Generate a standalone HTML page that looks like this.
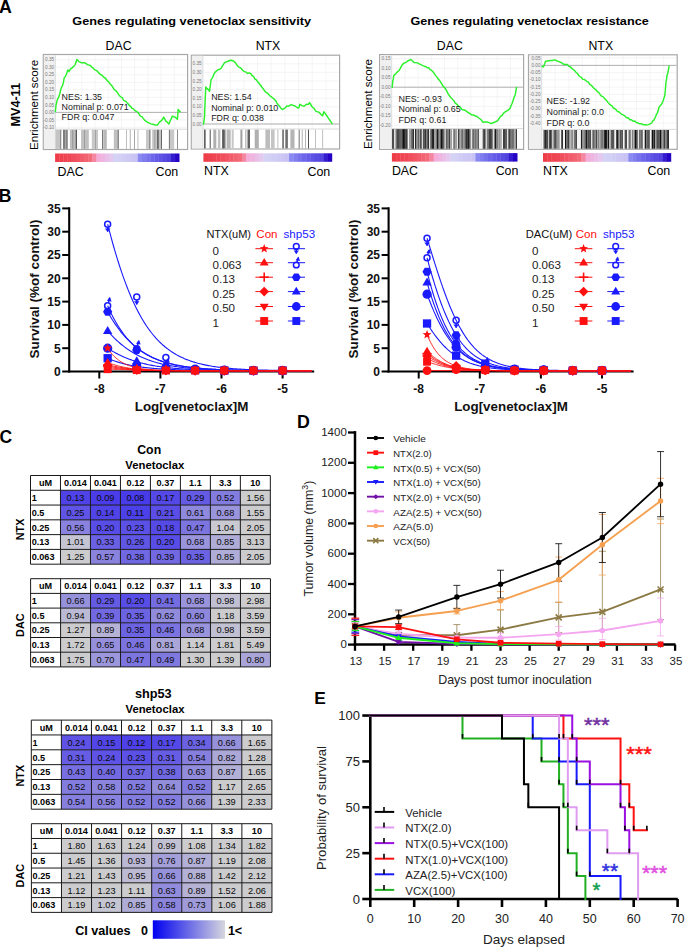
<!DOCTYPE html>
<html><head><meta charset="utf-8"><style>
html,body{margin:0;padding:0;background:#fff;width:685px;height:948px;overflow:hidden}
svg{display:block;font-family:"Liberation Sans",sans-serif}
</style></head><body>
<svg width="685" height="948" viewBox="0 0 685 948">
<rect width="685" height="948" fill="#fff"/>
<text x="-1" y="12.8" font-size="17.8" font-weight="bold" fill="#000">A</text>
<text x="72.3" y="25.1" font-size="11.7" font-weight="bold" fill="#000" textLength="238.7" lengthAdjust="spacingAndGlyphs">Genes regulating venetoclax sensitivity</text>
<text x="410.5" y="25.1" font-size="11.7" font-weight="bold" fill="#000" textLength="238.2" lengthAdjust="spacingAndGlyphs">Genes regulating venetoclax resistance</text>
<text x="118.6" y="49.8" font-size="12.3" text-anchor="middle" fill="#000">DAC</text>
<text x="268" y="49.8" font-size="12.3" text-anchor="middle" fill="#000">NTX</text>
<text x="449.8" y="49.8" font-size="12.3" text-anchor="middle" fill="#000">DAC</text>
<text x="600.8" y="49.8" font-size="12.3" text-anchor="middle" fill="#000">NTX</text>
<text x="20" y="104.8" font-size="13" font-weight="bold" text-anchor="middle" fill="#000" transform="rotate(-90 20 104.8)" textLength="43.5" lengthAdjust="spacingAndGlyphs">MV4-11</text>
<text x="38.5" y="104.9" font-size="11.6" text-anchor="middle" fill="#000" transform="rotate(-90 38.5 104.9)" textLength="90" lengthAdjust="spacingAndGlyphs">Enrichment score</text>
<text x="371.8" y="104" font-size="11.6" text-anchor="middle" fill="#000" transform="rotate(-90 371.8 104)" textLength="90" lengthAdjust="spacingAndGlyphs">Enrichment score</text>
<rect x="43.3" y="54.5" width="144.3" height="95" fill="#ffffff" stroke="#a8a8a8" stroke-width="1.2"/>
<rect x="43.9" y="55.1" width="11.5" height="93.8" fill="#f0f0f0"/>
<line x1="55.4" y1="55.1" x2="55.4" y2="148.9" stroke="#d8d8d8" stroke-width="0.8"/>
<line x1="55.4" y1="59.7" x2="186.6" y2="59.7" stroke="#ececec" stroke-width="0.6"/>
<text x="54.2" y="61.3" font-size="4.7" text-anchor="end" fill="#7a7a7a">0.35</text>
<line x1="55.4" y1="67.2" x2="186.6" y2="67.2" stroke="#ececec" stroke-width="0.6"/>
<text x="54.2" y="68.8" font-size="4.7" text-anchor="end" fill="#7a7a7a">0.30</text>
<line x1="55.4" y1="74.8" x2="186.6" y2="74.8" stroke="#ececec" stroke-width="0.6"/>
<text x="54.2" y="76.4" font-size="4.7" text-anchor="end" fill="#7a7a7a">0.25</text>
<line x1="55.4" y1="82.3" x2="186.6" y2="82.3" stroke="#ececec" stroke-width="0.6"/>
<text x="54.2" y="83.9" font-size="4.7" text-anchor="end" fill="#7a7a7a">0.20</text>
<line x1="55.4" y1="89.8" x2="186.6" y2="89.8" stroke="#ececec" stroke-width="0.6"/>
<text x="54.2" y="91.4" font-size="4.7" text-anchor="end" fill="#7a7a7a">0.15</text>
<line x1="55.4" y1="97.3" x2="186.6" y2="97.3" stroke="#ececec" stroke-width="0.6"/>
<text x="54.2" y="98.9" font-size="4.7" text-anchor="end" fill="#7a7a7a">0.10</text>
<line x1="55.4" y1="104.9" x2="186.6" y2="104.9" stroke="#ececec" stroke-width="0.6"/>
<text x="54.2" y="106.5" font-size="4.7" text-anchor="end" fill="#7a7a7a">0.05</text>
<line x1="55.4" y1="112.4" x2="186.6" y2="112.4" stroke="#ececec" stroke-width="0.6"/>
<text x="54.2" y="114" font-size="4.7" text-anchor="end" fill="#7a7a7a">0.00</text>
<line x1="55.4" y1="119.9" x2="186.6" y2="119.9" stroke="#ececec" stroke-width="0.6"/>
<text x="54.2" y="121.5" font-size="4.7" text-anchor="end" fill="#7a7a7a">-0.05</text>
<line x1="55.4" y1="127.4" x2="186.6" y2="127.4" stroke="#ececec" stroke-width="0.6"/>
<text x="54.2" y="129" font-size="4.7" text-anchor="end" fill="#7a7a7a">-0.10</text>
<line x1="68.62" y1="55.5" x2="68.62" y2="129.2" stroke="#efefef" stroke-width="0.6"/>
<line x1="81.84" y1="55.5" x2="81.84" y2="129.2" stroke="#efefef" stroke-width="0.6"/>
<line x1="95.06" y1="55.5" x2="95.06" y2="129.2" stroke="#efefef" stroke-width="0.6"/>
<line x1="108.28" y1="55.5" x2="108.28" y2="129.2" stroke="#efefef" stroke-width="0.6"/>
<line x1="121.5" y1="55.5" x2="121.5" y2="129.2" stroke="#efefef" stroke-width="0.6"/>
<line x1="134.72" y1="55.5" x2="134.72" y2="129.2" stroke="#efefef" stroke-width="0.6"/>
<line x1="147.94" y1="55.5" x2="147.94" y2="129.2" stroke="#efefef" stroke-width="0.6"/>
<line x1="161.16" y1="55.5" x2="161.16" y2="129.2" stroke="#efefef" stroke-width="0.6"/>
<line x1="174.38" y1="55.5" x2="174.38" y2="129.2" stroke="#efefef" stroke-width="0.6"/>
<line x1="55.4" y1="112.4" x2="187" y2="112.4" stroke="#a0a0a0" stroke-width="0.8"/>
<line x1="55.4" y1="129.2" x2="187" y2="129.2" stroke="#d0d0d0" stroke-width="0.8"/>
<rect x="55.6" y="129.8" width="4.6" height="19.1" fill="#c4c4c4"/>
<rect x="60.4" y="129.8" width="0.8" height="19.1" fill="#505050"/>
<rect x="63" y="129.8" width="4.8" height="19.1" fill="#a8a8a8"/>
<rect x="63.6" y="129.8" width="0.8" height="19.1" fill="#404040"/>
<rect x="66.5" y="129.8" width="0.8" height="19.1" fill="#606060"/>
<rect x="69.9" y="129.8" width="6.1" height="19.1" fill="#bdbdbd"/>
<rect x="72.5" y="129.8" width="0.7" height="19.1" fill="#808080"/>
<rect x="75.8" y="129.8" width="1" height="19.1" fill="#303030"/>
<rect x="81.1" y="129.8" width="7.7" height="19.1" fill="#c0c0c0"/>
<rect x="84" y="129.8" width="0.7" height="19.1" fill="#909090"/>
<rect x="91.8" y="129.8" width="6.2" height="19.1" fill="#c8c8c8"/>
<rect x="95" y="129.8" width="0.6" height="19.1" fill="#8a8a8a"/>
<rect x="102.3" y="129.8" width="0.8" height="19.1" fill="#404040"/>
<rect x="103.3" y="129.8" width="3.5" height="19.1" fill="#b8b8b8"/>
<rect x="113.8" y="129.8" width="4.6" height="19.1" fill="#c0c0c0"/>
<rect x="117.8" y="129.8" width="0.8" height="19.1" fill="#505050"/>
<rect x="126.2" y="129.8" width="0.8" height="19.1" fill="#b0b0b0"/>
<rect x="129.8" y="129.8" width="0.8" height="19.1" fill="#a0a0a0"/>
<rect x="134" y="129.8" width="0.8" height="19.1" fill="#909090"/>
<rect x="137.5" y="129.8" width="0.9" height="19.1" fill="#b8b8b8"/>
<rect x="146" y="129.8" width="4.7" height="19.1" fill="#c8c8c8"/>
<rect x="149.4" y="129.8" width="0.8" height="19.1" fill="#707070"/>
<rect x="152.2" y="129.8" width="9.7" height="19.1" fill="#c4c4c4"/>
<rect x="154.5" y="129.8" width="0.7" height="19.1" fill="#909090"/>
<rect x="157.2" y="129.8" width="1.4" height="19.1" fill="#505050"/>
<rect x="161" y="129.8" width="0.8" height="19.1" fill="#505050"/>
<rect x="169" y="129.8" width="5.2" height="19.1" fill="#c8c8c8"/>
<rect x="168.9" y="129.8" width="0.8" height="19.1" fill="#606060"/>
<rect x="177" y="129.8" width="0.8" height="19.1" fill="#707070"/>
<polyline points="55.28,112.21 55.49,110.36 55.7,108.51 55.91,106.66 56.12,104.3 56.55,103.26 56.97,100.88 57.39,99.47 58.14,98.11 58.88,96.66 59.41,94.7 59.93,93.16 60.46,90.52 60.99,88.85 61.7,87.02 62.4,85.79 63.11,83.69 63.46,82.15 63.82,80.04 64.17,77.99 65.23,76.61 66.29,74.46 67.03,72.17 67.77,70.07 69.04,71.37 70.52,68.81 72.11,67.85 73.69,66.38 75.18,64.59 75.74,63.11 76.31,61.34 76.87,59.43 78.99,61.56 81.1,62.74 83.22,62.84 85.34,63.09 87.45,64.59 88.87,65.03 90.28,65.42 91.69,67.09 92.96,67.85 94.23,69.29 95.5,70.07 96.77,70.49 98.04,72.13 99.25,73.37 100.46,74.55 101.67,74.98 102.88,76.26 104.09,77.51 105.3,77.98 106.51,79.79 107.56,81.03 108.62,81.55 109.68,83.47 110.74,84.55 111.8,85.67 112.86,87.46 113.91,89.18 114.97,90.04 116.18,90.92 117.39,92.7 118.6,94.38 119.81,95.93 121.02,97.03 122.23,97.65 123.44,100.03 124.65,100.83 125.86,101.47 127.07,102.73 128.28,103.9 129.49,105.74 130.7,106.39 131.91,108.32 133.18,108.61 134.45,110.14 135.72,111.09 136.99,111.71 138.26,112.72 139.53,114.99 140.8,116.34 142.07,116.67 143.34,118.61 144.61,120.16 146.02,121.2 147.43,122.3 148.84,122.83 150.96,123.88 153.08,124.28 155.19,125.08 157.31,125.14 158.37,123.7 159.43,122.13 161.54,120.55 162.6,119.33 163.66,117.06 164.72,118.77 165.78,121.16 167.36,122.16 168.95,124.06 169.59,122.46 170.22,120.63 170.86,119.51 171.49,118.38 172.13,116.26 173.72,116.81 175.3,117.16 177.42,119.27 177.53,118.29 177.63,116.46 177.74,115.05 177.84,113.04 177.95,111.66 178.06,109.46 179.33,110.84 180.6,112.21" fill="none" stroke="#2af02a" stroke-width="1.45" stroke-linejoin="round"/>
<text x="61.6" y="99.5" font-size="8.9" fill="#1a1a1a">NES: 1.35</text>
<text x="61.6" y="109.9" font-size="8.9" fill="#1a1a1a">Nominal p: 0.071</text>
<text x="61.6" y="120.3" font-size="8.9" fill="#1a1a1a">FDR q: 0.047</text>
<rect x="191.3" y="55.2" width="148.3" height="93.8" fill="#ffffff" stroke="#a8a8a8" stroke-width="1.2"/>
<rect x="191.9" y="55.8" width="11" height="92.6" fill="#f0f0f0"/>
<line x1="202.9" y1="55.8" x2="202.9" y2="148.4" stroke="#d8d8d8" stroke-width="0.8"/>
<line x1="202.9" y1="63.8" x2="338.6" y2="63.8" stroke="#ececec" stroke-width="0.6"/>
<text x="201.7" y="65.4" font-size="4.7" text-anchor="end" fill="#7a7a7a">0.35</text>
<line x1="202.9" y1="72.4" x2="338.6" y2="72.4" stroke="#ececec" stroke-width="0.6"/>
<text x="201.7" y="74" font-size="4.7" text-anchor="end" fill="#7a7a7a">0.30</text>
<line x1="202.9" y1="81" x2="338.6" y2="81" stroke="#ececec" stroke-width="0.6"/>
<text x="201.7" y="82.6" font-size="4.7" text-anchor="end" fill="#7a7a7a">0.25</text>
<line x1="202.9" y1="89.6" x2="338.6" y2="89.6" stroke="#ececec" stroke-width="0.6"/>
<text x="201.7" y="91.2" font-size="4.7" text-anchor="end" fill="#7a7a7a">0.20</text>
<line x1="202.9" y1="98.2" x2="338.6" y2="98.2" stroke="#ececec" stroke-width="0.6"/>
<text x="201.7" y="99.8" font-size="4.7" text-anchor="end" fill="#7a7a7a">0.15</text>
<line x1="202.9" y1="106.8" x2="338.6" y2="106.8" stroke="#ececec" stroke-width="0.6"/>
<text x="201.7" y="108.4" font-size="4.7" text-anchor="end" fill="#7a7a7a">0.10</text>
<line x1="202.9" y1="115.4" x2="338.6" y2="115.4" stroke="#ececec" stroke-width="0.6"/>
<text x="201.7" y="117" font-size="4.7" text-anchor="end" fill="#7a7a7a">0.05</text>
<line x1="202.9" y1="124" x2="338.6" y2="124" stroke="#ececec" stroke-width="0.6"/>
<text x="201.7" y="125.6" font-size="4.7" text-anchor="end" fill="#7a7a7a">0.00</text>
<line x1="216.57" y1="56.2" x2="216.57" y2="129" stroke="#efefef" stroke-width="0.6"/>
<line x1="230.24" y1="56.2" x2="230.24" y2="129" stroke="#efefef" stroke-width="0.6"/>
<line x1="243.91" y1="56.2" x2="243.91" y2="129" stroke="#efefef" stroke-width="0.6"/>
<line x1="257.58" y1="56.2" x2="257.58" y2="129" stroke="#efefef" stroke-width="0.6"/>
<line x1="271.25" y1="56.2" x2="271.25" y2="129" stroke="#efefef" stroke-width="0.6"/>
<line x1="284.92" y1="56.2" x2="284.92" y2="129" stroke="#efefef" stroke-width="0.6"/>
<line x1="298.59" y1="56.2" x2="298.59" y2="129" stroke="#efefef" stroke-width="0.6"/>
<line x1="312.26" y1="56.2" x2="312.26" y2="129" stroke="#efefef" stroke-width="0.6"/>
<line x1="325.93" y1="56.2" x2="325.93" y2="129" stroke="#efefef" stroke-width="0.6"/>
<line x1="202.9" y1="124" x2="339" y2="124" stroke="#a0a0a0" stroke-width="0.8"/>
<line x1="202.9" y1="129" x2="339" y2="129" stroke="#d0d0d0" stroke-width="0.8"/>
<rect x="204.1" y="129.6" width="1.5" height="18.8" fill="#505050"/>
<rect x="209.7" y="129.6" width="1" height="18.8" fill="#505050"/>
<rect x="213.3" y="129.6" width="3" height="18.8" fill="#b0b0b0"/>
<rect x="217.9" y="129.6" width="2.5" height="18.8" fill="#c0c0c0"/>
<rect x="222" y="129.6" width="3.5" height="18.8" fill="#787878"/>
<rect x="222.8" y="129.6" width="0.7" height="18.8" fill="#404040"/>
<rect x="226.6" y="129.6" width="4.1" height="18.8" fill="#b8b8b8"/>
<rect x="231.7" y="129.6" width="2" height="18.8" fill="#c8c8c8"/>
<rect x="240.4" y="129.6" width="2" height="18.8" fill="#a0a0a0"/>
<rect x="245" y="129.6" width="1.5" height="18.8" fill="#c0c0c0"/>
<rect x="247.5" y="129.6" width="2.5" height="18.8" fill="#606060"/>
<rect x="254.7" y="129.6" width="4.1" height="18.8" fill="#b0b0b0"/>
<rect x="265.4" y="129.6" width="4.6" height="18.8" fill="#bcbcbc"/>
<rect x="271" y="129.6" width="3.6" height="18.8" fill="#c4c4c4"/>
<rect x="277.5" y="129.6" width="0.8" height="18.8" fill="#b0b0b0"/>
<rect x="282.3" y="129.6" width="1.5" height="18.8" fill="#606060"/>
<rect x="285.3" y="129.6" width="2.6" height="18.8" fill="#707070"/>
<rect x="290.4" y="129.6" width="4.1" height="18.8" fill="#b4b4b4"/>
<rect x="298.7" y="129.6" width="0.9" height="18.8" fill="#606060"/>
<rect x="301.8" y="129.6" width="0.8" height="18.8" fill="#a0a0a0"/>
<rect x="305" y="129.6" width="0.8" height="18.8" fill="#a0a0a0"/>
<rect x="308" y="129.6" width="0.9" height="18.8" fill="#404040"/>
<rect x="315.1" y="129.6" width="0.8" height="18.8" fill="#b0b0b0"/>
<rect x="322.2" y="129.6" width="0.9" height="18.8" fill="#b8b8b8"/>
<polyline points="203.4,124.7 203.67,122.79 203.94,120.89 204.22,118.99 204.49,117.37 204.55,115.77 204.62,114.23 204.68,112.2 204.75,110.17 204.81,108.82 204.88,107.45 204.94,105.64 205.01,104.16 205.07,102.84 205.14,100.67 205.22,98.85 205.3,97.09 205.38,95.72 205.47,93.84 205.55,92.3 205.63,89.64 205.71,88.41 205.79,86.96 207.1,88.67 208.4,89.67 209.49,91.27 209.71,90.18 209.93,87.66 210.14,86.86 210.36,85.28 210.58,83.53 210.8,82.14 211.01,79.8 211.88,78.62 212.75,77.37 213.48,75.37 214.2,73.66 214.93,72.38 216.56,70.98 218.19,69.64 219.82,69.24 221.45,67.65 222.54,65.86 223.63,64.21 224.72,62.36 226.35,61.93 227.98,61.26 229.61,60.49 231.24,60.28 233.42,61.03 235.59,62.89 236.68,64.53 237.77,66.26 239.4,67.34 241.03,68.23 242.66,70.29 244.3,71.6 245.93,71.89 247.56,73.51 249.19,72.92 250.82,73.76 251.91,75.31 253,76.08 254.08,77.46 255.17,79.31 256.26,79.67 257.35,81.39 258.44,82.51 259.52,84.02 260.61,85.25 261.7,87 262.79,88.16 263.87,89.73 264.96,91.24 266.2,92.6 267.45,93.04 268.69,94.46 269.93,95.81 271.18,96.54 272.42,97.72 273.66,98.63 274.75,99.75 275.84,100.85 276.93,103.06 278.01,104.55 279.1,105.65 280.19,107.12 281.28,108.62 282.36,109.54 283.81,108.68 285.26,107.75 286.71,106.18 288.89,106.01 291.07,104.6 293.24,105.39 295.42,106.26 297.05,107.48 298.68,108.01 299.22,106.66 299.77,104.32 301.94,105.59 304.12,106.22 305.57,104.94 307.02,104.23 308.47,104.28 309.56,102.61 310.64,104.09 311.73,106.31 312.82,107.64 313.91,108.08 314.99,109.87 316.08,111.42 317.71,111.83 319.34,112.44 320.98,114.5 322.61,115.84 323.15,114.36 323.7,111.64 324.78,113.04 325.87,114.26 326.96,116 327.86,117.34 328.77,118.68 329.68,120.02 330.58,121.36 331.49,122.7 332.4,124.05" fill="none" stroke="#2af02a" stroke-width="1.45" stroke-linejoin="round"/>
<text x="211.2" y="100.1" font-size="8.9" fill="#1a1a1a">NES: 1.54</text>
<text x="211.2" y="110.75" font-size="8.9" fill="#1a1a1a">Nominal p: 0.010</text>
<text x="211.2" y="121.4" font-size="8.9" fill="#1a1a1a">FDR q: 0.038</text>
<rect x="379.6" y="54.6" width="144" height="94.8" fill="#ffffff" stroke="#a8a8a8" stroke-width="1.2"/>
<rect x="380.2" y="55.2" width="11.5" height="93.6" fill="#f0f0f0"/>
<line x1="391.7" y1="55.2" x2="391.7" y2="148.8" stroke="#d8d8d8" stroke-width="0.8"/>
<line x1="391.7" y1="58.7" x2="522.6" y2="58.7" stroke="#ececec" stroke-width="0.6"/>
<text x="390.5" y="60.3" font-size="4.7" text-anchor="end" fill="#7a7a7a">0.15</text>
<line x1="391.7" y1="68.2" x2="522.6" y2="68.2" stroke="#ececec" stroke-width="0.6"/>
<text x="390.5" y="69.8" font-size="4.7" text-anchor="end" fill="#7a7a7a">0.10</text>
<line x1="391.7" y1="77.7" x2="522.6" y2="77.7" stroke="#ececec" stroke-width="0.6"/>
<text x="390.5" y="79.3" font-size="4.7" text-anchor="end" fill="#7a7a7a">0.05</text>
<line x1="391.7" y1="87.2" x2="522.6" y2="87.2" stroke="#ececec" stroke-width="0.6"/>
<text x="390.5" y="88.8" font-size="4.7" text-anchor="end" fill="#7a7a7a">0.00</text>
<line x1="391.7" y1="96.7" x2="522.6" y2="96.7" stroke="#ececec" stroke-width="0.6"/>
<text x="390.5" y="98.3" font-size="4.7" text-anchor="end" fill="#7a7a7a">-0.05</text>
<line x1="391.7" y1="106.3" x2="522.6" y2="106.3" stroke="#ececec" stroke-width="0.6"/>
<text x="390.5" y="107.9" font-size="4.7" text-anchor="end" fill="#7a7a7a">-0.10</text>
<line x1="391.7" y1="115.8" x2="522.6" y2="115.8" stroke="#ececec" stroke-width="0.6"/>
<text x="390.5" y="117.4" font-size="4.7" text-anchor="end" fill="#7a7a7a">-0.15</text>
<line x1="391.7" y1="125.3" x2="522.6" y2="125.3" stroke="#ececec" stroke-width="0.6"/>
<text x="390.5" y="126.9" font-size="4.7" text-anchor="end" fill="#7a7a7a">-0.20</text>
<line x1="404.89" y1="55.6" x2="404.89" y2="128.5" stroke="#efefef" stroke-width="0.6"/>
<line x1="418.08" y1="55.6" x2="418.08" y2="128.5" stroke="#efefef" stroke-width="0.6"/>
<line x1="431.27" y1="55.6" x2="431.27" y2="128.5" stroke="#efefef" stroke-width="0.6"/>
<line x1="444.46" y1="55.6" x2="444.46" y2="128.5" stroke="#efefef" stroke-width="0.6"/>
<line x1="457.65" y1="55.6" x2="457.65" y2="128.5" stroke="#efefef" stroke-width="0.6"/>
<line x1="470.84" y1="55.6" x2="470.84" y2="128.5" stroke="#efefef" stroke-width="0.6"/>
<line x1="484.03" y1="55.6" x2="484.03" y2="128.5" stroke="#efefef" stroke-width="0.6"/>
<line x1="497.22" y1="55.6" x2="497.22" y2="128.5" stroke="#efefef" stroke-width="0.6"/>
<line x1="510.41" y1="55.6" x2="510.41" y2="128.5" stroke="#efefef" stroke-width="0.6"/>
<line x1="391.7" y1="87.2" x2="523" y2="87.2" stroke="#a0a0a0" stroke-width="0.8"/>
<line x1="391.7" y1="128.5" x2="523" y2="128.5" stroke="#d0d0d0" stroke-width="0.8"/>
<rect x="392" y="129.1" width="0.89" height="19.7" fill="#404040"/>
<rect x="392.89" y="129.1" width="0.76" height="19.7" fill="#202020"/>
<rect x="393.64" y="129.1" width="1.35" height="19.7" fill="#1a1a1a"/>
<rect x="394.99" y="129.1" width="1.33" height="19.7" fill="#202020"/>
<rect x="396.32" y="129.1" width="0.91" height="19.7" fill="#505050"/>
<rect x="397.23" y="129.1" width="0.83" height="19.7" fill="#202020"/>
<rect x="398.06" y="129.1" width="1.25" height="19.7" fill="#404040"/>
<rect x="399.31" y="129.1" width="1.17" height="19.7" fill="#303030"/>
<rect x="400.48" y="129.1" width="0.88" height="19.7" fill="#303030"/>
<rect x="401.36" y="129.1" width="1.64" height="19.7" fill="#404040"/>
<rect x="403" y="129.1" width="1.07" height="19.7" fill="#101010"/>
<rect x="404.07" y="129.1" width="1.41" height="19.7" fill="#1a1a1a"/>
<rect x="405.48" y="129.1" width="0.79" height="19.7" fill="#101010"/>
<rect x="406.27" y="129.1" width="0.96" height="19.7" fill="#101010"/>
<rect x="407.23" y="129.1" width="1.59" height="19.7" fill="#606060"/>
<rect x="408.82" y="129.1" width="1.17" height="19.7" fill="#a0a0a0"/>
<rect x="409.98" y="129.1" width="1.46" height="19.7" fill="#a0a0a0"/>
<rect x="411.44" y="129.1" width="1.07" height="19.7" fill="#202020"/>
<rect x="412.51" y="129.1" width="1.76" height="19.7" fill="#303030"/>
<rect x="414.27" y="129.1" width="1.65" height="19.7" fill="#1a1a1a"/>
<rect x="415.93" y="129.1" width="0.64" height="19.7" fill="#202020"/>
<rect x="416.57" y="129.1" width="0.86" height="19.7" fill="#a0a0a0"/>
<rect x="417.43" y="129.1" width="1.53" height="19.7" fill="#606060"/>
<rect x="418.96" y="129.1" width="1.11" height="19.7" fill="#a0a0a0"/>
<rect x="420.07" y="129.1" width="1.29" height="19.7" fill="#404040"/>
<rect x="421.36" y="129.1" width="1.3" height="19.7" fill="#505050"/>
<rect x="422.66" y="129.1" width="1.69" height="19.7" fill="#101010"/>
<rect x="424.35" y="129.1" width="1.63" height="19.7" fill="#303030"/>
<rect x="425.97" y="129.1" width="1.44" height="19.7" fill="#808080"/>
<rect x="427.41" y="129.1" width="1.76" height="19.7" fill="#1a1a1a"/>
<rect x="429.17" y="129.1" width="1.46" height="19.7" fill="#505050"/>
<rect x="430.63" y="129.1" width="1.36" height="19.7" fill="#606060"/>
<rect x="431.99" y="129.1" width="0.94" height="19.7" fill="#1a1a1a"/>
<rect x="432.93" y="129.1" width="1.18" height="19.7" fill="#202020"/>
<rect x="434.11" y="129.1" width="0.71" height="19.7" fill="#1a1a1a"/>
<rect x="434.81" y="129.1" width="1.09" height="19.7" fill="#303030"/>
<rect x="435.9" y="129.1" width="0.62" height="19.7" fill="#a0a0a0"/>
<rect x="436.53" y="129.1" width="1.52" height="19.7" fill="#1a1a1a"/>
<rect x="438.05" y="129.1" width="0.65" height="19.7" fill="#101010"/>
<rect x="438.7" y="129.1" width="1.05" height="19.7" fill="#808080"/>
<rect x="439.76" y="129.1" width="1.26" height="19.7" fill="#606060"/>
<rect x="441.02" y="129.1" width="1.21" height="19.7" fill="#101010"/>
<rect x="442.23" y="129.1" width="0.97" height="19.7" fill="#1a1a1a"/>
<rect x="443.2" y="129.1" width="0.73" height="19.7" fill="#404040"/>
<rect x="443.93" y="129.1" width="0.64" height="19.7" fill="#505050"/>
<rect x="444.56" y="129.1" width="1.77" height="19.7" fill="#606060"/>
<rect x="446.33" y="129.1" width="1.33" height="19.7" fill="#303030"/>
<rect x="447.66" y="129.1" width="1.43" height="19.7" fill="#808080"/>
<rect x="449.09" y="129.1" width="0.98" height="19.7" fill="#303030"/>
<rect x="450.07" y="129.1" width="1.68" height="19.7" fill="#a0a0a0"/>
<rect x="451.74" y="129.1" width="1.05" height="19.7" fill="#404040"/>
<rect x="452.79" y="129.1" width="1.06" height="19.7" fill="#404040"/>
<rect x="453.86" y="129.1" width="0.72" height="19.7" fill="#404040"/>
<rect x="454.58" y="129.1" width="0.93" height="19.7" fill="#505050"/>
<rect x="455.51" y="129.1" width="1.72" height="19.7" fill="#a0a0a0"/>
<rect x="457.23" y="129.1" width="1.77" height="19.7" fill="#404040"/>
<rect x="459" y="129.1" width="0.96" height="19.7" fill="#808080"/>
<rect x="459.97" y="129.1" width="0.61" height="19.7" fill="#a0a0a0"/>
<rect x="460.58" y="129.1" width="1.78" height="19.7" fill="#808080"/>
<rect x="462.37" y="129.1" width="0.62" height="19.7" fill="#303030"/>
<rect x="462.99" y="129.1" width="0.67" height="19.7" fill="#808080"/>
<rect x="463.66" y="129.1" width="1.16" height="19.7" fill="#808080"/>
<rect x="464.82" y="129.1" width="1.33" height="19.7" fill="#606060"/>
<rect x="466.15" y="129.1" width="1.49" height="19.7" fill="#101010"/>
<rect x="467.64" y="129.1" width="1.31" height="19.7" fill="#101010"/>
<rect x="468.95" y="129.1" width="1.76" height="19.7" fill="#606060"/>
<rect x="470.7" y="129.1" width="1.35" height="19.7" fill="#606060"/>
<rect x="472.06" y="129.1" width="1.31" height="19.7" fill="#808080"/>
<rect x="473.37" y="129.1" width="0.81" height="19.7" fill="#303030"/>
<rect x="474.18" y="129.1" width="0.98" height="19.7" fill="#808080"/>
<rect x="475.15" y="129.1" width="1.61" height="19.7" fill="#606060"/>
<rect x="476.77" y="129.1" width="0.96" height="19.7" fill="#a0a0a0"/>
<rect x="477.73" y="129.1" width="0.73" height="19.7" fill="#101010"/>
<rect x="478.45" y="129.1" width="1.77" height="19.7" fill="#303030"/>
<rect x="480.22" y="129.1" width="0.97" height="19.7" fill="#505050"/>
<rect x="481.19" y="129.1" width="1.38" height="19.7" fill="#606060"/>
<rect x="482.58" y="129.1" width="0.89" height="19.7" fill="#303030"/>
<rect x="483.46" y="129.1" width="1.41" height="19.7" fill="#1a1a1a"/>
<rect x="484.88" y="129.1" width="0.72" height="19.7" fill="#808080"/>
<rect x="485.6" y="129.1" width="1.74" height="19.7" fill="#505050"/>
<rect x="487.34" y="129.1" width="1.13" height="19.7" fill="#303030"/>
<rect x="488.46" y="129.1" width="0.7" height="19.7" fill="#505050"/>
<rect x="489.16" y="129.1" width="1.66" height="19.7" fill="#202020"/>
<rect x="490.82" y="129.1" width="0.92" height="19.7" fill="#1a1a1a"/>
<rect x="491.75" y="129.1" width="0.64" height="19.7" fill="#505050"/>
<rect x="492.39" y="129.1" width="0.98" height="19.7" fill="#303030"/>
<rect x="493.36" y="129.1" width="1.64" height="19.7" fill="#808080"/>
<rect x="495" y="129.1" width="1.57" height="19.7" fill="#1a1a1a"/>
<rect x="496.57" y="129.1" width="1.57" height="19.7" fill="#808080"/>
<rect x="498.14" y="129.1" width="1.31" height="19.7" fill="#a0a0a0"/>
<rect x="499.44" y="129.1" width="0.95" height="19.7" fill="#606060"/>
<rect x="500.39" y="129.1" width="1.16" height="19.7" fill="#a0a0a0"/>
<rect x="501.55" y="129.1" width="0.95" height="19.7" fill="#a0a0a0"/>
<rect x="502.5" y="129.1" width="0.64" height="19.7" fill="#a0a0a0"/>
<rect x="503.14" y="129.1" width="0.79" height="19.7" fill="#101010"/>
<rect x="503.93" y="129.1" width="1.17" height="19.7" fill="#404040"/>
<rect x="505.1" y="129.1" width="1.12" height="19.7" fill="#505050"/>
<rect x="506.22" y="129.1" width="0.64" height="19.7" fill="#202020"/>
<rect x="506.86" y="129.1" width="1.6" height="19.7" fill="#404040"/>
<rect x="508.47" y="129.1" width="1.76" height="19.7" fill="#404040"/>
<rect x="510.22" y="129.1" width="1.01" height="19.7" fill="#505050"/>
<rect x="511.23" y="129.1" width="1.63" height="19.7" fill="#606060"/>
<rect x="512.87" y="129.1" width="0.74" height="19.7" fill="#505050"/>
<rect x="513.61" y="129.1" width="0.65" height="19.7" fill="#404040"/>
<rect x="514.26" y="129.1" width="1.71" height="19.7" fill="#a0a0a0"/>
<rect x="515.97" y="129.1" width="0.83" height="19.7" fill="#101010"/>
<rect x="394.1" y="129.1" width="1.6" height="19.7" fill="#f4f4f4"/>
<rect x="407.9" y="129.1" width="1.1" height="19.7" fill="#f4f4f4"/>
<rect x="414" y="129.1" width="1" height="19.7" fill="#f4f4f4"/>
<rect x="422.2" y="129.1" width="1.1" height="19.7" fill="#f4f4f4"/>
<rect x="428.9" y="129.1" width="1" height="19.7" fill="#f4f4f4"/>
<rect x="434.5" y="129.1" width="1" height="19.7" fill="#f4f4f4"/>
<rect x="444.7" y="129.1" width="1" height="19.7" fill="#f4f4f4"/>
<rect x="451.9" y="129.1" width="1.5" height="19.7" fill="#f4f4f4"/>
<rect x="457" y="129.1" width="0.9" height="19.7" fill="#f4f4f4"/>
<rect x="470.8" y="129.1" width="1.1" height="19.7" fill="#f4f4f4"/>
<rect x="479" y="129.1" width="3.6" height="19.7" fill="#f4f4f4"/>
<rect x="486.2" y="129.1" width="1" height="19.7" fill="#f4f4f4"/>
<rect x="492.8" y="129.1" width="1" height="19.7" fill="#f4f4f4"/>
<rect x="502" y="129.1" width="1" height="19.7" fill="#f4f4f4"/>
<rect x="507.1" y="129.1" width="1" height="19.7" fill="#f4f4f4"/>
<polyline points="392.12,87.87 392.34,85.75 392.55,83.64 392.76,81 393.02,79.97 393.29,78.64 393.55,76.95 393.82,75.63 395.93,73.54 397.52,71.74 399.11,70.42 400.17,68.64 401.23,66.61 402.29,64.57 404.4,62.88 405.99,62.46 407.58,60.98 409.17,60.29 410.75,59.5 412.34,60.75 413.93,62.52 415.69,62.6 417.46,62.87 419.22,63.88 421.34,64.92 423.45,65.81 425.22,66.48 426.98,67.47 428.75,67.67 430.07,69.57 431.39,70.22 432.72,71.45 434.04,73.17 435.1,74.98 436.15,76.12 437.21,77.35 438.27,79.16 439.33,80.08 440.39,81.56 441.45,83.43 442.51,85.19 443.56,86.91 444.62,87.4 445.5,89.05 446.39,90.18 447.27,92.14 448.15,93.92 449.03,94.89 449.91,96.58 450.97,97.69 452.03,98.59 453.09,99.87 454.15,101.01 455.21,103.14 456.48,103.92 457.75,105.26 459.02,106.78 460.29,107.13 461.56,109.1 463.14,109.93 464.73,110.09 466.32,111.06 467.91,112.51 469.67,113.44 471.44,114.71 473.2,114.99 474.96,115.77 476.73,116.32 478.49,117.75 479.9,118.77 481.31,119.96 482.73,122.23 484.84,122.07 486.96,121.98 489.08,122.64 491.19,123.56 492.96,122.73 494.72,122.19 496.49,121.26 497.54,120.86 498.6,119.24 499.66,117.59 500.72,116.13 502.04,115.51 503.36,113.39 504.69,112.22 506.01,111.44 507.42,110.64 508.83,109.57 510.24,108.09 510.88,105.95 511.51,104.77 512.15,103.22 512.78,101.41 513.42,99.49 513.95,97.81 514.48,96.51 515.01,95.26 515.54,93.16 515.8,91.57 516.07,89.99 516.33,88.4 516.6,86.81" fill="none" stroke="#2af02a" stroke-width="1.45" stroke-linejoin="round"/>
<text x="398.5" y="101.6" font-size="8.9" fill="#1a1a1a">NES: -0.93</text>
<text x="398.5" y="112.2" font-size="8.9" fill="#1a1a1a">Nominal p: 0.65</text>
<text x="398.5" y="122.8" font-size="8.9" fill="#1a1a1a">FDR q: 0.61</text>
<rect x="528.5" y="54.8" width="148.7" height="94.5" fill="#ffffff" stroke="#a8a8a8" stroke-width="1.2"/>
<rect x="529.1" y="55.4" width="12.6" height="93.3" fill="#f0f0f0"/>
<line x1="541.7" y1="55.4" x2="541.7" y2="148.7" stroke="#d8d8d8" stroke-width="0.8"/>
<line x1="541.7" y1="57.9" x2="676.2" y2="57.9" stroke="#ececec" stroke-width="0.6"/>
<text x="540.5" y="59.5" font-size="4.7" text-anchor="end" fill="#7a7a7a">0.05</text>
<line x1="541.7" y1="65.4" x2="676.2" y2="65.4" stroke="#ececec" stroke-width="0.6"/>
<text x="540.5" y="67" font-size="4.7" text-anchor="end" fill="#7a7a7a">0.00</text>
<line x1="541.7" y1="72.6" x2="676.2" y2="72.6" stroke="#ececec" stroke-width="0.6"/>
<text x="540.5" y="74.2" font-size="4.7" text-anchor="end" fill="#7a7a7a">-0.05</text>
<line x1="541.7" y1="79.8" x2="676.2" y2="79.8" stroke="#ececec" stroke-width="0.6"/>
<text x="540.5" y="81.4" font-size="4.7" text-anchor="end" fill="#7a7a7a">-0.10</text>
<line x1="541.7" y1="87.1" x2="676.2" y2="87.1" stroke="#ececec" stroke-width="0.6"/>
<text x="540.5" y="88.7" font-size="4.7" text-anchor="end" fill="#7a7a7a">-0.15</text>
<line x1="541.7" y1="94.3" x2="676.2" y2="94.3" stroke="#ececec" stroke-width="0.6"/>
<text x="540.5" y="95.9" font-size="4.7" text-anchor="end" fill="#7a7a7a">-0.20</text>
<line x1="541.7" y1="101.5" x2="676.2" y2="101.5" stroke="#ececec" stroke-width="0.6"/>
<text x="540.5" y="103.1" font-size="4.7" text-anchor="end" fill="#7a7a7a">-0.25</text>
<line x1="541.7" y1="108.7" x2="676.2" y2="108.7" stroke="#ececec" stroke-width="0.6"/>
<text x="540.5" y="110.3" font-size="4.7" text-anchor="end" fill="#7a7a7a">-0.30</text>
<line x1="541.7" y1="115.9" x2="676.2" y2="115.9" stroke="#ececec" stroke-width="0.6"/>
<text x="540.5" y="117.5" font-size="4.7" text-anchor="end" fill="#7a7a7a">-0.35</text>
<line x1="541.7" y1="123.1" x2="676.2" y2="123.1" stroke="#ececec" stroke-width="0.6"/>
<text x="540.5" y="124.7" font-size="4.7" text-anchor="end" fill="#7a7a7a">-0.40</text>
<line x1="555.25" y1="55.8" x2="555.25" y2="129.4" stroke="#efefef" stroke-width="0.6"/>
<line x1="568.8" y1="55.8" x2="568.8" y2="129.4" stroke="#efefef" stroke-width="0.6"/>
<line x1="582.35" y1="55.8" x2="582.35" y2="129.4" stroke="#efefef" stroke-width="0.6"/>
<line x1="595.9" y1="55.8" x2="595.9" y2="129.4" stroke="#efefef" stroke-width="0.6"/>
<line x1="609.45" y1="55.8" x2="609.45" y2="129.4" stroke="#efefef" stroke-width="0.6"/>
<line x1="623" y1="55.8" x2="623" y2="129.4" stroke="#efefef" stroke-width="0.6"/>
<line x1="636.55" y1="55.8" x2="636.55" y2="129.4" stroke="#efefef" stroke-width="0.6"/>
<line x1="650.1" y1="55.8" x2="650.1" y2="129.4" stroke="#efefef" stroke-width="0.6"/>
<line x1="663.65" y1="55.8" x2="663.65" y2="129.4" stroke="#efefef" stroke-width="0.6"/>
<line x1="541.7" y1="65.4" x2="676.6" y2="65.4" stroke="#a0a0a0" stroke-width="0.8"/>
<line x1="541.7" y1="129.4" x2="676.6" y2="129.4" stroke="#d0d0d0" stroke-width="0.8"/>
<rect x="543.6" y="130" width="0.88" height="18.7" fill="#1a1a1a"/>
<rect x="544.48" y="130" width="1.47" height="18.7" fill="#202020"/>
<rect x="545.95" y="130" width="0.79" height="18.7" fill="#1a1a1a"/>
<rect x="546.73" y="130" width="0.62" height="18.7" fill="#404040"/>
<rect x="547.36" y="130" width="1.7" height="18.7" fill="#101010"/>
<rect x="549.06" y="130" width="0.87" height="18.7" fill="#404040"/>
<rect x="549.93" y="130" width="1.03" height="18.7" fill="#303030"/>
<rect x="550.96" y="130" width="1.59" height="18.7" fill="#606060"/>
<rect x="552.55" y="130" width="0.86" height="18.7" fill="#101010"/>
<rect x="553.41" y="130" width="1.59" height="18.7" fill="#606060"/>
<rect x="555" y="130" width="1.56" height="18.7" fill="#505050"/>
<rect x="556.56" y="130" width="0.8" height="18.7" fill="#606060"/>
<rect x="557.36" y="130" width="1.35" height="18.7" fill="#808080"/>
<rect x="558.71" y="130" width="0.7" height="18.7" fill="#808080"/>
<rect x="559.42" y="130" width="1.41" height="18.7" fill="#404040"/>
<rect x="560.82" y="130" width="0.9" height="18.7" fill="#505050"/>
<rect x="561.72" y="130" width="1.17" height="18.7" fill="#1a1a1a"/>
<rect x="562.89" y="130" width="1.73" height="18.7" fill="#404040"/>
<rect x="564.62" y="130" width="1.61" height="18.7" fill="#101010"/>
<rect x="566.23" y="130" width="1.69" height="18.7" fill="#606060"/>
<rect x="567.92" y="130" width="1.62" height="18.7" fill="#404040"/>
<rect x="569.54" y="130" width="0.83" height="18.7" fill="#a0a0a0"/>
<rect x="570.38" y="130" width="1.32" height="18.7" fill="#a0a0a0"/>
<rect x="571.69" y="130" width="1.14" height="18.7" fill="#505050"/>
<rect x="572.84" y="130" width="0.97" height="18.7" fill="#101010"/>
<rect x="573.8" y="130" width="0.7" height="18.7" fill="#202020"/>
<rect x="574.5" y="130" width="1.35" height="18.7" fill="#606060"/>
<rect x="575.85" y="130" width="1.22" height="18.7" fill="#202020"/>
<rect x="577.07" y="130" width="1.44" height="18.7" fill="#303030"/>
<rect x="578.51" y="130" width="1.8" height="18.7" fill="#505050"/>
<rect x="580.31" y="130" width="0.68" height="18.7" fill="#505050"/>
<rect x="580.99" y="130" width="1.36" height="18.7" fill="#202020"/>
<rect x="582.35" y="130" width="0.93" height="18.7" fill="#808080"/>
<rect x="583.28" y="130" width="1.12" height="18.7" fill="#808080"/>
<rect x="584.41" y="130" width="1.36" height="18.7" fill="#505050"/>
<rect x="585.77" y="130" width="1.69" height="18.7" fill="#1a1a1a"/>
<rect x="587.45" y="130" width="1.61" height="18.7" fill="#505050"/>
<rect x="589.06" y="130" width="0.93" height="18.7" fill="#505050"/>
<rect x="589.99" y="130" width="0.75" height="18.7" fill="#303030"/>
<rect x="590.74" y="130" width="0.95" height="18.7" fill="#101010"/>
<rect x="591.69" y="130" width="0.65" height="18.7" fill="#1a1a1a"/>
<rect x="592.34" y="130" width="1.68" height="18.7" fill="#606060"/>
<rect x="594.02" y="130" width="1.48" height="18.7" fill="#808080"/>
<rect x="595.5" y="130" width="0.62" height="18.7" fill="#606060"/>
<rect x="596.12" y="130" width="0.99" height="18.7" fill="#303030"/>
<rect x="597.11" y="130" width="1.53" height="18.7" fill="#a0a0a0"/>
<rect x="598.64" y="130" width="1.63" height="18.7" fill="#1a1a1a"/>
<rect x="600.27" y="130" width="0.95" height="18.7" fill="#505050"/>
<rect x="601.22" y="130" width="1.67" height="18.7" fill="#606060"/>
<rect x="602.89" y="130" width="0.76" height="18.7" fill="#a0a0a0"/>
<rect x="603.66" y="130" width="1.32" height="18.7" fill="#303030"/>
<rect x="604.98" y="130" width="1" height="18.7" fill="#101010"/>
<rect x="605.97" y="130" width="1.04" height="18.7" fill="#202020"/>
<rect x="607.01" y="130" width="0.8" height="18.7" fill="#808080"/>
<rect x="607.81" y="130" width="1.8" height="18.7" fill="#1a1a1a"/>
<rect x="609.61" y="130" width="1.13" height="18.7" fill="#505050"/>
<rect x="610.74" y="130" width="1.11" height="18.7" fill="#505050"/>
<rect x="611.85" y="130" width="0.74" height="18.7" fill="#101010"/>
<rect x="612.58" y="130" width="0.67" height="18.7" fill="#303030"/>
<rect x="613.25" y="130" width="1.31" height="18.7" fill="#303030"/>
<rect x="614.56" y="130" width="1.33" height="18.7" fill="#404040"/>
<rect x="615.89" y="130" width="1.19" height="18.7" fill="#505050"/>
<rect x="617.08" y="130" width="0.99" height="18.7" fill="#101010"/>
<rect x="618.07" y="130" width="0.75" height="18.7" fill="#404040"/>
<rect x="618.81" y="130" width="0.95" height="18.7" fill="#a0a0a0"/>
<rect x="619.76" y="130" width="1.38" height="18.7" fill="#505050"/>
<rect x="621.15" y="130" width="1.17" height="18.7" fill="#505050"/>
<rect x="622.32" y="130" width="1.13" height="18.7" fill="#202020"/>
<rect x="623.45" y="130" width="0.64" height="18.7" fill="#a0a0a0"/>
<rect x="624.09" y="130" width="1.13" height="18.7" fill="#a0a0a0"/>
<rect x="625.22" y="130" width="1.6" height="18.7" fill="#202020"/>
<rect x="626.82" y="130" width="0.83" height="18.7" fill="#101010"/>
<rect x="627.65" y="130" width="0.91" height="18.7" fill="#505050"/>
<rect x="628.55" y="130" width="1.23" height="18.7" fill="#505050"/>
<rect x="629.78" y="130" width="1.1" height="18.7" fill="#606060"/>
<rect x="630.88" y="130" width="0.77" height="18.7" fill="#101010"/>
<rect x="631.65" y="130" width="1.67" height="18.7" fill="#808080"/>
<rect x="633.32" y="130" width="1.28" height="18.7" fill="#a0a0a0"/>
<rect x="634.6" y="130" width="1.76" height="18.7" fill="#101010"/>
<rect x="636.36" y="130" width="1.19" height="18.7" fill="#1a1a1a"/>
<rect x="637.55" y="130" width="1.12" height="18.7" fill="#303030"/>
<rect x="638.66" y="130" width="1" height="18.7" fill="#202020"/>
<rect x="639.67" y="130" width="1.56" height="18.7" fill="#808080"/>
<rect x="641.23" y="130" width="1.58" height="18.7" fill="#404040"/>
<rect x="642.81" y="130" width="0.86" height="18.7" fill="#606060"/>
<rect x="643.66" y="130" width="1.01" height="18.7" fill="#a0a0a0"/>
<rect x="644.67" y="130" width="1.75" height="18.7" fill="#1a1a1a"/>
<rect x="646.42" y="130" width="1.63" height="18.7" fill="#606060"/>
<rect x="648.05" y="130" width="1.75" height="18.7" fill="#505050"/>
<rect x="649.8" y="130" width="0.65" height="18.7" fill="#303030"/>
<rect x="650.46" y="130" width="1.52" height="18.7" fill="#606060"/>
<rect x="651.98" y="130" width="1.4" height="18.7" fill="#101010"/>
<rect x="653.38" y="130" width="1.64" height="18.7" fill="#202020"/>
<rect x="655.02" y="130" width="1.28" height="18.7" fill="#a0a0a0"/>
<rect x="656.3" y="130" width="1.71" height="18.7" fill="#505050"/>
<rect x="658.02" y="130" width="1.56" height="18.7" fill="#505050"/>
<rect x="659.57" y="130" width="1.71" height="18.7" fill="#101010"/>
<rect x="661.28" y="130" width="1.33" height="18.7" fill="#606060"/>
<rect x="662.61" y="130" width="0.74" height="18.7" fill="#a0a0a0"/>
<rect x="663.35" y="130" width="1.65" height="18.7" fill="#404040"/>
<rect x="665.01" y="130" width="0.66" height="18.7" fill="#505050"/>
<rect x="665.67" y="130" width="0.79" height="18.7" fill="#808080"/>
<rect x="666.46" y="130" width="1.58" height="18.7" fill="#404040"/>
<rect x="668.05" y="130" width="0.95" height="18.7" fill="#202020"/>
<rect x="548.2" y="130" width="0.8" height="18.7" fill="#f4f4f4"/>
<rect x="552.3" y="130" width="1" height="18.7" fill="#f4f4f4"/>
<rect x="559.5" y="130" width="1.5" height="18.7" fill="#f4f4f4"/>
<rect x="563" y="130" width="2" height="18.7" fill="#f4f4f4"/>
<rect x="572.7" y="130" width="1.1" height="18.7" fill="#f4f4f4"/>
<rect x="576.8" y="130" width="4.1" height="18.7" fill="#f4f4f4"/>
<rect x="591.1" y="130" width="1.1" height="18.7" fill="#f4f4f4"/>
<rect x="599.3" y="130" width="1" height="18.7" fill="#f4f4f4"/>
<rect x="609.4" y="130" width="1.1" height="18.7" fill="#f4f4f4"/>
<rect x="614.3" y="130" width="1.7" height="18.7" fill="#f4f4f4"/>
<rect x="623" y="130" width="1.2" height="18.7" fill="#f4f4f4"/>
<rect x="626.9" y="130" width="1.6" height="18.7" fill="#f4f4f4"/>
<rect x="630.7" y="130" width="1.1" height="18.7" fill="#f4f4f4"/>
<rect x="637.8" y="130" width="1.1" height="18.7" fill="#f4f4f4"/>
<rect x="642.8" y="130" width="1.6" height="18.7" fill="#f4f4f4"/>
<rect x="649.9" y="130" width="1.6" height="18.7" fill="#f4f4f4"/>
<polyline points="541.58,66.04 543.33,67.01 544.06,65.37 544.79,63.42 545.52,61.22 547.16,61.08 548.8,60.8 550.63,60.52 552.45,60.5 554.28,59.85 556.47,60.54 558.65,61.55 560.11,62.06 561.57,62.72 563.03,63.93 565.22,64.49 567.41,64.42 568.87,66.36 570.33,66.68 571.79,68.43 573.25,69.47 574.71,70.83 576.17,72.53 577.49,73.63 578.8,75.52 580.11,76.84 581.43,77.35 582.74,79.3 584.2,79.37 585.66,80.51 587.12,81.67 588.43,82.18 589.75,84.4 591.06,85.05 592.37,86.47 593.69,88.01 595,89.19 596.32,90.08 597.63,91.79 598.94,92.72 600.26,94.71 601.57,96.16 602.89,96.63 604.2,98.11 605.51,99.42 606.83,100.82 608.14,102.6 609.45,104.13 610.77,105.19 612.08,105.81 613.4,108.01 614.71,108.52 616.02,109.65 617.34,111.41 618.65,111.62 619.96,112.74 621.61,114.31 623.25,114.88 624.89,116.02 626.53,117.82 628.18,117.81 629.82,119.68 631.46,119.76 633.1,121.29 634.74,120.97 636.39,122.56 638.03,122.97 639.67,123.82 641.31,123.74 642.96,124.66 644.6,124.61 646.24,125.03 648.43,124.59 650.62,123.69 651.71,122.98 652.81,120.76 653.9,120.22 654.72,118.39 655.55,116.85 656.37,114.5 657.19,113.4 657.74,111.87 658.28,110.31 658.83,107.72 659.38,106.81 660.47,105.52 661.57,104.16 662.66,102.07 663.21,100.42 663.76,98.53 664.3,97.18 664.85,95.33 664.99,93.43 665.13,91.85 665.26,90.89 665.4,88.74 665.54,87.52 665.67,86.28 665.81,84.27 665.95,82.82 666.22,80.85 666.49,79.69 666.77,77.34 667.04,75.43 667.59,73.82 668.14,71.52 668.5,69.47 668.87,67.43 669.23,65.39" fill="none" stroke="#2af02a" stroke-width="1.45" stroke-linejoin="round"/>
<text x="546.6" y="104" font-size="8.9" fill="#1a1a1a">NES: -1.92</text>
<text x="546.6" y="114.8" font-size="8.9" fill="#1a1a1a">Nominal p: 0.0</text>
<text x="546.6" y="125.6" font-size="8.9" fill="#1a1a1a">FDR q: 0.0</text>
<rect x="55.1" y="153.5" width="4.44" height="8.5" fill="rgb(238,61,73)"/>
<rect x="59.24" y="153.5" width="4.44" height="8.5" fill="rgb(238,65,77)"/>
<rect x="63.37" y="153.5" width="4.44" height="8.5" fill="rgb(239,68,81)"/>
<rect x="67.51" y="153.5" width="4.44" height="8.5" fill="rgb(239,71,85)"/>
<rect x="71.65" y="153.5" width="4.44" height="8.5" fill="rgb(240,78,92)"/>
<rect x="75.78" y="153.5" width="4.44" height="8.5" fill="rgb(241,85,99)"/>
<rect x="79.92" y="153.5" width="4.44" height="8.5" fill="rgb(242,92,106)"/>
<rect x="84.06" y="153.5" width="4.44" height="8.5" fill="rgb(242,99,113)"/>
<rect x="88.19" y="153.5" width="4.44" height="8.5" fill="rgb(243,106,120)"/>
<rect x="92.33" y="153.5" width="4.44" height="8.5" fill="rgb(244,134,161)"/>
<rect x="96.47" y="153.5" width="4.44" height="8.5" fill="rgb(244,172,217)"/>
<rect x="100.6" y="153.5" width="4.44" height="8.5" fill="rgb(238,181,224)"/>
<rect x="104.74" y="153.5" width="4.44" height="8.5" fill="rgb(233,190,231)"/>
<rect x="108.88" y="153.5" width="4.44" height="8.5" fill="rgb(228,200,238)"/>
<rect x="113.01" y="153.5" width="4.44" height="8.5" fill="rgb(213,211,245)"/>
<rect x="117.15" y="153.5" width="4.44" height="8.5" fill="rgb(211,208,245)"/>
<rect x="121.29" y="153.5" width="4.44" height="8.5" fill="rgb(208,205,245)"/>
<rect x="125.42" y="153.5" width="4.44" height="8.5" fill="rgb(205,201,244)"/>
<rect x="129.56" y="153.5" width="4.44" height="8.5" fill="rgb(203,198,244)"/>
<rect x="133.7" y="153.5" width="4.44" height="8.5" fill="rgb(200,195,244)"/>
<rect x="137.83" y="153.5" width="4.44" height="8.5" fill="rgb(137,137,241)"/>
<rect x="141.97" y="153.5" width="4.44" height="8.5" fill="rgb(128,125,239)"/>
<rect x="146.11" y="153.5" width="4.44" height="8.5" fill="rgb(119,114,236)"/>
<rect x="150.24" y="153.5" width="4.44" height="8.5" fill="rgb(110,102,234)"/>
<rect x="154.38" y="153.5" width="4.44" height="8.5" fill="rgb(100,91,232)"/>
<rect x="158.52" y="153.5" width="4.44" height="8.5" fill="rgb(94,83,229)"/>
<rect x="162.65" y="153.5" width="4.44" height="8.5" fill="rgb(88,75,226)"/>
<rect x="166.79" y="153.5" width="4.44" height="8.5" fill="rgb(82,67,223)"/>
<rect x="170.93" y="153.5" width="4.44" height="8.5" fill="rgb(52,27,207)"/>
<rect x="175.06" y="153.5" width="4.44" height="8.5" fill="rgb(37,3,197)"/>
<rect x="203.4" y="153.3" width="4.58" height="8.5" fill="rgb(238,61,73)"/>
<rect x="207.68" y="153.3" width="4.58" height="8.5" fill="rgb(238,65,77)"/>
<rect x="211.97" y="153.3" width="4.58" height="8.5" fill="rgb(239,68,81)"/>
<rect x="216.25" y="153.3" width="4.58" height="8.5" fill="rgb(239,71,85)"/>
<rect x="220.53" y="153.3" width="4.58" height="8.5" fill="rgb(240,78,92)"/>
<rect x="224.82" y="153.3" width="4.58" height="8.5" fill="rgb(241,85,99)"/>
<rect x="229.1" y="153.3" width="4.58" height="8.5" fill="rgb(242,92,106)"/>
<rect x="233.38" y="153.3" width="4.58" height="8.5" fill="rgb(242,99,113)"/>
<rect x="237.67" y="153.3" width="4.58" height="8.5" fill="rgb(243,106,120)"/>
<rect x="241.95" y="153.3" width="4.58" height="8.5" fill="rgb(244,134,161)"/>
<rect x="246.23" y="153.3" width="4.58" height="8.5" fill="rgb(244,172,217)"/>
<rect x="250.52" y="153.3" width="4.58" height="8.5" fill="rgb(238,181,224)"/>
<rect x="254.8" y="153.3" width="4.58" height="8.5" fill="rgb(233,190,231)"/>
<rect x="259.08" y="153.3" width="4.58" height="8.5" fill="rgb(228,200,238)"/>
<rect x="263.37" y="153.3" width="4.58" height="8.5" fill="rgb(213,211,245)"/>
<rect x="267.65" y="153.3" width="4.58" height="8.5" fill="rgb(211,208,245)"/>
<rect x="271.93" y="153.3" width="4.58" height="8.5" fill="rgb(208,205,245)"/>
<rect x="276.22" y="153.3" width="4.58" height="8.5" fill="rgb(205,201,244)"/>
<rect x="280.5" y="153.3" width="4.58" height="8.5" fill="rgb(203,198,244)"/>
<rect x="284.78" y="153.3" width="4.58" height="8.5" fill="rgb(200,195,244)"/>
<rect x="289.07" y="153.3" width="4.58" height="8.5" fill="rgb(137,137,241)"/>
<rect x="293.35" y="153.3" width="4.58" height="8.5" fill="rgb(128,125,239)"/>
<rect x="297.63" y="153.3" width="4.58" height="8.5" fill="rgb(119,114,236)"/>
<rect x="301.92" y="153.3" width="4.58" height="8.5" fill="rgb(110,102,234)"/>
<rect x="306.2" y="153.3" width="4.58" height="8.5" fill="rgb(100,91,232)"/>
<rect x="310.48" y="153.3" width="4.58" height="8.5" fill="rgb(94,83,229)"/>
<rect x="314.77" y="153.3" width="4.58" height="8.5" fill="rgb(88,75,226)"/>
<rect x="319.05" y="153.3" width="4.58" height="8.5" fill="rgb(82,67,223)"/>
<rect x="323.33" y="153.3" width="4.58" height="8.5" fill="rgb(52,27,207)"/>
<rect x="327.62" y="153.3" width="4.58" height="8.5" fill="rgb(37,3,197)"/>
<rect x="391.9" y="153.1" width="4.48" height="8.5" fill="rgb(238,61,73)"/>
<rect x="396.08" y="153.1" width="4.48" height="8.5" fill="rgb(238,65,77)"/>
<rect x="400.25" y="153.1" width="4.48" height="8.5" fill="rgb(239,68,81)"/>
<rect x="404.43" y="153.1" width="4.48" height="8.5" fill="rgb(239,71,85)"/>
<rect x="408.61" y="153.1" width="4.48" height="8.5" fill="rgb(240,78,92)"/>
<rect x="412.78" y="153.1" width="4.48" height="8.5" fill="rgb(241,85,99)"/>
<rect x="416.96" y="153.1" width="4.48" height="8.5" fill="rgb(242,92,106)"/>
<rect x="421.14" y="153.1" width="4.48" height="8.5" fill="rgb(242,99,113)"/>
<rect x="425.31" y="153.1" width="4.48" height="8.5" fill="rgb(243,106,120)"/>
<rect x="429.49" y="153.1" width="4.48" height="8.5" fill="rgb(244,134,161)"/>
<rect x="433.67" y="153.1" width="4.48" height="8.5" fill="rgb(244,172,217)"/>
<rect x="437.84" y="153.1" width="4.48" height="8.5" fill="rgb(238,181,224)"/>
<rect x="442.02" y="153.1" width="4.48" height="8.5" fill="rgb(233,190,231)"/>
<rect x="446.2" y="153.1" width="4.48" height="8.5" fill="rgb(228,200,238)"/>
<rect x="450.37" y="153.1" width="4.48" height="8.5" fill="rgb(213,211,245)"/>
<rect x="454.55" y="153.1" width="4.48" height="8.5" fill="rgb(211,208,245)"/>
<rect x="458.73" y="153.1" width="4.48" height="8.5" fill="rgb(208,205,245)"/>
<rect x="462.9" y="153.1" width="4.48" height="8.5" fill="rgb(205,201,244)"/>
<rect x="467.08" y="153.1" width="4.48" height="8.5" fill="rgb(203,198,244)"/>
<rect x="471.26" y="153.1" width="4.48" height="8.5" fill="rgb(200,195,244)"/>
<rect x="475.43" y="153.1" width="4.48" height="8.5" fill="rgb(137,137,241)"/>
<rect x="479.61" y="153.1" width="4.48" height="8.5" fill="rgb(128,125,239)"/>
<rect x="483.79" y="153.1" width="4.48" height="8.5" fill="rgb(119,114,236)"/>
<rect x="487.96" y="153.1" width="4.48" height="8.5" fill="rgb(110,102,234)"/>
<rect x="492.14" y="153.1" width="4.48" height="8.5" fill="rgb(100,91,232)"/>
<rect x="496.32" y="153.1" width="4.48" height="8.5" fill="rgb(94,83,229)"/>
<rect x="500.49" y="153.1" width="4.48" height="8.5" fill="rgb(88,75,226)"/>
<rect x="504.67" y="153.1" width="4.48" height="8.5" fill="rgb(82,67,223)"/>
<rect x="508.85" y="153.1" width="4.48" height="8.5" fill="rgb(52,27,207)"/>
<rect x="513.02" y="153.1" width="4.48" height="8.5" fill="rgb(37,3,197)"/>
<rect x="543" y="153.1" width="4.56" height="8.7" fill="rgb(238,61,73)"/>
<rect x="547.26" y="153.1" width="4.56" height="8.7" fill="rgb(238,65,77)"/>
<rect x="551.53" y="153.1" width="4.56" height="8.7" fill="rgb(239,68,81)"/>
<rect x="555.79" y="153.1" width="4.56" height="8.7" fill="rgb(239,71,85)"/>
<rect x="560.05" y="153.1" width="4.56" height="8.7" fill="rgb(240,78,92)"/>
<rect x="564.32" y="153.1" width="4.56" height="8.7" fill="rgb(241,85,99)"/>
<rect x="568.58" y="153.1" width="4.56" height="8.7" fill="rgb(242,92,106)"/>
<rect x="572.84" y="153.1" width="4.56" height="8.7" fill="rgb(242,99,113)"/>
<rect x="577.11" y="153.1" width="4.56" height="8.7" fill="rgb(243,106,120)"/>
<rect x="581.37" y="153.1" width="4.56" height="8.7" fill="rgb(244,134,161)"/>
<rect x="585.63" y="153.1" width="4.56" height="8.7" fill="rgb(244,172,217)"/>
<rect x="589.9" y="153.1" width="4.56" height="8.7" fill="rgb(238,181,224)"/>
<rect x="594.16" y="153.1" width="4.56" height="8.7" fill="rgb(233,190,231)"/>
<rect x="598.42" y="153.1" width="4.56" height="8.7" fill="rgb(228,200,238)"/>
<rect x="602.69" y="153.1" width="4.56" height="8.7" fill="rgb(213,211,245)"/>
<rect x="606.95" y="153.1" width="4.56" height="8.7" fill="rgb(211,208,245)"/>
<rect x="611.21" y="153.1" width="4.56" height="8.7" fill="rgb(208,205,245)"/>
<rect x="615.48" y="153.1" width="4.56" height="8.7" fill="rgb(205,201,244)"/>
<rect x="619.74" y="153.1" width="4.56" height="8.7" fill="rgb(203,198,244)"/>
<rect x="624" y="153.1" width="4.56" height="8.7" fill="rgb(200,195,244)"/>
<rect x="628.27" y="153.1" width="4.56" height="8.7" fill="rgb(137,137,241)"/>
<rect x="632.53" y="153.1" width="4.56" height="8.7" fill="rgb(128,125,239)"/>
<rect x="636.79" y="153.1" width="4.56" height="8.7" fill="rgb(119,114,236)"/>
<rect x="641.06" y="153.1" width="4.56" height="8.7" fill="rgb(110,102,234)"/>
<rect x="645.32" y="153.1" width="4.56" height="8.7" fill="rgb(100,91,232)"/>
<rect x="649.58" y="153.1" width="4.56" height="8.7" fill="rgb(94,83,229)"/>
<rect x="653.85" y="153.1" width="4.56" height="8.7" fill="rgb(88,75,226)"/>
<rect x="658.11" y="153.1" width="4.56" height="8.7" fill="rgb(82,67,223)"/>
<rect x="662.37" y="153.1" width="4.56" height="8.7" fill="rgb(52,27,207)"/>
<rect x="666.64" y="153.1" width="4.56" height="8.7" fill="rgb(37,3,197)"/>
<text x="57.6" y="176" font-size="12.4" fill="#000">DAC</text>
<text x="178.2" y="175.8" font-size="12.4" text-anchor="end" fill="#000">Con</text>
<text x="204" y="175.2" font-size="12.4" fill="#000">NTX</text>
<text x="330.2" y="175.5" font-size="12.4" text-anchor="end" fill="#000">Con</text>
<text x="391.9" y="175" font-size="12.4" fill="#000">DAC</text>
<text x="518.4" y="175.3" font-size="12.4" text-anchor="end" fill="#000">Con</text>
<text x="543" y="175" font-size="12.4" fill="#000">NTX</text>
<text x="670.2" y="174.8" font-size="12.4" text-anchor="end" fill="#000">Con</text>
<text x="-1.2" y="201.7" font-size="17.5" font-weight="bold" fill="#000">B</text>
<line x1="69.2" y1="207.3" x2="69.2" y2="372.5" stroke="#000" stroke-width="2.1"/>
<line x1="68.2" y1="371.5" x2="314.2" y2="371.5" stroke="#000" stroke-width="2.1"/>
<line x1="62.2" y1="371.5" x2="69.2" y2="371.5" stroke="#000" stroke-width="2"/>
<text x="60.6" y="375.8" font-size="12" font-weight="bold" text-anchor="end" fill="#111">0</text>
<line x1="62.2" y1="348.2" x2="69.2" y2="348.2" stroke="#000" stroke-width="2"/>
<text x="60.6" y="352.5" font-size="12" font-weight="bold" text-anchor="end" fill="#111">5</text>
<line x1="62.2" y1="324.9" x2="69.2" y2="324.9" stroke="#000" stroke-width="2"/>
<text x="60.6" y="329.2" font-size="12" font-weight="bold" text-anchor="end" fill="#111">10</text>
<line x1="62.2" y1="301.6" x2="69.2" y2="301.6" stroke="#000" stroke-width="2"/>
<text x="60.6" y="305.9" font-size="12" font-weight="bold" text-anchor="end" fill="#111">15</text>
<line x1="62.2" y1="278.3" x2="69.2" y2="278.3" stroke="#000" stroke-width="2"/>
<text x="60.6" y="282.6" font-size="12" font-weight="bold" text-anchor="end" fill="#111">20</text>
<line x1="62.2" y1="255" x2="69.2" y2="255" stroke="#000" stroke-width="2"/>
<text x="60.6" y="259.3" font-size="12" font-weight="bold" text-anchor="end" fill="#111">25</text>
<line x1="62.2" y1="231.7" x2="69.2" y2="231.7" stroke="#000" stroke-width="2"/>
<text x="60.6" y="236" font-size="12" font-weight="bold" text-anchor="end" fill="#111">30</text>
<line x1="62.2" y1="208.4" x2="69.2" y2="208.4" stroke="#000" stroke-width="2"/>
<text x="60.6" y="212.7" font-size="12" font-weight="bold" text-anchor="end" fill="#111">35</text>
<line x1="99.3" y1="371.5" x2="99.3" y2="378.5" stroke="#000" stroke-width="2"/>
<text x="99.3" y="392.5" font-size="12" font-weight="bold" text-anchor="middle" fill="#111">-8</text>
<line x1="160.4" y1="371.5" x2="160.4" y2="378.5" stroke="#000" stroke-width="2"/>
<text x="160.4" y="392.5" font-size="12" font-weight="bold" text-anchor="middle" fill="#111">-7</text>
<line x1="221.5" y1="371.5" x2="221.5" y2="378.5" stroke="#000" stroke-width="2"/>
<text x="221.5" y="392.5" font-size="12" font-weight="bold" text-anchor="middle" fill="#111">-6</text>
<line x1="282.6" y1="371.5" x2="282.6" y2="378.5" stroke="#000" stroke-width="2"/>
<text x="282.6" y="392.5" font-size="12" font-weight="bold" text-anchor="middle" fill="#111">-5</text>
<text x="191.6" y="411.3" font-size="13.4" font-weight="bold" text-anchor="middle" fill="#111" textLength="113.6" lengthAdjust="spacingAndGlyphs">Log[venetoclax]M</text>
<text x="38.8" y="289" font-size="13.4" font-weight="bold" text-anchor="middle" fill="#111" transform="rotate(-90 38.8 289)" textLength="139" lengthAdjust="spacingAndGlyphs">Survival (%of control)</text>
<polyline points="107.65,224.24 108.85,228.9 110.05,233.45 111.25,237.9 112.45,242.25 113.65,246.5 114.85,250.65 116.05,254.69 117.25,258.63 118.45,262.47 119.65,266.21 120.85,269.85 122.05,273.39 123.25,276.83 124.45,280.17 125.65,283.41 126.85,286.56 128.05,289.62 129.25,292.58 130.45,295.45 131.65,298.23 132.85,300.92 134.05,303.52 135.25,306.05 136.45,308.48 137.65,310.84 138.85,313.12 140.05,315.32 141.25,317.45 142.45,319.5 143.65,321.48 144.85,323.39 146.05,325.24 147.25,327.01 148.45,328.73 149.65,330.38 150.85,331.97 152.05,333.51 153.25,334.99 154.45,336.41 155.65,337.78 156.85,339.1 158.05,340.37 159.25,341.59 160.45,342.76 161.65,343.89 162.85,344.98 164.05,346.02 165.25,347.03 166.45,347.99 167.65,348.92 168.85,349.81 170.05,350.66 171.25,351.49 172.45,352.28 173.65,353.04 174.85,353.76 176.05,354.46 177.25,355.14 178.45,355.78 179.65,356.4 180.85,356.99 182.05,357.56 183.25,358.11 184.45,358.64 185.65,359.14 186.85,359.62 188.05,360.09 189.25,360.53 190.45,360.96 191.65,361.37 192.85,361.76 194.05,362.14 195.25,362.5 196.45,362.84 197.65,363.18 198.85,363.49 200.05,363.8 201.25,364.09 202.45,364.37 203.65,364.64 204.85,364.9 206.05,365.15 207.25,365.38 208.45,365.61 209.65,365.83 210.85,366.04 212.05,366.24 213.25,366.43 214.45,366.61 215.65,366.79 216.85,366.96 218.05,367.12 219.25,367.27 220.45,367.42 221.65,367.56 222.85,367.7 224.05,367.83 225.25,367.95 226.45,368.07 227.65,368.19 228.85,368.3 230.05,368.4 231.25,368.5 232.45,368.6 233.65,368.69 234.85,368.78 236.05,368.87 237.25,368.95 238.45,369.03 239.65,369.1 240.85,369.17 242.05,369.24 243.25,369.31 244.45,369.37 245.65,369.43 246.85,369.49 248.05,369.54 249.25,369.6 250.45,369.65 251.65,369.7 252.85,369.74 254.05,369.79 255.25,369.83 256.45,369.87 257.65,369.91 258.85,369.95 260.05,369.98 261.25,370.02 262.45,370.05 263.65,370.08 264.85,370.11 266.05,370.14 267.25,370.17 268.45,370.2 269.65,370.22 270.85,370.25 272.05,370.27 273.25,370.29 274.45,370.31 275.65,370.34 276.85,370.35 278.05,370.37 279.25,370.39 280.45,370.41 281.65,370.43 282.85,370.44 284.05,370.46 285.25,370.47 286.45,370.49 287.65,370.5 288.85,370.51 290.05,370.52 291.25,370.54 292.45,370.55 293.65,370.56 294.85,370.57 296.05,370.58 297.25,370.59 298.45,370.6 299.65,370.6 300.85,370.61 302.05,370.62 303.25,370.63 304.45,370.64 305.65,370.64 306.85,370.65 308.05,370.66 309.25,370.66 310.45,370.67 311.65,370.67" fill="none" stroke="#1a1aff" stroke-width="1.1" stroke-linejoin="round"/>
<polyline points="107.65,305.79 108.85,308.51 110.05,311.12 111.25,313.62 112.45,316.01 113.65,318.3 114.85,320.5 116.05,322.6 117.25,324.62 118.45,326.55 119.65,328.4 120.85,330.18 122.05,331.88 123.25,333.51 124.45,335.07 125.65,336.56 126.85,338 128.05,339.37 129.25,340.68 130.45,341.94 131.65,343.15 132.85,344.31 134.05,345.42 135.25,346.48 136.45,347.5 137.65,348.47 138.85,349.41 140.05,350.3 141.25,351.16 142.45,351.98 143.65,352.77 144.85,353.52 146.05,354.25 147.25,354.94 148.45,355.6 149.65,356.24 150.85,356.85 152.05,357.43 153.25,357.99 154.45,358.53 155.65,359.04 156.85,359.53 158.05,360 159.25,360.46 160.45,360.89 161.65,361.3 162.85,361.7 164.05,362.08 165.25,362.45 166.45,362.8 167.65,363.13 168.85,363.45 170.05,363.76 171.25,364.05 172.45,364.34 173.65,364.61 174.85,364.87 176.05,365.11 177.25,365.35 178.45,365.58 179.65,365.8 180.85,366.01 182.05,366.21 183.25,366.4 184.45,366.58 185.65,366.76 186.85,366.93 188.05,367.09 189.25,367.25 190.45,367.4 191.65,367.54 192.85,367.68 194.05,367.81 195.25,367.93 196.45,368.05 197.65,368.17 198.85,368.28 200.05,368.38 201.25,368.48 202.45,368.58 203.65,368.67 204.85,368.76 206.05,368.85 207.25,368.93 208.45,369.01 209.65,369.08 210.85,369.15 212.05,369.22 213.25,369.29 214.45,369.35 215.65,369.41 216.85,369.47 218.05,369.53 219.25,369.58 220.45,369.63 221.65,369.68 222.85,369.73 224.05,369.77 225.25,369.82 226.45,369.86 227.65,369.9 228.85,369.93 230.05,369.97 231.25,370 232.45,370.04 233.65,370.07 234.85,370.1 236.05,370.13 237.25,370.16 238.45,370.19 239.65,370.21 240.85,370.24 242.05,370.26 243.25,370.28 244.45,370.3 245.65,370.32 246.85,370.34 248.05,370.36 249.25,370.38 250.45,370.4 251.65,370.42 252.85,370.43 254.05,370.45 255.25,370.46 256.45,370.48 257.65,370.49 258.85,370.5 260.05,370.52 261.25,370.53 262.45,370.54 263.65,370.55 264.85,370.56 266.05,370.57 267.25,370.58 268.45,370.59 269.65,370.6 270.85,370.61 272.05,370.61 273.25,370.62 274.45,370.63 275.65,370.64 276.85,370.64 278.05,370.65 279.25,370.66 280.45,370.66 281.65,370.67 282.85,370.67 284.05,370.68 285.25,370.68 286.45,370.69 287.65,370.69 288.85,370.7 290.05,370.7 291.25,370.71 292.45,370.71 293.65,370.71 294.85,370.72 296.05,370.72 297.25,370.73 298.45,370.73 299.65,370.73 300.85,370.73 302.05,370.74 303.25,370.74 304.45,370.74 305.65,370.74 306.85,370.75 308.05,370.75 309.25,370.75 310.45,370.75 311.65,370.76" fill="none" stroke="#1a1aff" stroke-width="1.1" stroke-linejoin="round"/>
<polyline points="107.65,311.85 108.85,313.96 110.05,316.01 111.25,318 112.45,319.92 113.65,321.79 114.85,323.6 116.05,325.35 117.25,327.05 118.45,328.68 119.65,330.27 120.85,331.8 122.05,333.29 123.25,334.72 124.45,336.1 125.65,337.44 126.85,338.72 128.05,339.97 129.25,341.17 130.45,342.32 131.65,343.44 132.85,344.51 134.05,345.55 135.25,346.55 136.45,347.51 137.65,348.43 138.85,349.33 140.05,350.18 141.25,351.01 142.45,351.8 143.65,352.57 144.85,353.3 146.05,354.01 147.25,354.69 148.45,355.34 149.65,355.97 150.85,356.57 152.05,357.15 153.25,357.71 154.45,358.24 155.65,358.75 156.85,359.25 158.05,359.72 159.25,360.18 160.45,360.61 161.65,361.03 162.85,361.44 164.05,361.82 165.25,362.19 166.45,362.55 167.65,362.89 168.85,363.22 170.05,363.53 171.25,363.83 172.45,364.12 173.65,364.4 174.85,364.67 176.05,364.92 177.25,365.17 178.45,365.4 179.65,365.63 180.85,365.84 182.05,366.05 183.25,366.25 184.45,366.44 185.65,366.62 186.85,366.8 188.05,366.96 189.25,367.12 190.45,367.28 191.65,367.43 192.85,367.57 194.05,367.7 195.25,367.83 196.45,367.96 197.65,368.08 198.85,368.19 200.05,368.3 201.25,368.41 202.45,368.51 203.65,368.6 204.85,368.69 206.05,368.78 207.25,368.87 208.45,368.95 209.65,369.03 210.85,369.1 212.05,369.17 213.25,369.24 214.45,369.31 215.65,369.37 216.85,369.43 218.05,369.49 219.25,369.54 220.45,369.6 221.65,369.65 222.85,369.7 224.05,369.74 225.25,369.79 226.45,369.83 227.65,369.87 228.85,369.91 230.05,369.95 231.25,369.98 232.45,370.02 233.65,370.05 234.85,370.08 236.05,370.11 237.25,370.14 238.45,370.17 239.65,370.2 240.85,370.22 242.05,370.25 243.25,370.27 244.45,370.29 245.65,370.31 246.85,370.33 248.05,370.35 249.25,370.37 250.45,370.39 251.65,370.41 252.85,370.43 254.05,370.44 255.25,370.46 256.45,370.47 257.65,370.48 258.85,370.5 260.05,370.51 261.25,370.52 262.45,370.53 263.65,370.55 264.85,370.56 266.05,370.57 267.25,370.58 268.45,370.59 269.65,370.6 270.85,370.6 272.05,370.61 273.25,370.62 274.45,370.63 275.65,370.64 276.85,370.64 278.05,370.65 279.25,370.66 280.45,370.66 281.65,370.67 282.85,370.67 284.05,370.68 285.25,370.68 286.45,370.69 287.65,370.69 288.85,370.7 290.05,370.7 291.25,370.71 292.45,370.71 293.65,370.71 294.85,370.72 296.05,370.72 297.25,370.72 298.45,370.73 299.65,370.73 300.85,370.73 302.05,370.74 303.25,370.74 304.45,370.74 305.65,370.74 306.85,370.75 308.05,370.75 309.25,370.75 310.45,370.75 311.65,370.76" fill="none" stroke="#1a1aff" stroke-width="1.1" stroke-linejoin="round"/>
<polyline points="107.65,330.96 108.85,332.32 110.05,333.64 111.25,334.93 112.45,336.18 113.65,337.4 114.85,338.58 116.05,339.73 117.25,340.84 118.45,341.93 119.65,342.98 120.85,343.99 122.05,344.98 123.25,345.93 124.45,346.86 125.65,347.75 126.85,348.62 128.05,349.46 129.25,350.26 130.45,351.05 131.65,351.8 132.85,352.53 134.05,353.24 135.25,353.91 136.45,354.57 137.65,355.2 138.85,355.81 140.05,356.4 141.25,356.97 142.45,357.51 143.65,358.04 144.85,358.54 146.05,359.03 147.25,359.5 148.45,359.95 149.65,360.39 150.85,360.81 152.05,361.21 153.25,361.59 154.45,361.97 155.65,362.32 156.85,362.67 158.05,363 159.25,363.32 160.45,363.62 161.65,363.91 162.85,364.2 164.05,364.47 165.25,364.73 166.45,364.97 167.65,365.21 168.85,365.44 170.05,365.66 171.25,365.88 172.45,366.08 173.65,366.27 174.85,366.46 176.05,366.64 177.25,366.81 178.45,366.98 179.65,367.14 180.85,367.29 182.05,367.44 183.25,367.58 184.45,367.71 185.65,367.84 186.85,367.96 188.05,368.08 189.25,368.19 190.45,368.3 191.65,368.41 192.85,368.51 194.05,368.6 195.25,368.7 196.45,368.78 197.65,368.87 198.85,368.95 200.05,369.03 201.25,369.1 202.45,369.17 203.65,369.24 204.85,369.31 206.05,369.37 207.25,369.43 208.45,369.49 209.65,369.54 210.85,369.59 212.05,369.65 213.25,369.69 214.45,369.74 215.65,369.79 216.85,369.83 218.05,369.87 219.25,369.91 220.45,369.95 221.65,369.98 222.85,370.02 224.05,370.05 225.25,370.08 226.45,370.11 227.65,370.14 228.85,370.17 230.05,370.19 231.25,370.22 232.45,370.24 233.65,370.27 234.85,370.29 236.05,370.31 237.25,370.33 238.45,370.35 239.65,370.37 240.85,370.39 242.05,370.41 243.25,370.42 244.45,370.44 245.65,370.45 246.85,370.47 248.05,370.48 249.25,370.5 250.45,370.51 251.65,370.52 252.85,370.53 254.05,370.55 255.25,370.56 256.45,370.57 257.65,370.58 258.85,370.59 260.05,370.59 261.25,370.6 262.45,370.61 263.65,370.62 264.85,370.63 266.05,370.63 267.25,370.64 268.45,370.65 269.65,370.65 270.85,370.66 272.05,370.67 273.25,370.67 274.45,370.68 275.65,370.68 276.85,370.69 278.05,370.69 279.25,370.7 280.45,370.7 281.65,370.71 282.85,370.71 284.05,370.71 285.25,370.72 286.45,370.72 287.65,370.72 288.85,370.73 290.05,370.73 291.25,370.73 292.45,370.74 293.65,370.74 294.85,370.74 296.05,370.74 297.25,370.75 298.45,370.75 299.65,370.75 300.85,370.75 302.05,370.76 303.25,370.76 304.45,370.76 305.65,370.76 306.85,370.76 308.05,370.76 309.25,370.77 310.45,370.77 311.65,370.77" fill="none" stroke="#1a1aff" stroke-width="1.1" stroke-linejoin="round"/>
<polyline points="107.65,348.2 108.85,348.97 110.05,349.73 111.25,350.46 112.45,351.18 113.65,351.87 114.85,352.54 116.05,353.2 117.25,353.83 118.45,354.45 119.65,355.05 120.85,355.62 122.05,356.18 123.25,356.73 124.45,357.25 125.65,357.76 126.85,358.25 128.05,358.73 129.25,359.19 130.45,359.63 131.65,360.06 132.85,360.47 134.05,360.87 135.25,361.26 136.45,361.63 137.65,361.99 138.85,362.33 140.05,362.66 141.25,362.98 142.45,363.29 143.65,363.59 144.85,363.88 146.05,364.15 147.25,364.42 148.45,364.67 149.65,364.92 150.85,365.16 152.05,365.38 153.25,365.6 154.45,365.81 155.65,366.02 156.85,366.21 158.05,366.4 159.25,366.58 160.45,366.75 161.65,366.91 162.85,367.07 164.05,367.23 165.25,367.37 166.45,367.51 167.65,367.65 168.85,367.78 170.05,367.9 171.25,368.02 172.45,368.14 173.65,368.25 174.85,368.35 176.05,368.45 177.25,368.55 178.45,368.64 179.65,368.73 180.85,368.82 182.05,368.9 183.25,368.98 184.45,369.06 185.65,369.13 186.85,369.2 188.05,369.27 189.25,369.33 190.45,369.39 191.65,369.45 192.85,369.51 194.05,369.56 195.25,369.61 196.45,369.66 197.65,369.71 198.85,369.76 200.05,369.8 201.25,369.84 202.45,369.88 203.65,369.92 204.85,369.96 206.05,369.99 207.25,370.03 208.45,370.06 209.65,370.09 210.85,370.12 212.05,370.15 213.25,370.18 214.45,370.2 215.65,370.23 216.85,370.25 218.05,370.28 219.25,370.3 220.45,370.32 221.65,370.34 222.85,370.36 224.05,370.38 225.25,370.39 226.45,370.41 227.65,370.43 228.85,370.44 230.05,370.46 231.25,370.47 232.45,370.49 233.65,370.5 234.85,370.51 236.05,370.53 237.25,370.54 238.45,370.55 239.65,370.56 240.85,370.57 242.05,370.58 243.25,370.59 244.45,370.6 245.65,370.61 246.85,370.61 248.05,370.62 249.25,370.63 250.45,370.64 251.65,370.64 252.85,370.65 254.05,370.66 255.25,370.66 256.45,370.67 257.65,370.67 258.85,370.68 260.05,370.68 261.25,370.69 262.45,370.69 263.65,370.7 264.85,370.7 266.05,370.71 267.25,370.71 268.45,370.72 269.65,370.72 270.85,370.72 272.05,370.73 273.25,370.73 274.45,370.73 275.65,370.73 276.85,370.74 278.05,370.74 279.25,370.74 280.45,370.75 281.65,370.75 282.85,370.75 284.05,370.75 285.25,370.75 286.45,370.76 287.65,370.76 288.85,370.76 290.05,370.76 291.25,370.76 292.45,370.76 293.65,370.77 294.85,370.77 296.05,370.77 297.25,370.77 298.45,370.77 299.65,370.77 300.85,370.77 302.05,370.78 303.25,370.78 304.45,370.78 305.65,370.78 306.85,370.78 308.05,370.78 309.25,370.78 310.45,370.78 311.65,370.78" fill="none" stroke="#1a1aff" stroke-width="1.1" stroke-linejoin="round"/>
<polyline points="107.65,358.22 108.85,358.75 110.05,359.26 111.25,359.74 112.45,360.21 113.65,360.66 114.85,361.09 116.05,361.5 117.25,361.89 118.45,362.26 119.65,362.62 120.85,362.97 122.05,363.3 123.25,363.62 124.45,363.92 125.65,364.21 126.85,364.49 128.05,364.75 129.25,365.01 130.45,365.25 131.65,365.49 132.85,365.71 134.05,365.93 135.25,366.13 136.45,366.33 137.65,366.52 138.85,366.7 140.05,366.87 141.25,367.04 142.45,367.2 143.65,367.35 144.85,367.49 146.05,367.63 147.25,367.77 148.45,367.89 149.65,368.02 150.85,368.13 152.05,368.25 153.25,368.35 154.45,368.46 155.65,368.56 156.85,368.65 158.05,368.74 159.25,368.83 160.45,368.91 161.65,368.99 162.85,369.07 164.05,369.14 165.25,369.21 166.45,369.28 167.65,369.34 168.85,369.4 170.05,369.46 171.25,369.52 172.45,369.57 173.65,369.62 174.85,369.67 176.05,369.72 177.25,369.77 178.45,369.81 179.65,369.85 180.85,369.89 182.05,369.93 183.25,369.97 184.45,370 185.65,370.04 186.85,370.07 188.05,370.1 189.25,370.13 190.45,370.16 191.65,370.18 192.85,370.21 194.05,370.24 195.25,370.26 196.45,370.28 197.65,370.3 198.85,370.33 200.05,370.35 201.25,370.36 202.45,370.38 203.65,370.4 204.85,370.42 206.05,370.43 207.25,370.45 208.45,370.46 209.65,370.48 210.85,370.49 212.05,370.5 213.25,370.52 214.45,370.53 215.65,370.54 216.85,370.55 218.05,370.56 219.25,370.57 220.45,370.58 221.65,370.59 222.85,370.6 224.05,370.61 225.25,370.62 226.45,370.62 227.65,370.63 228.85,370.64 230.05,370.65 231.25,370.65 232.45,370.66 233.65,370.66 234.85,370.67 236.05,370.68 237.25,370.68 238.45,370.69 239.65,370.69 240.85,370.7 242.05,370.7 243.25,370.7 244.45,370.71 245.65,370.71 246.85,370.72 248.05,370.72 249.25,370.72 250.45,370.73 251.65,370.73 252.85,370.73 254.05,370.74 255.25,370.74 256.45,370.74 257.65,370.74 258.85,370.75 260.05,370.75 261.25,370.75 262.45,370.75 263.65,370.75 264.85,370.76 266.05,370.76 267.25,370.76 268.45,370.76 269.65,370.76 270.85,370.77 272.05,370.77 273.25,370.77 274.45,370.77 275.65,370.77 276.85,370.77 278.05,370.77 279.25,370.77 280.45,370.78 281.65,370.78 282.85,370.78 284.05,370.78 285.25,370.78 286.45,370.78 287.65,370.78 288.85,370.78 290.05,370.78 291.25,370.78 292.45,370.78 293.65,370.79 294.85,370.79 296.05,370.79 297.25,370.79 298.45,370.79 299.65,370.79 300.85,370.79 302.05,370.79 303.25,370.79 304.45,370.79 305.65,370.79 306.85,370.79 308.05,370.79 309.25,370.79 310.45,370.79 311.65,370.79" fill="none" stroke="#1a1aff" stroke-width="1.1" stroke-linejoin="round"/>
<polyline points="107.65,348.2 108.85,349.97 110.05,351.61 111.25,353.12 112.45,354.51 113.65,355.8 114.85,356.98 116.05,358.08 117.25,359.09 118.45,360.02 119.65,360.88 120.85,361.67 122.05,362.39 123.25,363.06 124.45,363.68 125.65,364.25 126.85,364.77 128.05,365.26 129.25,365.7 130.45,366.11 131.65,366.48 132.85,366.83 134.05,367.15 135.25,367.44 136.45,367.71 137.65,367.96 138.85,368.19 140.05,368.4 141.25,368.59 142.45,368.77 143.65,368.93 144.85,369.08 146.05,369.22 147.25,369.35 148.45,369.46 149.65,369.57 150.85,369.67 152.05,369.76 153.25,369.84 154.45,369.92 155.65,369.99 156.85,370.06 158.05,370.12 159.25,370.17 160.45,370.22 161.65,370.27 162.85,370.31 164.05,370.35 165.25,370.39 166.45,370.42 167.65,370.45 168.85,370.48 170.05,370.51 171.25,370.53 172.45,370.55 173.65,370.57 174.85,370.59 176.05,370.61 177.25,370.62 178.45,370.64 179.65,370.65 180.85,370.66 182.05,370.67 183.25,370.68 184.45,370.69 185.65,370.7 186.85,370.71 188.05,370.72 189.25,370.72 190.45,370.73 191.65,370.74 192.85,370.74 194.05,370.75 195.25,370.75 196.45,370.75 197.65,370.76 198.85,370.76 200.05,370.76 201.25,370.77 202.45,370.77 203.65,370.77 204.85,370.78 206.05,370.78 207.25,370.78 208.45,370.78 209.65,370.78 210.85,370.78 212.05,370.79 213.25,370.79 214.45,370.79 215.65,370.79 216.85,370.79 218.05,370.79 219.25,370.79 220.45,370.79 221.65,370.79 222.85,370.79 224.05,370.79 225.25,370.79 226.45,370.8 227.65,370.8 228.85,370.8 230.05,370.8 231.25,370.8 232.45,370.8 233.65,370.8 234.85,370.8 236.05,370.8 237.25,370.8 238.45,370.8 239.65,370.8 240.85,370.8 242.05,370.8 243.25,370.8 244.45,370.8 245.65,370.8 246.85,370.8 248.05,370.8 249.25,370.8 250.45,370.8 251.65,370.8 252.85,370.8 254.05,370.8 255.25,370.8 256.45,370.8 257.65,370.8 258.85,370.8 260.05,370.8 261.25,370.8 262.45,370.8 263.65,370.8 264.85,370.8 266.05,370.8 267.25,370.8 268.45,370.8 269.65,370.8 270.85,370.8 272.05,370.8 273.25,370.8 274.45,370.8 275.65,370.8 276.85,370.8 278.05,370.8 279.25,370.8 280.45,370.8 281.65,370.8 282.85,370.8 284.05,370.8 285.25,370.8 286.45,370.8 287.65,370.8 288.85,370.8 290.05,370.8 291.25,370.8 292.45,370.8 293.65,370.8 294.85,370.8 296.05,370.8 297.25,370.8 298.45,370.8 299.65,370.8 300.85,370.8 302.05,370.8 303.25,370.8 304.45,370.8 305.65,370.8 306.85,370.8 308.05,370.8 309.25,370.8 310.45,370.8 311.65,370.8" fill="none" stroke="#ff1010" stroke-width="0.9" stroke-linejoin="round"/>
<polyline points="107.65,362.65 108.85,363.05 110.05,363.45 111.25,363.84 112.45,364.22 113.65,364.59 114.85,364.95 116.05,365.29 117.25,365.62 118.45,365.94 119.65,366.25 120.85,366.54 122.05,366.81 123.25,367.08 124.45,367.32 125.65,367.56 126.85,367.78 128.05,367.99 129.25,368.19 130.45,368.38 131.65,368.55 132.85,368.71 134.05,368.86 135.25,369.01 136.45,369.14 137.65,369.26 138.85,369.38 140.05,369.49 141.25,369.59 142.45,369.68 143.65,369.76 144.85,369.84 146.05,369.92 147.25,369.99 148.45,370.05 149.65,370.11 150.85,370.16 152.05,370.21 153.25,370.26 154.45,370.3 155.65,370.34 156.85,370.38 158.05,370.41 159.25,370.44 160.45,370.47 161.65,370.5 162.85,370.52 164.05,370.54 165.25,370.56 166.45,370.58 167.65,370.6 168.85,370.62 170.05,370.63 171.25,370.64 172.45,370.66 173.65,370.67 174.85,370.68 176.05,370.69 177.25,370.7 178.45,370.71 179.65,370.71 180.85,370.72 182.05,370.73 183.25,370.73 184.45,370.74 185.65,370.74 186.85,370.75 188.05,370.75 189.25,370.76 190.45,370.76 191.65,370.76 192.85,370.77 194.05,370.77 195.25,370.77 196.45,370.77 197.65,370.78 198.85,370.78 200.05,370.78 201.25,370.78 202.45,370.78 203.65,370.78 204.85,370.79 206.05,370.79 207.25,370.79 208.45,370.79 209.65,370.79 210.85,370.79 212.05,370.79 213.25,370.79 214.45,370.79 215.65,370.79 216.85,370.79 218.05,370.8 219.25,370.8 220.45,370.8 221.65,370.8 222.85,370.8 224.05,370.8 225.25,370.8 226.45,370.8 227.65,370.8 228.85,370.8 230.05,370.8 231.25,370.8 232.45,370.8 233.65,370.8 234.85,370.8 236.05,370.8 237.25,370.8 238.45,370.8 239.65,370.8 240.85,370.8 242.05,370.8 243.25,370.8 244.45,370.8 245.65,370.8 246.85,370.8 248.05,370.8 249.25,370.8 250.45,370.8 251.65,370.8 252.85,370.8 254.05,370.8 255.25,370.8 256.45,370.8 257.65,370.8 258.85,370.8 260.05,370.8 261.25,370.8 262.45,370.8 263.65,370.8 264.85,370.8 266.05,370.8 267.25,370.8 268.45,370.8 269.65,370.8 270.85,370.8 272.05,370.8 273.25,370.8 274.45,370.8 275.65,370.8 276.85,370.8 278.05,370.8 279.25,370.8 280.45,370.8 281.65,370.8 282.85,370.8 284.05,370.8 285.25,370.8 286.45,370.8 287.65,370.8 288.85,370.8 290.05,370.8 291.25,370.8 292.45,370.8 293.65,370.8 294.85,370.8 296.05,370.8 297.25,370.8 298.45,370.8 299.65,370.8 300.85,370.8 302.05,370.8 303.25,370.8 304.45,370.8 305.65,370.8 306.85,370.8 308.05,370.8 309.25,370.8 310.45,370.8 311.65,370.8" fill="none" stroke="#ff1010" stroke-width="0.9" stroke-linejoin="round"/>
<polyline points="107.65,364.98 108.85,365.21 110.05,365.44 111.25,365.67 112.45,365.91 113.65,366.13 114.85,366.36 116.05,366.58 117.25,366.8 118.45,367.01 119.65,367.22 120.85,367.42 122.05,367.61 123.25,367.8 124.45,367.98 125.65,368.15 126.85,368.32 128.05,368.48 129.25,368.63 130.45,368.77 131.65,368.91 132.85,369.04 134.05,369.16 135.25,369.27 136.45,369.38 137.65,369.48 138.85,369.57 140.05,369.66 141.25,369.75 142.45,369.82 143.65,369.9 144.85,369.96 146.05,370.03 147.25,370.08 148.45,370.14 149.65,370.19 150.85,370.24 152.05,370.28 153.25,370.32 154.45,370.36 155.65,370.39 156.85,370.42 158.05,370.45 159.25,370.48 160.45,370.5 161.65,370.53 162.85,370.55 164.05,370.57 165.25,370.59 166.45,370.6 167.65,370.62 168.85,370.63 170.05,370.65 171.25,370.66 172.45,370.67 173.65,370.68 174.85,370.69 176.05,370.7 177.25,370.71 178.45,370.72 179.65,370.72 180.85,370.73 182.05,370.73 183.25,370.74 184.45,370.74 185.65,370.75 186.85,370.75 188.05,370.76 189.25,370.76 190.45,370.76 191.65,370.77 192.85,370.77 194.05,370.77 195.25,370.77 196.45,370.78 197.65,370.78 198.85,370.78 200.05,370.78 201.25,370.78 202.45,370.78 203.65,370.79 204.85,370.79 206.05,370.79 207.25,370.79 208.45,370.79 209.65,370.79 210.85,370.79 212.05,370.79 213.25,370.79 214.45,370.79 215.65,370.79 216.85,370.8 218.05,370.8 219.25,370.8 220.45,370.8 221.65,370.8 222.85,370.8 224.05,370.8 225.25,370.8 226.45,370.8 227.65,370.8 228.85,370.8 230.05,370.8 231.25,370.8 232.45,370.8 233.65,370.8 234.85,370.8 236.05,370.8 237.25,370.8 238.45,370.8 239.65,370.8 240.85,370.8 242.05,370.8 243.25,370.8 244.45,370.8 245.65,370.8 246.85,370.8 248.05,370.8 249.25,370.8 250.45,370.8 251.65,370.8 252.85,370.8 254.05,370.8 255.25,370.8 256.45,370.8 257.65,370.8 258.85,370.8 260.05,370.8 261.25,370.8 262.45,370.8 263.65,370.8 264.85,370.8 266.05,370.8 267.25,370.8 268.45,370.8 269.65,370.8 270.85,370.8 272.05,370.8 273.25,370.8 274.45,370.8 275.65,370.8 276.85,370.8 278.05,370.8 279.25,370.8 280.45,370.8 281.65,370.8 282.85,370.8 284.05,370.8 285.25,370.8 286.45,370.8 287.65,370.8 288.85,370.8 290.05,370.8 291.25,370.8 292.45,370.8 293.65,370.8 294.85,370.8 296.05,370.8 297.25,370.8 298.45,370.8 299.65,370.8 300.85,370.8 302.05,370.8 303.25,370.8 304.45,370.8 305.65,370.8 306.85,370.8 308.05,370.8 309.25,370.8 310.45,370.8 311.65,370.8" fill="none" stroke="#ff1010" stroke-width="0.9" stroke-linejoin="round"/>
<polyline points="107.65,366.37 108.85,366.53 110.05,366.69 111.25,366.85 112.45,367.01 113.65,367.17 114.85,367.33 116.05,367.49 117.25,367.65 118.45,367.8 119.65,367.95 120.85,368.1 122.05,368.24 123.25,368.39 124.45,368.52 125.65,368.65 126.85,368.78 128.05,368.9 129.25,369.02 130.45,369.13 131.65,369.24 132.85,369.34 134.05,369.44 135.25,369.53 136.45,369.62 137.65,369.7 138.85,369.77 140.05,369.85 141.25,369.91 142.45,369.98 143.65,370.04 144.85,370.09 146.05,370.15 147.25,370.19 148.45,370.24 149.65,370.28 150.85,370.32 152.05,370.36 153.25,370.39 154.45,370.42 155.65,370.45 156.85,370.48 158.05,370.5 159.25,370.53 160.45,370.55 161.65,370.57 162.85,370.59 164.05,370.6 165.25,370.62 166.45,370.63 167.65,370.65 168.85,370.66 170.05,370.67 171.25,370.68 172.45,370.69 173.65,370.7 174.85,370.71 176.05,370.71 177.25,370.72 178.45,370.73 179.65,370.73 180.85,370.74 182.05,370.74 183.25,370.75 184.45,370.75 185.65,370.76 186.85,370.76 188.05,370.76 189.25,370.77 190.45,370.77 191.65,370.77 192.85,370.77 194.05,370.78 195.25,370.78 196.45,370.78 197.65,370.78 198.85,370.78 200.05,370.78 201.25,370.79 202.45,370.79 203.65,370.79 204.85,370.79 206.05,370.79 207.25,370.79 208.45,370.79 209.65,370.79 210.85,370.79 212.05,370.79 213.25,370.79 214.45,370.8 215.65,370.8 216.85,370.8 218.05,370.8 219.25,370.8 220.45,370.8 221.65,370.8 222.85,370.8 224.05,370.8 225.25,370.8 226.45,370.8 227.65,370.8 228.85,370.8 230.05,370.8 231.25,370.8 232.45,370.8 233.65,370.8 234.85,370.8 236.05,370.8 237.25,370.8 238.45,370.8 239.65,370.8 240.85,370.8 242.05,370.8 243.25,370.8 244.45,370.8 245.65,370.8 246.85,370.8 248.05,370.8 249.25,370.8 250.45,370.8 251.65,370.8 252.85,370.8 254.05,370.8 255.25,370.8 256.45,370.8 257.65,370.8 258.85,370.8 260.05,370.8 261.25,370.8 262.45,370.8 263.65,370.8 264.85,370.8 266.05,370.8 267.25,370.8 268.45,370.8 269.65,370.8 270.85,370.8 272.05,370.8 273.25,370.8 274.45,370.8 275.65,370.8 276.85,370.8 278.05,370.8 279.25,370.8 280.45,370.8 281.65,370.8 282.85,370.8 284.05,370.8 285.25,370.8 286.45,370.8 287.65,370.8 288.85,370.8 290.05,370.8 291.25,370.8 292.45,370.8 293.65,370.8 294.85,370.8 296.05,370.8 297.25,370.8 298.45,370.8 299.65,370.8 300.85,370.8 302.05,370.8 303.25,370.8 304.45,370.8 305.65,370.8 306.85,370.8 308.05,370.8 309.25,370.8 310.45,370.8 311.65,370.8" fill="none" stroke="#ff1010" stroke-width="0.9" stroke-linejoin="round"/>
<polyline points="107.65,367.77 108.85,367.86 110.05,367.95 111.25,368.04 112.45,368.13 113.65,368.23 114.85,368.32 116.05,368.42 117.25,368.51 118.45,368.61 119.65,368.7 120.85,368.8 122.05,368.89 123.25,368.99 124.45,369.08 125.65,369.17 126.85,369.25 128.05,369.34 129.25,369.42 130.45,369.5 131.65,369.58 132.85,369.65 134.05,369.72 135.25,369.79 136.45,369.85 137.65,369.92 138.85,369.97 140.05,370.03 141.25,370.08 142.45,370.13 143.65,370.18 144.85,370.22 146.05,370.26 147.25,370.3 148.45,370.34 149.65,370.37 150.85,370.4 152.05,370.43 153.25,370.46 154.45,370.49 155.65,370.51 156.85,370.53 158.05,370.55 159.25,370.57 160.45,370.59 161.65,370.61 162.85,370.62 164.05,370.63 165.25,370.65 166.45,370.66 167.65,370.67 168.85,370.68 170.05,370.69 171.25,370.7 172.45,370.71 173.65,370.71 174.85,370.72 176.05,370.73 177.25,370.73 178.45,370.74 179.65,370.74 180.85,370.75 182.05,370.75 183.25,370.76 184.45,370.76 185.65,370.76 186.85,370.77 188.05,370.77 189.25,370.77 190.45,370.77 191.65,370.78 192.85,370.78 194.05,370.78 195.25,370.78 196.45,370.78 197.65,370.78 198.85,370.79 200.05,370.79 201.25,370.79 202.45,370.79 203.65,370.79 204.85,370.79 206.05,370.79 207.25,370.79 208.45,370.79 209.65,370.79 210.85,370.79 212.05,370.79 213.25,370.8 214.45,370.8 215.65,370.8 216.85,370.8 218.05,370.8 219.25,370.8 220.45,370.8 221.65,370.8 222.85,370.8 224.05,370.8 225.25,370.8 226.45,370.8 227.65,370.8 228.85,370.8 230.05,370.8 231.25,370.8 232.45,370.8 233.65,370.8 234.85,370.8 236.05,370.8 237.25,370.8 238.45,370.8 239.65,370.8 240.85,370.8 242.05,370.8 243.25,370.8 244.45,370.8 245.65,370.8 246.85,370.8 248.05,370.8 249.25,370.8 250.45,370.8 251.65,370.8 252.85,370.8 254.05,370.8 255.25,370.8 256.45,370.8 257.65,370.8 258.85,370.8 260.05,370.8 261.25,370.8 262.45,370.8 263.65,370.8 264.85,370.8 266.05,370.8 267.25,370.8 268.45,370.8 269.65,370.8 270.85,370.8 272.05,370.8 273.25,370.8 274.45,370.8 275.65,370.8 276.85,370.8 278.05,370.8 279.25,370.8 280.45,370.8 281.65,370.8 282.85,370.8 284.05,370.8 285.25,370.8 286.45,370.8 287.65,370.8 288.85,370.8 290.05,370.8 291.25,370.8 292.45,370.8 293.65,370.8 294.85,370.8 296.05,370.8 297.25,370.8 298.45,370.8 299.65,370.8 300.85,370.8 302.05,370.8 303.25,370.8 304.45,370.8 305.65,370.8 306.85,370.8 308.05,370.8 309.25,370.8 310.45,370.8 311.65,370.8" fill="none" stroke="#ff1010" stroke-width="0.9" stroke-linejoin="round"/>
<polyline points="107.65,369.17 108.85,369.2 110.05,369.23 111.25,369.26 112.45,369.29 113.65,369.32 114.85,369.36 116.05,369.4 117.25,369.43 118.45,369.47 119.65,369.51 120.85,369.55 122.05,369.59 123.25,369.63 124.45,369.68 125.65,369.72 126.85,369.76 128.05,369.8 129.25,369.85 130.45,369.89 131.65,369.93 132.85,369.97 134.05,370.01 135.25,370.05 136.45,370.09 137.65,370.13 138.85,370.17 140.05,370.2 141.25,370.24 142.45,370.27 143.65,370.3 144.85,370.34 146.05,370.37 147.25,370.39 148.45,370.42 149.65,370.45 150.85,370.47 152.05,370.49 153.25,370.51 154.45,370.53 155.65,370.55 156.85,370.57 158.05,370.59 159.25,370.6 160.45,370.62 161.65,370.63 162.85,370.64 164.05,370.66 165.25,370.67 166.45,370.68 167.65,370.69 168.85,370.69 170.05,370.7 171.25,370.71 172.45,370.72 173.65,370.72 174.85,370.73 176.05,370.74 177.25,370.74 178.45,370.75 179.65,370.75 180.85,370.75 182.05,370.76 183.25,370.76 184.45,370.76 185.65,370.77 186.85,370.77 188.05,370.77 189.25,370.77 190.45,370.78 191.65,370.78 192.85,370.78 194.05,370.78 195.25,370.78 196.45,370.78 197.65,370.79 198.85,370.79 200.05,370.79 201.25,370.79 202.45,370.79 203.65,370.79 204.85,370.79 206.05,370.79 207.25,370.79 208.45,370.79 209.65,370.79 210.85,370.8 212.05,370.8 213.25,370.8 214.45,370.8 215.65,370.8 216.85,370.8 218.05,370.8 219.25,370.8 220.45,370.8 221.65,370.8 222.85,370.8 224.05,370.8 225.25,370.8 226.45,370.8 227.65,370.8 228.85,370.8 230.05,370.8 231.25,370.8 232.45,370.8 233.65,370.8 234.85,370.8 236.05,370.8 237.25,370.8 238.45,370.8 239.65,370.8 240.85,370.8 242.05,370.8 243.25,370.8 244.45,370.8 245.65,370.8 246.85,370.8 248.05,370.8 249.25,370.8 250.45,370.8 251.65,370.8 252.85,370.8 254.05,370.8 255.25,370.8 256.45,370.8 257.65,370.8 258.85,370.8 260.05,370.8 261.25,370.8 262.45,370.8 263.65,370.8 264.85,370.8 266.05,370.8 267.25,370.8 268.45,370.8 269.65,370.8 270.85,370.8 272.05,370.8 273.25,370.8 274.45,370.8 275.65,370.8 276.85,370.8 278.05,370.8 279.25,370.8 280.45,370.8 281.65,370.8 282.85,370.8 284.05,370.8 285.25,370.8 286.45,370.8 287.65,370.8 288.85,370.8 290.05,370.8 291.25,370.8 292.45,370.8 293.65,370.8 294.85,370.8 296.05,370.8 297.25,370.8 298.45,370.8 299.65,370.8 300.85,370.8 302.05,370.8 303.25,370.8 304.45,370.8 305.65,370.8 306.85,370.8 308.05,370.8 309.25,370.8 310.45,370.8 311.65,370.8" fill="none" stroke="#ff1010" stroke-width="0.9" stroke-linejoin="round"/>
<circle cx="107.65" cy="224.24" r="2.99" fill="none" stroke="#1a1aff" stroke-width="1.5"/>
<line x1="107.65" y1="227.23" x2="107.65" y2="231.72" stroke="#1a1aff" stroke-width="1.4"/>
<polygon points="104.89,228.61 110.41,228.61 107.65,232.06" fill="#1a1aff"/>
<circle cx="136.74" cy="296.94" r="2.99" fill="none" stroke="#1a1aff" stroke-width="1.5"/>
<line x1="136.74" y1="299.93" x2="136.74" y2="304.42" stroke="#1a1aff" stroke-width="1.4"/>
<polygon points="133.98,301.31 139.5,301.31 136.74,304.76" fill="#1a1aff"/>
<circle cx="165.89" cy="357.52" r="2.99" fill="none" stroke="#1a1aff" stroke-width="1.5"/>
<line x1="165.89" y1="360.51" x2="165.89" y2="365" stroke="#1a1aff" stroke-width="1.4"/>
<polygon points="163.13,361.89 168.65,361.89 165.89,365.34" fill="#1a1aff"/>
<circle cx="195.12" cy="369.17" r="4.6" fill="#1a1aff"/>
<circle cx="224.27" cy="370.1" r="4.6" fill="#1a1aff"/>
<circle cx="253.42" cy="370.57" r="4.6" fill="#1a1aff"/>
<circle cx="282.6" cy="370.57" r="4.6" fill="#1a1aff"/>
<circle cx="107.65" cy="305.79" r="2.99" fill="none" stroke="#1a1aff" stroke-width="1.5"/>
<line x1="108.34" y1="302.92" x2="109.49" y2="298.32" stroke="#1a1aff" stroke-width="1.4"/>
<polygon points="106.96,300.85 111.56,301.65 109.95,296.82" fill="#1a1aff"/>
<circle cx="136.74" cy="348.67" r="2.99" fill="none" stroke="#1a1aff" stroke-width="1.5"/>
<line x1="137.43" y1="345.79" x2="138.58" y2="341.19" stroke="#1a1aff" stroke-width="1.4"/>
<polygon points="136.05,343.72 140.65,344.53 139.04,339.7" fill="#1a1aff"/>
<circle cx="165.89" cy="366.84" r="2.99" fill="none" stroke="#1a1aff" stroke-width="1.5"/>
<line x1="166.58" y1="363.96" x2="167.73" y2="359.36" stroke="#1a1aff" stroke-width="1.4"/>
<polygon points="165.2,361.89 169.8,362.7 168.19,357.87" fill="#1a1aff"/>
<circle cx="195.12" cy="369.64" r="4.6" fill="#1a1aff"/>
<circle cx="224.27" cy="370.57" r="4.6" fill="#1a1aff"/>
<circle cx="253.42" cy="370.57" r="4.6" fill="#1a1aff"/>
<circle cx="282.6" cy="370.57" r="4.6" fill="#1a1aff"/>
<polygon points="112.25,311.85 109.95,315.84 105.35,315.84 103.05,311.85 105.35,307.87 109.95,307.87" fill="#1a1aff"/>
<polygon points="141.34,350.06 139.04,354.05 134.44,354.05 132.14,350.06 134.44,346.08 139.04,346.08" fill="#1a1aff"/>
<polygon points="170.49,366.84 168.19,370.82 163.59,370.82 161.29,366.84 163.59,362.86 168.19,362.86" fill="#1a1aff"/>
<polygon points="199.72,369.64 197.42,373.62 192.82,373.62 190.52,369.64 192.82,365.65 197.42,365.65" fill="#1a1aff"/>
<polygon points="228.87,370.57 226.57,374.55 221.97,374.55 219.67,370.57 221.97,366.58 226.57,366.58" fill="#1a1aff"/>
<polygon points="258.02,370.57 255.72,374.55 251.12,374.55 248.82,370.57 251.12,366.58 255.72,366.58" fill="#1a1aff"/>
<polygon points="287.2,370.57 284.9,374.55 280.3,374.55 278,370.57 280.3,366.58 284.9,366.58" fill="#1a1aff"/>
<polygon points="107.65,326.01 102.96,333.93 112.35,333.93" fill="#1a1aff"/>
<polygon points="136.74,356.3 132.04,364.21 141.44,364.21" fill="#1a1aff"/>
<polygon points="165.89,363.29 161.2,371.2 170.59,371.2" fill="#1a1aff"/>
<polygon points="195.12,365.16 190.42,373.07 199.81,373.07" fill="#1a1aff"/>
<polygon points="224.27,365.62 219.57,373.53 228.97,373.53" fill="#1a1aff"/>
<polygon points="253.42,365.62 248.72,373.53 258.12,373.53" fill="#1a1aff"/>
<polygon points="282.6,365.62 277.9,373.53 287.3,373.53" fill="#1a1aff"/>
<circle cx="107.65" cy="348.2" r="4.6" fill="#1a1aff"/>
<circle cx="136.74" cy="365.91" r="4.6" fill="#1a1aff"/>
<circle cx="165.89" cy="369.17" r="4.6" fill="#1a1aff"/>
<circle cx="195.12" cy="370.1" r="4.6" fill="#1a1aff"/>
<circle cx="224.27" cy="370.57" r="4.6" fill="#1a1aff"/>
<circle cx="253.42" cy="370.57" r="4.6" fill="#1a1aff"/>
<circle cx="282.6" cy="370.57" r="4.6" fill="#1a1aff"/>
<rect x="103.51" y="354.08" width="8.28" height="8.28" fill="#1a1aff"/>
<rect x="132.6" y="363.63" width="8.28" height="8.28" fill="#1a1aff"/>
<rect x="161.75" y="365.5" width="8.28" height="8.28" fill="#1a1aff"/>
<rect x="190.98" y="365.96" width="8.28" height="8.28" fill="#1a1aff"/>
<rect x="220.13" y="366.43" width="8.28" height="8.28" fill="#1a1aff"/>
<rect x="249.28" y="366.43" width="8.28" height="8.28" fill="#1a1aff"/>
<rect x="278.46" y="366.43" width="8.28" height="8.28" fill="#1a1aff"/>
<polygon points="107.65,343.58 108.82,346.6 112.05,346.77 109.54,348.81 110.37,351.94 107.65,350.18 104.94,351.94 105.77,348.81 103.26,346.77 106.49,346.6" fill="#ff1010"/>
<polygon points="136.74,363.62 137.9,366.64 141.13,366.81 138.62,368.85 139.46,371.98 136.74,370.22 134.03,371.98 134.86,368.85 132.35,366.81 135.58,366.64" fill="#ff1010"/>
<polygon points="165.89,365.48 167.06,368.5 170.29,368.67 167.78,370.71 168.61,373.84 165.89,372.08 163.18,373.84 164.01,370.71 161.5,368.67 164.73,368.5" fill="#ff1010"/>
<polygon points="195.12,365.95 196.28,368.97 199.51,369.14 197,371.18 197.83,374.31 195.12,372.55 192.4,374.31 193.23,371.18 190.72,369.14 193.95,368.97" fill="#ff1010"/>
<polygon points="224.27,365.95 225.43,368.97 228.66,369.14 226.15,371.18 226.98,374.31 224.27,372.55 221.55,374.31 222.39,371.18 219.88,369.14 223.11,368.97" fill="#ff1010"/>
<polygon points="253.42,365.95 254.59,368.97 257.82,369.14 255.3,371.18 256.14,374.31 253.42,372.55 250.71,374.31 251.54,371.18 249.03,369.14 252.26,368.97" fill="#ff1010"/>
<polygon points="282.6,365.95 283.76,368.97 286.99,369.14 284.48,371.18 285.32,374.31 282.6,372.55 279.88,374.31 280.72,371.18 278.21,369.14 281.44,368.97" fill="#ff1010"/>
<polygon points="107.65,357.92 103.16,365.48 112.15,365.48" fill="#ff1010"/>
<polygon points="136.74,364.44 132.25,372.01 141.23,372.01" fill="#ff1010"/>
<polygon points="165.89,365.37 161.4,372.94 170.39,372.94" fill="#ff1010"/>
<polygon points="195.12,365.84 190.62,373.41 199.61,373.41" fill="#ff1010"/>
<polygon points="224.27,365.84 219.78,373.41 228.76,373.41" fill="#ff1010"/>
<polygon points="253.42,365.84 248.93,373.41 257.91,373.41" fill="#ff1010"/>
<polygon points="282.6,365.84 278.11,373.41 287.09,373.41" fill="#ff1010"/>
<line x1="103.03" y1="364.98" x2="112.27" y2="364.98" stroke="#ff1010" stroke-width="1.6"/>
<line x1="107.65" y1="360.36" x2="107.65" y2="369.6" stroke="#ff1010" stroke-width="1.6"/>
<line x1="132.12" y1="369.64" x2="141.36" y2="369.64" stroke="#ff1010" stroke-width="1.6"/>
<line x1="136.74" y1="365.02" x2="136.74" y2="374.26" stroke="#ff1010" stroke-width="1.6"/>
<line x1="161.27" y1="370.1" x2="170.51" y2="370.1" stroke="#ff1010" stroke-width="1.6"/>
<line x1="165.89" y1="365.48" x2="165.89" y2="374.72" stroke="#ff1010" stroke-width="1.6"/>
<line x1="190.5" y1="370.57" x2="199.74" y2="370.57" stroke="#ff1010" stroke-width="1.6"/>
<line x1="195.12" y1="365.95" x2="195.12" y2="375.19" stroke="#ff1010" stroke-width="1.6"/>
<line x1="219.65" y1="370.57" x2="228.89" y2="370.57" stroke="#ff1010" stroke-width="1.6"/>
<line x1="224.27" y1="365.95" x2="224.27" y2="375.19" stroke="#ff1010" stroke-width="1.6"/>
<line x1="248.8" y1="370.57" x2="258.04" y2="370.57" stroke="#ff1010" stroke-width="1.6"/>
<line x1="253.42" y1="365.95" x2="253.42" y2="375.19" stroke="#ff1010" stroke-width="1.6"/>
<line x1="277.98" y1="370.57" x2="287.22" y2="370.57" stroke="#ff1010" stroke-width="1.6"/>
<line x1="282.6" y1="365.95" x2="282.6" y2="375.19" stroke="#ff1010" stroke-width="1.6"/>
<polygon points="107.65,361.53 112.49,366.37 107.65,371.21 102.81,366.37" fill="#ff1010"/>
<polygon points="136.74,364.8 141.58,369.64 136.74,374.48 131.9,369.64" fill="#ff1010"/>
<polygon points="165.89,365.26 170.73,370.1 165.89,374.94 161.05,370.1" fill="#ff1010"/>
<polygon points="195.12,365.73 199.96,370.57 195.12,375.41 190.28,370.57" fill="#ff1010"/>
<polygon points="224.27,365.73 229.11,370.57 224.27,375.41 219.43,370.57" fill="#ff1010"/>
<polygon points="253.42,365.73 258.26,370.57 253.42,375.41 248.58,370.57" fill="#ff1010"/>
<polygon points="282.6,365.73 287.44,370.57 282.6,375.41 277.76,370.57" fill="#ff1010"/>
<polygon points="107.65,372.5 103.16,364.93 112.15,364.93" fill="#ff1010"/>
<polygon points="136.74,374.83 132.25,367.26 141.23,367.26" fill="#ff1010"/>
<polygon points="165.89,375.3 161.4,367.73 170.39,367.73" fill="#ff1010"/>
<polygon points="195.12,375.3 190.62,367.73 199.61,367.73" fill="#ff1010"/>
<polygon points="224.27,375.3 219.78,367.73 228.76,367.73" fill="#ff1010"/>
<polygon points="253.42,375.3 248.93,367.73 257.91,367.73" fill="#ff1010"/>
<polygon points="282.6,375.3 278.11,367.73 287.09,367.73" fill="#ff1010"/>
<rect x="103.69" y="365.21" width="7.92" height="7.92" fill="#ff1010"/>
<rect x="132.78" y="366.14" width="7.92" height="7.92" fill="#ff1010"/>
<rect x="161.93" y="366.61" width="7.92" height="7.92" fill="#ff1010"/>
<rect x="191.16" y="366.61" width="7.92" height="7.92" fill="#ff1010"/>
<rect x="220.31" y="366.61" width="7.92" height="7.92" fill="#ff1010"/>
<rect x="249.46" y="366.61" width="7.92" height="7.92" fill="#ff1010"/>
<rect x="278.64" y="366.61" width="7.92" height="7.92" fill="#ff1010"/>
<text x="206.4" y="238.1" font-size="11.2" fill="#111" textLength="44.6" lengthAdjust="spacingAndGlyphs">NTX(uM)</text>
<text x="256.3" y="238.1" font-size="11.6" fill="#ff1010">Con</text>
<text x="283.5" y="238.1" font-size="11.6" fill="#1a1aff">shp53</text>
<text x="212.5" y="255.1" font-size="11.6" fill="#222">0</text>
<line x1="255.4" y1="248.7" x2="273" y2="248.7" stroke="#ff1010" stroke-width="1"/>
<polygon points="264.2,244.08 265.36,247.1 268.59,247.27 266.08,249.31 266.92,252.44 264.2,250.68 261.48,252.44 262.32,249.31 259.81,247.27 263.04,247.1" fill="#ff1010"/>
<line x1="287.9" y1="248.7" x2="305" y2="248.7" stroke="#1a1aff" stroke-width="1"/>
<circle cx="296.3" cy="246.4" r="2.86" fill="none" stroke="#1a1aff" stroke-width="1.5"/>
<line x1="296.3" y1="249.26" x2="296.3" y2="253.55" stroke="#1a1aff" stroke-width="1.4"/>
<polygon points="293.66,250.58 298.94,250.58 296.3,253.88" fill="#1a1aff"/>
<text x="212.5" y="268.8" font-size="11.6" fill="#222">0.063</text>
<line x1="255.4" y1="262.7" x2="273" y2="262.7" stroke="#ff1010" stroke-width="1"/>
<polygon points="264.2,257.97 259.71,265.54 268.69,265.54" fill="#ff1010"/>
<line x1="287.9" y1="262.7" x2="305" y2="262.7" stroke="#1a1aff" stroke-width="1"/>
<circle cx="296.3" cy="265" r="2.86" fill="none" stroke="#1a1aff" stroke-width="1.5"/>
<line x1="296.96" y1="262.25" x2="298.06" y2="257.85" stroke="#1a1aff" stroke-width="1.4"/>
<polygon points="295.64,260.27 300.04,261.04 298.5,256.42" fill="#1a1aff"/>
<text x="212.5" y="283.3" font-size="11.6" fill="#222">0.13</text>
<line x1="255.4" y1="277.2" x2="273" y2="277.2" stroke="#ff1010" stroke-width="1"/>
<line x1="259.58" y1="277.2" x2="268.82" y2="277.2" stroke="#ff1010" stroke-width="1.6"/>
<line x1="264.2" y1="272.58" x2="264.2" y2="281.82" stroke="#ff1010" stroke-width="1.6"/>
<line x1="287.9" y1="277.2" x2="305" y2="277.2" stroke="#1a1aff" stroke-width="1"/>
<polygon points="300.7,277.2 298.5,281.01 294.1,281.01 291.9,277.2 294.1,273.39 298.5,273.39" fill="#1a1aff"/>
<text x="212.5" y="297.7" font-size="11.6" fill="#222">0.25</text>
<line x1="255.4" y1="291.6" x2="273" y2="291.6" stroke="#ff1010" stroke-width="1"/>
<polygon points="264.2,286.76 269.04,291.6 264.2,296.44 259.36,291.6" fill="#ff1010"/>
<line x1="287.9" y1="291.6" x2="305" y2="291.6" stroke="#1a1aff" stroke-width="1"/>
<polygon points="296.3,286.87 291.81,294.44 300.79,294.44" fill="#1a1aff"/>
<text x="212.5" y="312" font-size="11.6" fill="#222">0.50</text>
<line x1="255.4" y1="306.5" x2="273" y2="306.5" stroke="#ff1010" stroke-width="1"/>
<polygon points="264.2,311.23 259.71,303.66 268.69,303.66" fill="#ff1010"/>
<line x1="287.9" y1="306.5" x2="305" y2="306.5" stroke="#1a1aff" stroke-width="1"/>
<circle cx="296.3" cy="306.5" r="4.4" fill="#1a1aff"/>
<text x="212.5" y="326.6" font-size="11.6" fill="#222">1</text>
<line x1="255.4" y1="321" x2="273" y2="321" stroke="#ff1010" stroke-width="1"/>
<rect x="260.24" y="317.04" width="7.92" height="7.92" fill="#ff1010"/>
<line x1="287.9" y1="321" x2="305" y2="321" stroke="#1a1aff" stroke-width="1"/>
<rect x="292.34" y="317.04" width="7.92" height="7.92" fill="#1a1aff"/>
<line x1="388.6" y1="207.3" x2="388.6" y2="372.5" stroke="#000" stroke-width="2.1"/>
<line x1="387.6" y1="371.5" x2="633.6" y2="371.5" stroke="#000" stroke-width="2.1"/>
<line x1="381.6" y1="371.5" x2="388.6" y2="371.5" stroke="#000" stroke-width="2"/>
<text x="380" y="375.8" font-size="12" font-weight="bold" text-anchor="end" fill="#111">0</text>
<line x1="381.6" y1="348.2" x2="388.6" y2="348.2" stroke="#000" stroke-width="2"/>
<text x="380" y="352.5" font-size="12" font-weight="bold" text-anchor="end" fill="#111">5</text>
<line x1="381.6" y1="324.9" x2="388.6" y2="324.9" stroke="#000" stroke-width="2"/>
<text x="380" y="329.2" font-size="12" font-weight="bold" text-anchor="end" fill="#111">10</text>
<line x1="381.6" y1="301.6" x2="388.6" y2="301.6" stroke="#000" stroke-width="2"/>
<text x="380" y="305.9" font-size="12" font-weight="bold" text-anchor="end" fill="#111">15</text>
<line x1="381.6" y1="278.3" x2="388.6" y2="278.3" stroke="#000" stroke-width="2"/>
<text x="380" y="282.6" font-size="12" font-weight="bold" text-anchor="end" fill="#111">20</text>
<line x1="381.6" y1="255" x2="388.6" y2="255" stroke="#000" stroke-width="2"/>
<text x="380" y="259.3" font-size="12" font-weight="bold" text-anchor="end" fill="#111">25</text>
<line x1="381.6" y1="231.7" x2="388.6" y2="231.7" stroke="#000" stroke-width="2"/>
<text x="380" y="236" font-size="12" font-weight="bold" text-anchor="end" fill="#111">30</text>
<line x1="381.6" y1="208.4" x2="388.6" y2="208.4" stroke="#000" stroke-width="2"/>
<text x="380" y="212.7" font-size="12" font-weight="bold" text-anchor="end" fill="#111">35</text>
<line x1="418.7" y1="371.5" x2="418.7" y2="378.5" stroke="#000" stroke-width="2"/>
<text x="418.7" y="392.5" font-size="12" font-weight="bold" text-anchor="middle" fill="#111">-8</text>
<line x1="479.8" y1="371.5" x2="479.8" y2="378.5" stroke="#000" stroke-width="2"/>
<text x="479.8" y="392.5" font-size="12" font-weight="bold" text-anchor="middle" fill="#111">-7</text>
<line x1="540.9" y1="371.5" x2="540.9" y2="378.5" stroke="#000" stroke-width="2"/>
<text x="540.9" y="392.5" font-size="12" font-weight="bold" text-anchor="middle" fill="#111">-6</text>
<line x1="602" y1="371.5" x2="602" y2="378.5" stroke="#000" stroke-width="2"/>
<text x="602" y="392.5" font-size="12" font-weight="bold" text-anchor="middle" fill="#111">-5</text>
<text x="511" y="411.3" font-size="13.4" font-weight="bold" text-anchor="middle" fill="#111" textLength="113.6" lengthAdjust="spacingAndGlyphs">Log[venetoclax]M</text>
<text x="358.2" y="289" font-size="13.4" font-weight="bold" text-anchor="middle" fill="#111" transform="rotate(-90 358.2 289)" textLength="139" lengthAdjust="spacingAndGlyphs">Survival (%of control)</text>
<polyline points="427.05,238.22 428.25,242.16 429.45,246.08 430.65,250 431.85,253.9 433.05,257.77 434.25,261.61 435.45,265.41 436.65,269.17 437.85,272.88 439.05,276.53 440.25,280.12 441.45,283.65 442.65,287.1 443.85,290.48 445.05,293.79 446.25,297.01 447.45,300.15 448.65,303.2 449.85,306.17 451.05,309.04 452.25,311.83 453.45,314.53 454.65,317.14 455.85,319.65 457.05,322.08 458.25,324.41 459.45,326.66 460.65,328.82 461.85,330.89 463.05,332.88 464.25,334.78 465.45,336.61 466.65,338.35 467.85,340.02 469.05,341.61 470.25,343.13 471.45,344.58 472.65,345.97 473.85,347.28 475.05,348.53 476.25,349.73 477.45,350.86 478.65,351.94 479.85,352.96 481.05,353.93 482.25,354.86 483.45,355.73 484.65,356.56 485.85,357.35 487.05,358.09 488.25,358.8 489.45,359.47 490.65,360.1 491.85,360.7 493.05,361.27 494.25,361.8 495.45,362.31 496.65,362.79 497.85,363.24 499.05,363.67 500.25,364.08 501.45,364.46 502.65,364.82 503.85,365.16 505.05,365.48 506.25,365.79 507.45,366.07 508.65,366.34 509.85,366.6 511.05,366.84 512.25,367.07 513.45,367.28 514.65,367.48 515.85,367.67 517.05,367.85 518.25,368.02 519.45,368.18 520.65,368.34 521.85,368.48 523.05,368.61 524.25,368.74 525.45,368.86 526.65,368.97 527.85,369.08 529.05,369.18 530.25,369.27 531.45,369.36 532.65,369.44 533.85,369.52 535.05,369.6 536.25,369.67 537.45,369.73 538.65,369.79 539.85,369.85 541.05,369.91 542.25,369.96 543.45,370.01 544.65,370.05 545.85,370.1 547.05,370.14 548.25,370.18 549.45,370.21 550.65,370.25 551.85,370.28 553.05,370.31 554.25,370.34 555.45,370.36 556.65,370.39 557.85,370.41 559.05,370.44 560.25,370.46 561.45,370.48 562.65,370.5 563.85,370.51 565.05,370.53 566.25,370.55 567.45,370.56 568.65,370.58 569.85,370.59 571.05,370.6 572.25,370.61 573.45,370.62 574.65,370.63 575.85,370.64 577.05,370.65 578.25,370.66 579.45,370.67 580.65,370.68 581.85,370.68 583.05,370.69 584.25,370.7 585.45,370.7 586.65,370.71 587.85,370.71 589.05,370.72 590.25,370.72 591.45,370.73 592.65,370.73 593.85,370.74 595.05,370.74 596.25,370.74 597.45,370.75 598.65,370.75 599.85,370.75 601.05,370.76 602.25,370.76 603.45,370.76 604.65,370.76 605.85,370.77 607.05,370.77 608.25,370.77 609.45,370.77 610.65,370.77 611.85,370.77 613.05,370.78 614.25,370.78 615.45,370.78 616.65,370.78 617.85,370.78 619.05,370.78 620.25,370.78 621.45,370.78 622.65,370.79 623.85,370.79 625.05,370.79 626.25,370.79 627.45,370.79 628.65,370.79 629.85,370.79 631.05,370.79" fill="none" stroke="#1a1aff" stroke-width="1.1" stroke-linejoin="round"/>
<polyline points="427.05,257.8 428.25,262.23 429.45,266.58 430.65,270.83 431.85,274.98 433.05,279.03 434.25,282.96 435.45,286.79 436.65,290.5 437.85,294.11 439.05,297.59 440.25,300.96 441.45,304.22 442.65,307.36 443.85,310.38 445.05,313.29 446.25,316.09 447.45,318.78 448.65,321.36 449.85,323.84 451.05,326.21 452.25,328.47 453.45,330.64 454.65,332.71 455.85,334.69 457.05,336.58 458.25,338.38 459.45,340.09 460.65,341.72 461.85,343.28 463.05,344.76 464.25,346.16 465.45,347.5 466.65,348.76 467.85,349.97 469.05,351.11 470.25,352.19 471.45,353.22 472.65,354.19 473.85,355.11 475.05,355.99 476.25,356.81 477.45,357.59 478.65,358.33 479.85,359.03 481.05,359.7 482.25,360.32 483.45,360.92 484.65,361.48 485.85,362 487.05,362.5 488.25,362.98 489.45,363.42 490.65,363.84 491.85,364.24 493.05,364.61 494.25,364.97 495.45,365.3 496.65,365.62 497.85,365.92 499.05,366.2 500.25,366.46 501.45,366.71 502.65,366.95 503.85,367.17 505.05,367.38 506.25,367.57 507.45,367.76 508.65,367.94 509.85,368.1 511.05,368.26 512.25,368.4 513.45,368.54 514.65,368.67 515.85,368.8 517.05,368.91 518.25,369.02 519.45,369.13 520.65,369.22 521.85,369.31 523.05,369.4 524.25,369.48 525.45,369.56 526.65,369.63 527.85,369.7 529.05,369.76 530.25,369.82 531.45,369.88 532.65,369.93 533.85,369.98 535.05,370.03 536.25,370.08 537.45,370.12 538.65,370.16 539.85,370.19 541.05,370.23 542.25,370.26 543.45,370.29 544.65,370.32 545.85,370.35 547.05,370.38 548.25,370.4 549.45,370.43 550.65,370.45 551.85,370.47 553.05,370.49 554.25,370.51 555.45,370.52 556.65,370.54 557.85,370.55 559.05,370.57 560.25,370.58 561.45,370.59 562.65,370.61 563.85,370.62 565.05,370.63 566.25,370.64 567.45,370.65 568.65,370.66 569.85,370.67 571.05,370.67 572.25,370.68 573.45,370.69 574.65,370.69 575.85,370.7 577.05,370.71 578.25,370.71 579.45,370.72 580.65,370.72 581.85,370.73 583.05,370.73 584.25,370.74 585.45,370.74 586.65,370.74 587.85,370.75 589.05,370.75 590.25,370.75 591.45,370.75 592.65,370.76 593.85,370.76 595.05,370.76 596.25,370.76 597.45,370.77 598.65,370.77 599.85,370.77 601.05,370.77 602.25,370.77 603.45,370.78 604.65,370.78 605.85,370.78 607.05,370.78 608.25,370.78 609.45,370.78 610.65,370.78 611.85,370.78 613.05,370.79 614.25,370.79 615.45,370.79 616.65,370.79 617.85,370.79 619.05,370.79 620.25,370.79 621.45,370.79 622.65,370.79 623.85,370.79 625.05,370.79 626.25,370.79 627.45,370.79 628.65,370.79 629.85,370.79 631.05,370.79" fill="none" stroke="#1a1aff" stroke-width="1.1" stroke-linejoin="round"/>
<polyline points="427.05,271.78 428.25,276.46 429.45,280.96 430.65,285.3 431.85,289.47 433.05,293.48 434.25,297.32 435.45,301 436.65,304.53 437.85,307.9 439.05,311.13 440.25,314.21 441.45,317.15 442.65,319.96 443.85,322.64 445.05,325.18 446.25,327.61 447.45,329.92 448.65,332.12 449.85,334.21 451.05,336.19 452.25,338.07 453.45,339.86 454.65,341.56 455.85,343.17 457.05,344.69 458.25,346.14 459.45,347.51 460.65,348.8 461.85,350.03 463.05,351.19 464.25,352.29 465.45,353.33 466.65,354.32 467.85,355.25 469.05,356.13 470.25,356.96 471.45,357.74 472.65,358.48 473.85,359.19 475.05,359.85 476.25,360.47 477.45,361.06 478.65,361.62 479.85,362.14 481.05,362.64 482.25,363.11 483.45,363.55 484.65,363.97 485.85,364.36 487.05,364.73 488.25,365.08 489.45,365.41 490.65,365.72 491.85,366.01 493.05,366.29 494.25,366.55 495.45,366.79 496.65,367.03 497.85,367.24 499.05,367.45 500.25,367.64 501.45,367.83 502.65,368 503.85,368.16 505.05,368.31 506.25,368.46 507.45,368.59 508.65,368.72 509.85,368.84 511.05,368.96 512.25,369.06 513.45,369.16 514.65,369.26 515.85,369.35 517.05,369.43 518.25,369.51 519.45,369.59 520.65,369.66 521.85,369.72 523.05,369.79 524.25,369.85 525.45,369.9 526.65,369.95 527.85,370 529.05,370.05 530.25,370.09 531.45,370.13 532.65,370.17 533.85,370.21 535.05,370.24 536.25,370.28 537.45,370.31 538.65,370.34 539.85,370.36 541.05,370.39 542.25,370.41 543.45,370.43 544.65,370.46 545.85,370.48 547.05,370.5 548.25,370.51 549.45,370.53 550.65,370.55 551.85,370.56 553.05,370.57 554.25,370.59 555.45,370.6 556.65,370.61 557.85,370.62 559.05,370.63 560.25,370.64 561.45,370.65 562.65,370.66 563.85,370.67 565.05,370.68 566.25,370.68 567.45,370.69 568.65,370.7 569.85,370.7 571.05,370.71 572.25,370.71 573.45,370.72 574.65,370.72 575.85,370.73 577.05,370.73 578.25,370.74 579.45,370.74 580.65,370.74 581.85,370.75 583.05,370.75 584.25,370.75 585.45,370.76 586.65,370.76 587.85,370.76 589.05,370.76 590.25,370.77 591.45,370.77 592.65,370.77 593.85,370.77 595.05,370.77 596.25,370.77 597.45,370.78 598.65,370.78 599.85,370.78 601.05,370.78 602.25,370.78 603.45,370.78 604.65,370.78 605.85,370.78 607.05,370.79 608.25,370.79 609.45,370.79 610.65,370.79 611.85,370.79 613.05,370.79 614.25,370.79 615.45,370.79 616.65,370.79 617.85,370.79 619.05,370.79 620.25,370.79 621.45,370.79 622.65,370.79 623.85,370.79 625.05,370.79 626.25,370.8 627.45,370.8 628.65,370.8 629.85,370.8 631.05,370.8" fill="none" stroke="#1a1aff" stroke-width="1.1" stroke-linejoin="round"/>
<polyline points="427.05,282.49 428.25,286.63 429.45,290.62 430.65,294.46 431.85,298.16 433.05,301.71 434.25,305.12 435.45,308.39 436.65,311.53 437.85,314.53 439.05,317.4 440.25,320.15 441.45,322.77 442.65,325.27 443.85,327.66 445.05,329.93 446.25,332.1 447.45,334.16 448.65,336.12 449.85,337.99 451.05,339.76 452.25,341.44 453.45,343.04 454.65,344.56 455.85,346 457.05,347.37 458.25,348.66 459.45,349.89 460.65,351.05 461.85,352.15 463.05,353.19 464.25,354.18 465.45,355.11 466.65,355.99 467.85,356.83 469.05,357.62 470.25,358.36 471.45,359.07 472.65,359.73 473.85,360.36 475.05,360.96 476.25,361.52 477.45,362.05 478.65,362.55 479.85,363.02 481.05,363.46 482.25,363.88 483.45,364.28 484.65,364.66 485.85,365.01 487.05,365.34 488.25,365.66 489.45,365.95 490.65,366.23 491.85,366.5 493.05,366.74 494.25,366.98 495.45,367.2 496.65,367.41 497.85,367.6 499.05,367.79 500.25,367.96 501.45,368.13 502.65,368.28 503.85,368.43 505.05,368.56 506.25,368.69 507.45,368.82 508.65,368.93 509.85,369.04 511.05,369.14 512.25,369.24 513.45,369.33 514.65,369.41 515.85,369.49 517.05,369.57 518.25,369.64 519.45,369.71 520.65,369.77 521.85,369.83 523.05,369.89 524.25,369.94 525.45,369.99 526.65,370.04 527.85,370.08 529.05,370.12 530.25,370.16 531.45,370.2 532.65,370.24 533.85,370.27 535.05,370.3 536.25,370.33 537.45,370.36 538.65,370.38 539.85,370.41 541.05,370.43 542.25,370.45 543.45,370.47 544.65,370.49 545.85,370.51 547.05,370.53 548.25,370.54 549.45,370.56 550.65,370.57 551.85,370.58 553.05,370.6 554.25,370.61 555.45,370.62 556.65,370.63 557.85,370.64 559.05,370.65 560.25,370.66 561.45,370.67 562.65,370.67 563.85,370.68 565.05,370.69 566.25,370.7 567.45,370.7 568.65,370.71 569.85,370.71 571.05,370.72 572.25,370.72 573.45,370.73 574.65,370.73 575.85,370.74 577.05,370.74 578.25,370.74 579.45,370.75 580.65,370.75 581.85,370.75 583.05,370.76 584.25,370.76 585.45,370.76 586.65,370.76 587.85,370.77 589.05,370.77 590.25,370.77 591.45,370.77 592.65,370.77 593.85,370.77 595.05,370.78 596.25,370.78 597.45,370.78 598.65,370.78 599.85,370.78 601.05,370.78 602.25,370.78 603.45,370.78 604.65,370.79 605.85,370.79 607.05,370.79 608.25,370.79 609.45,370.79 610.65,370.79 611.85,370.79 613.05,370.79 614.25,370.79 615.45,370.79 616.65,370.79 617.85,370.79 619.05,370.79 620.25,370.79 621.45,370.79 622.65,370.79 623.85,370.8 625.05,370.8 626.25,370.8 627.45,370.8 628.65,370.8 629.85,370.8 631.05,370.8" fill="none" stroke="#1a1aff" stroke-width="1.1" stroke-linejoin="round"/>
<polyline points="427.05,294.14 428.25,297.36 429.45,300.49 430.65,303.54 431.85,306.49 433.05,309.36 434.25,312.14 435.45,314.83 436.65,317.42 437.85,319.93 439.05,322.34 440.25,324.67 441.45,326.91 442.65,329.06 443.85,331.12 445.05,333.1 446.25,335 447.45,336.81 448.65,338.55 449.85,340.21 451.05,341.79 452.25,343.3 453.45,344.75 454.65,346.12 455.85,347.43 457.05,348.68 458.25,349.86 459.45,350.99 460.65,352.06 461.85,353.08 463.05,354.04 464.25,354.96 465.45,355.83 466.65,356.66 467.85,357.44 469.05,358.18 470.25,358.88 471.45,359.54 472.65,360.17 473.85,360.77 475.05,361.33 476.25,361.86 477.45,362.37 478.65,362.84 479.85,363.29 481.05,363.72 482.25,364.12 483.45,364.5 484.65,364.86 485.85,365.2 487.05,365.52 488.25,365.82 489.45,366.1 490.65,366.37 491.85,366.63 493.05,366.87 494.25,367.09 495.45,367.31 496.65,367.51 497.85,367.7 499.05,367.88 500.25,368.04 501.45,368.2 502.65,368.35 503.85,368.49 505.05,368.63 506.25,368.75 507.45,368.87 508.65,368.98 509.85,369.09 511.05,369.19 512.25,369.28 513.45,369.37 514.65,369.45 515.85,369.53 517.05,369.6 518.25,369.67 519.45,369.74 520.65,369.8 521.85,369.86 523.05,369.91 524.25,369.96 525.45,370.01 526.65,370.06 527.85,370.1 529.05,370.14 530.25,370.18 531.45,370.22 532.65,370.25 533.85,370.28 535.05,370.31 536.25,370.34 537.45,370.37 538.65,370.39 539.85,370.42 541.05,370.44 542.25,370.46 543.45,370.48 544.65,370.5 545.85,370.52 547.05,370.53 548.25,370.55 549.45,370.56 550.65,370.58 551.85,370.59 553.05,370.6 554.25,370.61 555.45,370.62 556.65,370.64 557.85,370.64 559.05,370.65 560.25,370.66 561.45,370.67 562.65,370.68 563.85,370.69 565.05,370.69 566.25,370.7 567.45,370.7 568.65,370.71 569.85,370.72 571.05,370.72 572.25,370.72 573.45,370.73 574.65,370.73 575.85,370.74 577.05,370.74 578.25,370.74 579.45,370.75 580.65,370.75 581.85,370.75 583.05,370.76 584.25,370.76 585.45,370.76 586.65,370.76 587.85,370.77 589.05,370.77 590.25,370.77 591.45,370.77 592.65,370.77 593.85,370.78 595.05,370.78 596.25,370.78 597.45,370.78 598.65,370.78 599.85,370.78 601.05,370.78 602.25,370.78 603.45,370.79 604.65,370.79 605.85,370.79 607.05,370.79 608.25,370.79 609.45,370.79 610.65,370.79 611.85,370.79 613.05,370.79 614.25,370.79 615.45,370.79 616.65,370.79 617.85,370.79 619.05,370.79 620.25,370.79 621.45,370.79 622.65,370.79 623.85,370.8 625.05,370.8 626.25,370.8 627.45,370.8 628.65,370.8 629.85,370.8 631.05,370.8" fill="none" stroke="#1a1aff" stroke-width="1.1" stroke-linejoin="round"/>
<polyline points="427.05,323.5 428.25,325.4 429.45,327.26 430.65,329.07 431.85,330.84 433.05,332.56 434.25,334.23 435.45,335.85 436.65,337.43 437.85,338.95 439.05,340.42 440.25,341.84 441.45,343.21 442.65,344.52 443.85,345.79 445.05,347.01 446.25,348.18 447.45,349.31 448.65,350.39 449.85,351.42 451.05,352.4 452.25,353.35 453.45,354.25 454.65,355.11 455.85,355.93 457.05,356.71 458.25,357.46 459.45,358.17 460.65,358.84 461.85,359.49 463.05,360.1 464.25,360.68 465.45,361.23 466.65,361.75 467.85,362.25 469.05,362.72 470.25,363.17 471.45,363.59 472.65,363.99 473.85,364.37 475.05,364.73 476.25,365.07 477.45,365.39 478.65,365.69 479.85,365.98 481.05,366.25 482.25,366.51 483.45,366.75 484.65,366.98 485.85,367.2 487.05,367.4 488.25,367.6 489.45,367.78 490.65,367.95 491.85,368.12 493.05,368.27 494.25,368.41 495.45,368.55 496.65,368.68 497.85,368.8 499.05,368.92 500.25,369.03 501.45,369.13 502.65,369.22 503.85,369.31 505.05,369.4 506.25,369.48 507.45,369.56 508.65,369.63 509.85,369.7 511.05,369.76 512.25,369.82 513.45,369.88 514.65,369.93 515.85,369.98 517.05,370.03 518.25,370.07 519.45,370.12 520.65,370.16 521.85,370.19 523.05,370.23 524.25,370.26 525.45,370.29 526.65,370.32 527.85,370.35 529.05,370.38 530.25,370.4 531.45,370.42 532.65,370.45 533.85,370.47 535.05,370.49 536.25,370.5 537.45,370.52 538.65,370.54 539.85,370.55 541.05,370.57 542.25,370.58 543.45,370.59 544.65,370.61 545.85,370.62 547.05,370.63 548.25,370.64 549.45,370.65 550.65,370.66 551.85,370.66 553.05,370.67 554.25,370.68 555.45,370.69 556.65,370.69 557.85,370.7 559.05,370.71 560.25,370.71 561.45,370.72 562.65,370.72 563.85,370.73 565.05,370.73 566.25,370.73 567.45,370.74 568.65,370.74 569.85,370.75 571.05,370.75 572.25,370.75 573.45,370.75 574.65,370.76 575.85,370.76 577.05,370.76 578.25,370.76 579.45,370.77 580.65,370.77 581.85,370.77 583.05,370.77 584.25,370.77 585.45,370.78 586.65,370.78 587.85,370.78 589.05,370.78 590.25,370.78 591.45,370.78 592.65,370.78 593.85,370.78 595.05,370.79 596.25,370.79 597.45,370.79 598.65,370.79 599.85,370.79 601.05,370.79 602.25,370.79 603.45,370.79 604.65,370.79 605.85,370.79 607.05,370.79 608.25,370.79 609.45,370.79 610.65,370.79 611.85,370.79 613.05,370.79 614.25,370.79 615.45,370.8 616.65,370.8 617.85,370.8 619.05,370.8 620.25,370.8 621.45,370.8 622.65,370.8 623.85,370.8 625.05,370.8 626.25,370.8 627.45,370.8 628.65,370.8 629.85,370.8 631.05,370.8" fill="none" stroke="#1a1aff" stroke-width="1.1" stroke-linejoin="round"/>
<polyline points="427.05,334.69 428.25,337.48 429.45,340.07 430.65,342.47 431.85,344.68 433.05,346.72 434.25,348.61 435.45,350.36 436.65,351.97 437.85,353.46 439.05,354.83 440.25,356.09 441.45,357.26 442.65,358.33 443.85,359.33 445.05,360.24 446.25,361.08 447.45,361.86 448.65,362.57 449.85,363.23 451.05,363.83 452.25,364.39 453.45,364.9 454.65,365.37 455.85,365.81 457.05,366.21 458.25,366.58 459.45,366.92 460.65,367.23 461.85,367.51 463.05,367.78 464.25,368.02 465.45,368.24 466.65,368.45 467.85,368.64 469.05,368.81 470.25,368.97 471.45,369.12 472.65,369.25 473.85,369.38 475.05,369.49 476.25,369.6 477.45,369.7 478.65,369.78 479.85,369.87 481.05,369.94 482.25,370.01 483.45,370.07 484.65,370.13 485.85,370.19 487.05,370.24 488.25,370.28 489.45,370.32 490.65,370.36 491.85,370.4 493.05,370.43 494.25,370.46 495.45,370.49 496.65,370.51 497.85,370.54 499.05,370.56 500.25,370.58 501.45,370.59 502.65,370.61 503.85,370.63 505.05,370.64 506.25,370.65 507.45,370.67 508.65,370.68 509.85,370.69 511.05,370.7 512.25,370.7 513.45,370.71 514.65,370.72 515.85,370.73 517.05,370.73 518.25,370.74 519.45,370.74 520.65,370.75 521.85,370.75 523.05,370.76 524.25,370.76 525.45,370.76 526.65,370.77 527.85,370.77 529.05,370.77 530.25,370.77 531.45,370.78 532.65,370.78 533.85,370.78 535.05,370.78 536.25,370.78 537.45,370.78 538.65,370.79 539.85,370.79 541.05,370.79 542.25,370.79 543.45,370.79 544.65,370.79 545.85,370.79 547.05,370.79 548.25,370.79 549.45,370.79 550.65,370.79 551.85,370.79 553.05,370.8 554.25,370.8 555.45,370.8 556.65,370.8 557.85,370.8 559.05,370.8 560.25,370.8 561.45,370.8 562.65,370.8 563.85,370.8 565.05,370.8 566.25,370.8 567.45,370.8 568.65,370.8 569.85,370.8 571.05,370.8 572.25,370.8 573.45,370.8 574.65,370.8 575.85,370.8 577.05,370.8 578.25,370.8 579.45,370.8 580.65,370.8 581.85,370.8 583.05,370.8 584.25,370.8 585.45,370.8 586.65,370.8 587.85,370.8 589.05,370.8 590.25,370.8 591.45,370.8 592.65,370.8 593.85,370.8 595.05,370.8 596.25,370.8 597.45,370.8 598.65,370.8 599.85,370.8 601.05,370.8 602.25,370.8 603.45,370.8 604.65,370.8 605.85,370.8 607.05,370.8 608.25,370.8 609.45,370.8 610.65,370.8 611.85,370.8 613.05,370.8 614.25,370.8 615.45,370.8 616.65,370.8 617.85,370.8 619.05,370.8 620.25,370.8 621.45,370.8 622.65,370.8 623.85,370.8 625.05,370.8 626.25,370.8 627.45,370.8 628.65,370.8 629.85,370.8 631.05,370.8" fill="none" stroke="#ff1010" stroke-width="0.9" stroke-linejoin="round"/>
<polyline points="427.05,351.46 428.25,352.55 429.45,353.6 430.65,354.62 431.85,355.59 433.05,356.53 434.25,357.43 435.45,358.28 436.65,359.1 437.85,359.87 439.05,360.6 440.25,361.29 441.45,361.95 442.65,362.56 443.85,363.14 445.05,363.69 446.25,364.2 447.45,364.68 448.65,365.12 449.85,365.54 451.05,365.93 452.25,366.29 453.45,366.63 454.65,366.95 455.85,367.24 457.05,367.51 458.25,367.76 459.45,368 460.65,368.21 461.85,368.41 463.05,368.6 464.25,368.77 465.45,368.93 466.65,369.07 467.85,369.21 469.05,369.34 470.25,369.45 471.45,369.56 472.65,369.66 473.85,369.75 475.05,369.83 476.25,369.91 477.45,369.98 478.65,370.04 479.85,370.1 481.05,370.16 482.25,370.21 483.45,370.26 484.65,370.3 485.85,370.34 487.05,370.38 488.25,370.41 489.45,370.44 490.65,370.47 491.85,370.5 493.05,370.52 494.25,370.54 495.45,370.57 496.65,370.58 497.85,370.6 499.05,370.62 500.25,370.63 501.45,370.65 502.65,370.66 503.85,370.67 505.05,370.68 506.25,370.69 507.45,370.7 508.65,370.71 509.85,370.71 511.05,370.72 512.25,370.73 513.45,370.73 514.65,370.74 515.85,370.74 517.05,370.75 518.25,370.75 519.45,370.76 520.65,370.76 521.85,370.76 523.05,370.77 524.25,370.77 525.45,370.77 526.65,370.77 527.85,370.78 529.05,370.78 530.25,370.78 531.45,370.78 532.65,370.78 533.85,370.78 535.05,370.79 536.25,370.79 537.45,370.79 538.65,370.79 539.85,370.79 541.05,370.79 542.25,370.79 543.45,370.79 544.65,370.79 545.85,370.79 547.05,370.79 548.25,370.8 549.45,370.8 550.65,370.8 551.85,370.8 553.05,370.8 554.25,370.8 555.45,370.8 556.65,370.8 557.85,370.8 559.05,370.8 560.25,370.8 561.45,370.8 562.65,370.8 563.85,370.8 565.05,370.8 566.25,370.8 567.45,370.8 568.65,370.8 569.85,370.8 571.05,370.8 572.25,370.8 573.45,370.8 574.65,370.8 575.85,370.8 577.05,370.8 578.25,370.8 579.45,370.8 580.65,370.8 581.85,370.8 583.05,370.8 584.25,370.8 585.45,370.8 586.65,370.8 587.85,370.8 589.05,370.8 590.25,370.8 591.45,370.8 592.65,370.8 593.85,370.8 595.05,370.8 596.25,370.8 597.45,370.8 598.65,370.8 599.85,370.8 601.05,370.8 602.25,370.8 603.45,370.8 604.65,370.8 605.85,370.8 607.05,370.8 608.25,370.8 609.45,370.8 610.65,370.8 611.85,370.8 613.05,370.8 614.25,370.8 615.45,370.8 616.65,370.8 617.85,370.8 619.05,370.8 620.25,370.8 621.45,370.8 622.65,370.8 623.85,370.8 625.05,370.8 626.25,370.8 627.45,370.8 628.65,370.8 629.85,370.8 631.05,370.8" fill="none" stroke="#ff1010" stroke-width="0.9" stroke-linejoin="round"/>
<polyline points="427.05,353.79 428.25,354.69 429.45,355.56 430.65,356.4 431.85,357.22 433.05,358.01 434.25,358.78 435.45,359.51 436.65,360.21 437.85,360.88 439.05,361.52 440.25,362.13 441.45,362.71 442.65,363.25 443.85,363.77 445.05,364.25 446.25,364.71 447.45,365.14 448.65,365.55 449.85,365.93 451.05,366.28 452.25,366.61 453.45,366.92 454.65,367.21 455.85,367.48 457.05,367.73 458.25,367.96 459.45,368.18 460.65,368.38 461.85,368.56 463.05,368.73 464.25,368.89 465.45,369.04 466.65,369.18 467.85,369.31 469.05,369.42 470.25,369.53 471.45,369.63 472.65,369.72 473.85,369.81 475.05,369.89 476.25,369.96 477.45,370.02 478.65,370.09 479.85,370.14 481.05,370.2 482.25,370.24 483.45,370.29 484.65,370.33 485.85,370.37 487.05,370.4 488.25,370.43 489.45,370.46 490.65,370.49 491.85,370.51 493.05,370.54 494.25,370.56 495.45,370.58 496.65,370.6 497.85,370.61 499.05,370.63 500.25,370.64 501.45,370.65 502.65,370.67 503.85,370.68 505.05,370.69 506.25,370.7 507.45,370.7 508.65,370.71 509.85,370.72 511.05,370.73 512.25,370.73 513.45,370.74 514.65,370.74 515.85,370.75 517.05,370.75 518.25,370.76 519.45,370.76 520.65,370.76 521.85,370.77 523.05,370.77 524.25,370.77 525.45,370.77 526.65,370.78 527.85,370.78 529.05,370.78 530.25,370.78 531.45,370.78 532.65,370.78 533.85,370.79 535.05,370.79 536.25,370.79 537.45,370.79 538.65,370.79 539.85,370.79 541.05,370.79 542.25,370.79 543.45,370.79 544.65,370.79 545.85,370.79 547.05,370.79 548.25,370.8 549.45,370.8 550.65,370.8 551.85,370.8 553.05,370.8 554.25,370.8 555.45,370.8 556.65,370.8 557.85,370.8 559.05,370.8 560.25,370.8 561.45,370.8 562.65,370.8 563.85,370.8 565.05,370.8 566.25,370.8 567.45,370.8 568.65,370.8 569.85,370.8 571.05,370.8 572.25,370.8 573.45,370.8 574.65,370.8 575.85,370.8 577.05,370.8 578.25,370.8 579.45,370.8 580.65,370.8 581.85,370.8 583.05,370.8 584.25,370.8 585.45,370.8 586.65,370.8 587.85,370.8 589.05,370.8 590.25,370.8 591.45,370.8 592.65,370.8 593.85,370.8 595.05,370.8 596.25,370.8 597.45,370.8 598.65,370.8 599.85,370.8 601.05,370.8 602.25,370.8 603.45,370.8 604.65,370.8 605.85,370.8 607.05,370.8 608.25,370.8 609.45,370.8 610.65,370.8 611.85,370.8 613.05,370.8 614.25,370.8 615.45,370.8 616.65,370.8 617.85,370.8 619.05,370.8 620.25,370.8 621.45,370.8 622.65,370.8 623.85,370.8 625.05,370.8 626.25,370.8 627.45,370.8 628.65,370.8 629.85,370.8 631.05,370.8" fill="none" stroke="#ff1010" stroke-width="0.9" stroke-linejoin="round"/>
<polyline points="427.05,356.12 428.25,356.83 429.45,357.52 430.65,358.21 431.85,358.87 433.05,359.52 434.25,360.15 435.45,360.76 436.65,361.35 437.85,361.92 439.05,362.46 440.25,362.98 441.45,363.48 442.65,363.95 443.85,364.4 445.05,364.83 446.25,365.23 447.45,365.62 448.65,365.98 449.85,366.31 451.05,366.63 452.25,366.93 453.45,367.21 454.65,367.47 455.85,367.72 457.05,367.94 458.25,368.16 459.45,368.35 460.65,368.54 461.85,368.71 463.05,368.87 464.25,369.02 465.45,369.15 466.65,369.28 467.85,369.4 469.05,369.51 470.25,369.61 471.45,369.7 472.65,369.79 473.85,369.87 475.05,369.94 476.25,370.01 477.45,370.07 478.65,370.13 479.85,370.18 481.05,370.23 482.25,370.28 483.45,370.32 484.65,370.36 485.85,370.39 487.05,370.42 488.25,370.45 489.45,370.48 490.65,370.51 491.85,370.53 493.05,370.55 494.25,370.57 495.45,370.59 496.65,370.61 497.85,370.62 499.05,370.64 500.25,370.65 501.45,370.66 502.65,370.67 503.85,370.68 505.05,370.69 506.25,370.7 507.45,370.71 508.65,370.72 509.85,370.72 511.05,370.73 512.25,370.74 513.45,370.74 514.65,370.75 515.85,370.75 517.05,370.75 518.25,370.76 519.45,370.76 520.65,370.76 521.85,370.77 523.05,370.77 524.25,370.77 525.45,370.78 526.65,370.78 527.85,370.78 529.05,370.78 530.25,370.78 531.45,370.78 532.65,370.79 533.85,370.79 535.05,370.79 536.25,370.79 537.45,370.79 538.65,370.79 539.85,370.79 541.05,370.79 542.25,370.79 543.45,370.79 544.65,370.79 545.85,370.79 547.05,370.8 548.25,370.8 549.45,370.8 550.65,370.8 551.85,370.8 553.05,370.8 554.25,370.8 555.45,370.8 556.65,370.8 557.85,370.8 559.05,370.8 560.25,370.8 561.45,370.8 562.65,370.8 563.85,370.8 565.05,370.8 566.25,370.8 567.45,370.8 568.65,370.8 569.85,370.8 571.05,370.8 572.25,370.8 573.45,370.8 574.65,370.8 575.85,370.8 577.05,370.8 578.25,370.8 579.45,370.8 580.65,370.8 581.85,370.8 583.05,370.8 584.25,370.8 585.45,370.8 586.65,370.8 587.85,370.8 589.05,370.8 590.25,370.8 591.45,370.8 592.65,370.8 593.85,370.8 595.05,370.8 596.25,370.8 597.45,370.8 598.65,370.8 599.85,370.8 601.05,370.8 602.25,370.8 603.45,370.8 604.65,370.8 605.85,370.8 607.05,370.8 608.25,370.8 609.45,370.8 610.65,370.8 611.85,370.8 613.05,370.8 614.25,370.8 615.45,370.8 616.65,370.8 617.85,370.8 619.05,370.8 620.25,370.8 621.45,370.8 622.65,370.8 623.85,370.8 625.05,370.8 626.25,370.8 627.45,370.8 628.65,370.8 629.85,370.8 631.05,370.8" fill="none" stroke="#ff1010" stroke-width="0.9" stroke-linejoin="round"/>
<polyline points="427.05,358.45 428.25,359.04 429.45,359.62 430.65,360.19 431.85,360.75 433.05,361.3 434.25,361.82 435.45,362.34 436.65,362.83 437.85,363.31 439.05,363.76 440.25,364.2 441.45,364.62 442.65,365.02 443.85,365.4 445.05,365.76 446.25,366.1 447.45,366.42 448.65,366.72 449.85,367.01 451.05,367.28 452.25,367.53 453.45,367.76 454.65,367.98 455.85,368.19 457.05,368.38 458.25,368.56 459.45,368.73 460.65,368.89 461.85,369.03 463.05,369.17 464.25,369.29 465.45,369.41 466.65,369.51 467.85,369.61 469.05,369.71 470.25,369.79 471.45,369.87 472.65,369.94 473.85,370.01 475.05,370.07 476.25,370.13 477.45,370.18 478.65,370.23 479.85,370.28 481.05,370.32 482.25,370.36 483.45,370.39 484.65,370.42 485.85,370.45 487.05,370.48 488.25,370.51 489.45,370.53 490.65,370.55 491.85,370.57 493.05,370.59 494.25,370.61 495.45,370.62 496.65,370.64 497.85,370.65 499.05,370.66 500.25,370.67 501.45,370.68 502.65,370.69 503.85,370.7 505.05,370.71 506.25,370.72 507.45,370.72 508.65,370.73 509.85,370.74 511.05,370.74 512.25,370.75 513.45,370.75 514.65,370.75 515.85,370.76 517.05,370.76 518.25,370.76 519.45,370.77 520.65,370.77 521.85,370.77 523.05,370.78 524.25,370.78 525.45,370.78 526.65,370.78 527.85,370.78 529.05,370.78 530.25,370.79 531.45,370.79 532.65,370.79 533.85,370.79 535.05,370.79 536.25,370.79 537.45,370.79 538.65,370.79 539.85,370.79 541.05,370.79 542.25,370.79 543.45,370.79 544.65,370.8 545.85,370.8 547.05,370.8 548.25,370.8 549.45,370.8 550.65,370.8 551.85,370.8 553.05,370.8 554.25,370.8 555.45,370.8 556.65,370.8 557.85,370.8 559.05,370.8 560.25,370.8 561.45,370.8 562.65,370.8 563.85,370.8 565.05,370.8 566.25,370.8 567.45,370.8 568.65,370.8 569.85,370.8 571.05,370.8 572.25,370.8 573.45,370.8 574.65,370.8 575.85,370.8 577.05,370.8 578.25,370.8 579.45,370.8 580.65,370.8 581.85,370.8 583.05,370.8 584.25,370.8 585.45,370.8 586.65,370.8 587.85,370.8 589.05,370.8 590.25,370.8 591.45,370.8 592.65,370.8 593.85,370.8 595.05,370.8 596.25,370.8 597.45,370.8 598.65,370.8 599.85,370.8 601.05,370.8 602.25,370.8 603.45,370.8 604.65,370.8 605.85,370.8 607.05,370.8 608.25,370.8 609.45,370.8 610.65,370.8 611.85,370.8 613.05,370.8 614.25,370.8 615.45,370.8 616.65,370.8 617.85,370.8 619.05,370.8 620.25,370.8 621.45,370.8 622.65,370.8 623.85,370.8 625.05,370.8 626.25,370.8 627.45,370.8 628.65,370.8 629.85,370.8 631.05,370.8" fill="none" stroke="#ff1010" stroke-width="0.9" stroke-linejoin="round"/>
<polyline points="427.05,361.71 428.25,362.1 429.45,362.48 430.65,362.85 431.85,363.23 433.05,363.6 434.25,363.96 435.45,364.31 436.65,364.66 437.85,365 439.05,365.32 440.25,365.64 441.45,365.94 442.65,366.24 443.85,366.52 445.05,366.79 446.25,367.04 447.45,367.29 448.65,367.52 449.85,367.74 451.05,367.95 452.25,368.14 453.45,368.33 454.65,368.5 455.85,368.67 457.05,368.82 458.25,368.96 459.45,369.1 460.65,369.22 461.85,369.34 463.05,369.45 464.25,369.55 465.45,369.64 466.65,369.73 467.85,369.81 469.05,369.89 470.25,369.96 471.45,370.02 472.65,370.08 473.85,370.14 475.05,370.19 476.25,370.24 477.45,370.28 478.65,370.32 479.85,370.36 481.05,370.4 482.25,370.43 483.45,370.46 484.65,370.48 485.85,370.51 487.05,370.53 488.25,370.55 489.45,370.57 490.65,370.59 491.85,370.61 493.05,370.62 494.25,370.64 495.45,370.65 496.65,370.66 497.85,370.67 499.05,370.68 500.25,370.69 501.45,370.7 502.65,370.71 503.85,370.72 505.05,370.72 506.25,370.73 507.45,370.74 508.65,370.74 509.85,370.75 511.05,370.75 512.25,370.75 513.45,370.76 514.65,370.76 515.85,370.76 517.05,370.77 518.25,370.77 519.45,370.77 520.65,370.78 521.85,370.78 523.05,370.78 524.25,370.78 525.45,370.78 526.65,370.78 527.85,370.79 529.05,370.79 530.25,370.79 531.45,370.79 532.65,370.79 533.85,370.79 535.05,370.79 536.25,370.79 537.45,370.79 538.65,370.79 539.85,370.79 541.05,370.79 542.25,370.8 543.45,370.8 544.65,370.8 545.85,370.8 547.05,370.8 548.25,370.8 549.45,370.8 550.65,370.8 551.85,370.8 553.05,370.8 554.25,370.8 555.45,370.8 556.65,370.8 557.85,370.8 559.05,370.8 560.25,370.8 561.45,370.8 562.65,370.8 563.85,370.8 565.05,370.8 566.25,370.8 567.45,370.8 568.65,370.8 569.85,370.8 571.05,370.8 572.25,370.8 573.45,370.8 574.65,370.8 575.85,370.8 577.05,370.8 578.25,370.8 579.45,370.8 580.65,370.8 581.85,370.8 583.05,370.8 584.25,370.8 585.45,370.8 586.65,370.8 587.85,370.8 589.05,370.8 590.25,370.8 591.45,370.8 592.65,370.8 593.85,370.8 595.05,370.8 596.25,370.8 597.45,370.8 598.65,370.8 599.85,370.8 601.05,370.8 602.25,370.8 603.45,370.8 604.65,370.8 605.85,370.8 607.05,370.8 608.25,370.8 609.45,370.8 610.65,370.8 611.85,370.8 613.05,370.8 614.25,370.8 615.45,370.8 616.65,370.8 617.85,370.8 619.05,370.8 620.25,370.8 621.45,370.8 622.65,370.8 623.85,370.8 625.05,370.8 626.25,370.8 627.45,370.8 628.65,370.8 629.85,370.8 631.05,370.8" fill="none" stroke="#ff1010" stroke-width="0.9" stroke-linejoin="round"/>
<polyline points="427.05,370.57 631.4,370.8" fill="none" stroke="#ff1010" stroke-width="0.9" stroke-linejoin="round"/>
<circle cx="427.05" cy="238.22" r="2.99" fill="none" stroke="#1a1aff" stroke-width="1.5"/>
<line x1="427.05" y1="241.21" x2="427.05" y2="245.7" stroke="#1a1aff" stroke-width="1.4"/>
<polygon points="424.29,242.59 429.81,242.59 427.05,246.04" fill="#1a1aff"/>
<circle cx="456.14" cy="320.24" r="2.99" fill="none" stroke="#1a1aff" stroke-width="1.5"/>
<line x1="456.14" y1="323.23" x2="456.14" y2="327.72" stroke="#1a1aff" stroke-width="1.4"/>
<polygon points="453.38,324.61 458.9,324.61 456.14,328.06" fill="#1a1aff"/>
<circle cx="485.29" cy="364.98" r="2.99" fill="none" stroke="#1a1aff" stroke-width="1.5"/>
<line x1="485.29" y1="367.97" x2="485.29" y2="372.45" stroke="#1a1aff" stroke-width="1.4"/>
<polygon points="482.53,369.35 488.05,369.35 485.29,372.8" fill="#1a1aff"/>
<circle cx="514.52" cy="369.17" r="4.6" fill="#1a1aff"/>
<circle cx="543.67" cy="370.1" r="4.6" fill="#1a1aff"/>
<circle cx="572.82" cy="370.57" r="4.6" fill="#1a1aff"/>
<circle cx="602" cy="370.57" r="4.6" fill="#1a1aff"/>
<circle cx="427.05" cy="257.8" r="2.99" fill="none" stroke="#1a1aff" stroke-width="1.5"/>
<line x1="427.74" y1="254.92" x2="428.89" y2="250.32" stroke="#1a1aff" stroke-width="1.4"/>
<polygon points="426.36,252.85 430.96,253.66 429.35,248.83" fill="#1a1aff"/>
<circle cx="456.14" cy="343.54" r="2.99" fill="none" stroke="#1a1aff" stroke-width="1.5"/>
<line x1="456.83" y1="340.67" x2="457.98" y2="336.06" stroke="#1a1aff" stroke-width="1.4"/>
<polygon points="455.45,338.6 460.05,339.4 458.44,334.57" fill="#1a1aff"/>
<circle cx="485.29" cy="365.91" r="2.99" fill="none" stroke="#1a1aff" stroke-width="1.5"/>
<line x1="485.98" y1="363.03" x2="487.13" y2="358.43" stroke="#1a1aff" stroke-width="1.4"/>
<polygon points="484.6,360.96 489.2,361.77 487.59,356.94" fill="#1a1aff"/>
<circle cx="514.52" cy="369.64" r="4.6" fill="#1a1aff"/>
<circle cx="543.67" cy="370.1" r="4.6" fill="#1a1aff"/>
<circle cx="572.82" cy="370.57" r="4.6" fill="#1a1aff"/>
<circle cx="602" cy="370.57" r="4.6" fill="#1a1aff"/>
<polygon points="431.65,271.78 429.35,275.76 424.75,275.76 422.45,271.78 424.75,267.79 429.35,267.79" fill="#1a1aff"/>
<polygon points="460.74,335.15 458.44,339.14 453.84,339.14 451.54,335.15 453.84,331.17 458.44,331.17" fill="#1a1aff"/>
<polygon points="489.89,365.91 487.59,369.89 482.99,369.89 480.69,365.91 482.99,361.92 487.59,361.92" fill="#1a1aff"/>
<polygon points="519.12,369.64 516.82,373.62 512.22,373.62 509.92,369.64 512.22,365.65 516.82,365.65" fill="#1a1aff"/>
<polygon points="548.27,370.1 545.97,374.09 541.37,374.09 539.07,370.1 541.37,366.12 545.97,366.12" fill="#1a1aff"/>
<polygon points="577.42,370.57 575.12,374.55 570.52,374.55 568.22,370.57 570.52,366.58 575.12,366.58" fill="#1a1aff"/>
<polygon points="606.6,370.57 604.3,374.55 599.7,374.55 597.4,370.57 599.7,366.58 604.3,366.58" fill="#1a1aff"/>
<polygon points="427.05,277.55 422.36,285.46 431.75,285.46" fill="#1a1aff"/>
<polygon points="456.14,336.73 451.44,344.64 460.84,344.64" fill="#1a1aff"/>
<polygon points="485.29,361.43 480.6,369.34 489.99,369.34" fill="#1a1aff"/>
<polygon points="514.52,364.69 509.82,372.6 519.21,372.6" fill="#1a1aff"/>
<polygon points="543.67,365.16 538.97,373.07 548.37,373.07" fill="#1a1aff"/>
<polygon points="572.82,365.62 568.12,373.53 577.52,373.53" fill="#1a1aff"/>
<polygon points="602,365.62 597.3,373.53 606.7,373.53" fill="#1a1aff"/>
<circle cx="427.05" cy="294.14" r="4.6" fill="#1a1aff"/>
<circle cx="456.14" cy="347.27" r="4.6" fill="#1a1aff"/>
<circle cx="485.29" cy="366.84" r="4.6" fill="#1a1aff"/>
<circle cx="514.52" cy="369.64" r="4.6" fill="#1a1aff"/>
<circle cx="543.67" cy="370.1" r="4.6" fill="#1a1aff"/>
<circle cx="572.82" cy="370.57" r="4.6" fill="#1a1aff"/>
<circle cx="602" cy="370.57" r="4.6" fill="#1a1aff"/>
<rect x="422.91" y="319.36" width="8.28" height="8.28" fill="#1a1aff"/>
<rect x="452" y="351.52" width="8.28" height="8.28" fill="#1a1aff"/>
<rect x="481.15" y="359.44" width="8.28" height="8.28" fill="#1a1aff"/>
<rect x="510.38" y="365.5" width="8.28" height="8.28" fill="#1a1aff"/>
<rect x="539.53" y="365.96" width="8.28" height="8.28" fill="#1a1aff"/>
<rect x="568.68" y="366.43" width="8.28" height="8.28" fill="#1a1aff"/>
<rect x="597.86" y="366.43" width="8.28" height="8.28" fill="#1a1aff"/>
<polygon points="427.05,330.07 428.22,333.08 431.45,333.26 428.94,335.3 429.77,338.42 427.05,336.67 424.34,338.42 425.17,335.3 422.66,333.26 425.89,333.08" fill="#ff1010"/>
<polygon points="456.14,362.22 457.3,365.24 460.53,365.41 458.02,367.45 458.86,370.58 456.14,368.82 453.43,370.58 454.26,367.45 451.75,365.41 454.98,365.24" fill="#ff1010"/>
<polygon points="485.29,365.02 486.46,368.03 489.69,368.21 487.18,370.25 488.01,373.37 485.29,371.62 482.58,373.37 483.41,370.25 480.9,368.21 484.13,368.03" fill="#ff1010"/>
<polygon points="514.52,365.95 515.68,368.97 518.91,369.14 516.4,371.18 517.23,374.31 514.52,372.55 511.8,374.31 512.63,371.18 510.12,369.14 513.35,368.97" fill="#ff1010"/>
<polygon points="543.67,365.95 544.83,368.97 548.06,369.14 545.55,371.18 546.38,374.31 543.67,372.55 540.95,374.31 541.79,371.18 539.28,369.14 542.51,368.97" fill="#ff1010"/>
<polygon points="572.82,365.95 573.99,368.97 577.22,369.14 574.7,371.18 575.54,374.31 572.82,372.55 570.11,374.31 570.94,371.18 568.43,369.14 571.66,368.97" fill="#ff1010"/>
<polygon points="602,365.95 603.16,368.97 606.39,369.14 603.88,371.18 604.72,374.31 602,372.55 599.28,374.31 600.12,371.18 597.61,369.14 600.84,368.97" fill="#ff1010"/>
<polygon points="427.05,346.73 422.56,354.3 431.55,354.3" fill="#ff1010"/>
<polygon points="456.14,363.04 451.65,370.61 460.63,370.61" fill="#ff1010"/>
<polygon points="485.29,365.37 480.8,372.94 489.79,372.94" fill="#ff1010"/>
<polygon points="514.52,365.84 510.02,373.41 519.01,373.41" fill="#ff1010"/>
<polygon points="543.67,365.84 539.18,373.41 548.16,373.41" fill="#ff1010"/>
<polygon points="572.82,365.84 568.33,373.41 577.31,373.41" fill="#ff1010"/>
<polygon points="602,365.84 597.51,373.41 606.49,373.41" fill="#ff1010"/>
<line x1="422.43" y1="353.79" x2="431.67" y2="353.79" stroke="#ff1010" stroke-width="1.6"/>
<line x1="427.05" y1="349.17" x2="427.05" y2="358.41" stroke="#ff1010" stroke-width="1.6"/>
<line x1="451.52" y1="367.31" x2="460.76" y2="367.31" stroke="#ff1010" stroke-width="1.6"/>
<line x1="456.14" y1="362.69" x2="456.14" y2="371.93" stroke="#ff1010" stroke-width="1.6"/>
<line x1="480.67" y1="370.1" x2="489.91" y2="370.1" stroke="#ff1010" stroke-width="1.6"/>
<line x1="485.29" y1="365.48" x2="485.29" y2="374.72" stroke="#ff1010" stroke-width="1.6"/>
<line x1="509.9" y1="370.57" x2="519.14" y2="370.57" stroke="#ff1010" stroke-width="1.6"/>
<line x1="514.52" y1="365.95" x2="514.52" y2="375.19" stroke="#ff1010" stroke-width="1.6"/>
<line x1="539.05" y1="370.57" x2="548.29" y2="370.57" stroke="#ff1010" stroke-width="1.6"/>
<line x1="543.67" y1="365.95" x2="543.67" y2="375.19" stroke="#ff1010" stroke-width="1.6"/>
<line x1="568.2" y1="370.57" x2="577.44" y2="370.57" stroke="#ff1010" stroke-width="1.6"/>
<line x1="572.82" y1="365.95" x2="572.82" y2="375.19" stroke="#ff1010" stroke-width="1.6"/>
<line x1="597.38" y1="370.57" x2="606.62" y2="370.57" stroke="#ff1010" stroke-width="1.6"/>
<line x1="602" y1="365.95" x2="602" y2="375.19" stroke="#ff1010" stroke-width="1.6"/>
<polygon points="427.05,351.28 431.89,356.12 427.05,360.96 422.21,356.12" fill="#ff1010"/>
<polygon points="456.14,361.07 460.98,365.91 456.14,370.75 451.3,365.91" fill="#ff1010"/>
<polygon points="485.29,365.26 490.13,370.1 485.29,374.94 480.45,370.1" fill="#ff1010"/>
<polygon points="514.52,365.73 519.36,370.57 514.52,375.41 509.68,370.57" fill="#ff1010"/>
<polygon points="543.67,365.73 548.51,370.57 543.67,375.41 538.83,370.57" fill="#ff1010"/>
<polygon points="572.82,365.73 577.66,370.57 572.82,375.41 567.98,370.57" fill="#ff1010"/>
<polygon points="602,365.73 606.84,370.57 602,375.41 597.16,370.57" fill="#ff1010"/>
<polygon points="427.05,363.18 422.56,355.61 431.55,355.61" fill="#ff1010"/>
<polygon points="456.14,372.97 451.65,365.4 460.63,365.4" fill="#ff1010"/>
<polygon points="485.29,374.83 480.8,367.26 489.79,367.26" fill="#ff1010"/>
<polygon points="514.52,375.3 510.02,367.73 519.01,367.73" fill="#ff1010"/>
<polygon points="543.67,375.3 539.18,367.73 548.16,367.73" fill="#ff1010"/>
<polygon points="572.82,375.3 568.33,367.73 577.31,367.73" fill="#ff1010"/>
<polygon points="602,375.3 597.51,367.73 606.49,367.73" fill="#ff1010"/>
<rect x="423.09" y="357.75" width="7.92" height="7.92" fill="#ff1010"/>
<rect x="452.18" y="364.74" width="7.92" height="7.92" fill="#ff1010"/>
<rect x="481.33" y="366.14" width="7.92" height="7.92" fill="#ff1010"/>
<rect x="510.56" y="366.61" width="7.92" height="7.92" fill="#ff1010"/>
<rect x="539.71" y="366.61" width="7.92" height="7.92" fill="#ff1010"/>
<rect x="568.86" y="366.61" width="7.92" height="7.92" fill="#ff1010"/>
<rect x="598.04" y="366.61" width="7.92" height="7.92" fill="#ff1010"/>
<circle cx="427.05" cy="370.57" r="4.4" fill="#ff1010"/>
<circle cx="456.14" cy="369.64" r="4.4" fill="#ff1010"/>
<circle cx="485.29" cy="370.1" r="4.4" fill="#ff1010"/>
<circle cx="514.52" cy="370.57" r="4.4" fill="#ff1010"/>
<circle cx="543.67" cy="370.57" r="4.4" fill="#ff1010"/>
<circle cx="572.82" cy="370.57" r="4.4" fill="#ff1010"/>
<circle cx="602" cy="370.57" r="4.4" fill="#ff1010"/>
<text x="525.8" y="238.1" font-size="11.2" fill="#111" textLength="46.4" lengthAdjust="spacingAndGlyphs">DAC(uM)</text>
<text x="575.7" y="238.1" font-size="11.6" fill="#ff1010">Con</text>
<text x="602.9" y="238.1" font-size="11.6" fill="#1a1aff">shp53</text>
<text x="531.9" y="255.1" font-size="11.6" fill="#222">0</text>
<line x1="574.8" y1="248.7" x2="592.4" y2="248.7" stroke="#ff1010" stroke-width="1"/>
<polygon points="583.6,244.08 584.76,247.1 587.99,247.27 585.48,249.31 586.32,252.44 583.6,250.68 580.88,252.44 581.72,249.31 579.21,247.27 582.44,247.1" fill="#ff1010"/>
<line x1="607.3" y1="248.7" x2="624.4" y2="248.7" stroke="#1a1aff" stroke-width="1"/>
<circle cx="615.7" cy="246.4" r="2.86" fill="none" stroke="#1a1aff" stroke-width="1.5"/>
<line x1="615.7" y1="249.26" x2="615.7" y2="253.55" stroke="#1a1aff" stroke-width="1.4"/>
<polygon points="613.06,250.58 618.34,250.58 615.7,253.88" fill="#1a1aff"/>
<text x="531.9" y="268.8" font-size="11.6" fill="#222">0.063</text>
<line x1="574.8" y1="262.7" x2="592.4" y2="262.7" stroke="#ff1010" stroke-width="1"/>
<polygon points="583.6,257.97 579.11,265.54 588.09,265.54" fill="#ff1010"/>
<line x1="607.3" y1="262.7" x2="624.4" y2="262.7" stroke="#1a1aff" stroke-width="1"/>
<circle cx="615.7" cy="265" r="2.86" fill="none" stroke="#1a1aff" stroke-width="1.5"/>
<line x1="616.36" y1="262.25" x2="617.46" y2="257.85" stroke="#1a1aff" stroke-width="1.4"/>
<polygon points="615.04,260.27 619.44,261.04 617.9,256.42" fill="#1a1aff"/>
<text x="531.9" y="283.3" font-size="11.6" fill="#222">0.13</text>
<line x1="574.8" y1="277.2" x2="592.4" y2="277.2" stroke="#ff1010" stroke-width="1"/>
<line x1="578.98" y1="277.2" x2="588.22" y2="277.2" stroke="#ff1010" stroke-width="1.6"/>
<line x1="583.6" y1="272.58" x2="583.6" y2="281.82" stroke="#ff1010" stroke-width="1.6"/>
<line x1="607.3" y1="277.2" x2="624.4" y2="277.2" stroke="#1a1aff" stroke-width="1"/>
<polygon points="620.1,277.2 617.9,281.01 613.5,281.01 611.3,277.2 613.5,273.39 617.9,273.39" fill="#1a1aff"/>
<text x="531.9" y="297.7" font-size="11.6" fill="#222">0.25</text>
<line x1="574.8" y1="291.6" x2="592.4" y2="291.6" stroke="#ff1010" stroke-width="1"/>
<polygon points="583.6,286.76 588.44,291.6 583.6,296.44 578.76,291.6" fill="#ff1010"/>
<line x1="607.3" y1="291.6" x2="624.4" y2="291.6" stroke="#1a1aff" stroke-width="1"/>
<polygon points="615.7,286.87 611.21,294.44 620.19,294.44" fill="#1a1aff"/>
<text x="531.9" y="312" font-size="11.6" fill="#222">0.50</text>
<line x1="574.8" y1="306.5" x2="592.4" y2="306.5" stroke="#ff1010" stroke-width="1"/>
<polygon points="583.6,311.23 579.11,303.66 588.09,303.66" fill="#ff1010"/>
<line x1="607.3" y1="306.5" x2="624.4" y2="306.5" stroke="#1a1aff" stroke-width="1"/>
<circle cx="615.7" cy="306.5" r="4.4" fill="#1a1aff"/>
<text x="531.9" y="326.6" font-size="11.6" fill="#222">1</text>
<line x1="574.8" y1="321" x2="592.4" y2="321" stroke="#ff1010" stroke-width="1"/>
<rect x="579.64" y="317.04" width="7.92" height="7.92" fill="#ff1010"/>
<line x1="607.3" y1="321" x2="624.4" y2="321" stroke="#1a1aff" stroke-width="1"/>
<rect x="611.74" y="317.04" width="7.92" height="7.92" fill="#1a1aff"/>
<text x="-0.6" y="442.6" font-size="17.5" font-weight="bold" fill="#000">C</text>
<text x="149.2" y="454" font-size="12.3" font-weight="bold" text-anchor="middle" fill="#000">Con</text>
<text x="154.8" y="469.2" font-size="11.3" font-weight="bold" text-anchor="middle" fill="#000">Venetoclax</text>
<rect x="30.5" y="475.5" width="239.84" height="88.68" fill="#fff"/>
<rect x="60.48" y="490.28" width="29.98" height="14.78" fill="rgb(79,67,232)"/>
<rect x="90.46" y="490.28" width="29.98" height="14.78" fill="rgb(74,61,233)"/>
<rect x="120.44" y="490.28" width="29.98" height="14.78" fill="rgb(72,59,234)"/>
<rect x="150.42" y="490.28" width="29.98" height="14.78" fill="rgb(84,73,231)"/>
<rect x="180.4" y="490.28" width="29.98" height="14.78" fill="rgb(100,90,228)"/>
<rect x="210.38" y="490.28" width="29.98" height="14.78" fill="rgb(131,124,223)"/>
<rect x="240.36" y="490.28" width="29.98" height="14.78" fill="rgb(204,204,206)"/>
<rect x="60.48" y="505.06" width="29.98" height="14.78" fill="rgb(95,84,229)"/>
<rect x="90.46" y="505.06" width="29.98" height="14.78" fill="rgb(80,68,232)"/>
<rect x="120.44" y="505.06" width="29.98" height="14.78" fill="rgb(76,64,233)"/>
<rect x="150.42" y="505.06" width="29.98" height="14.78" fill="rgb(90,78,230)"/>
<rect x="180.4" y="505.06" width="29.98" height="14.78" fill="rgb(143,137,221)"/>
<rect x="210.38" y="505.06" width="29.98" height="14.78" fill="rgb(153,148,219)"/>
<rect x="240.36" y="505.06" width="29.98" height="14.78" fill="rgb(204,204,206)"/>
<rect x="60.48" y="519.84" width="29.98" height="14.78" fill="rgb(137,130,222)"/>
<rect x="90.46" y="519.84" width="29.98" height="14.78" fill="rgb(88,77,231)"/>
<rect x="120.44" y="519.84" width="29.98" height="14.78" fill="rgb(92,81,230)"/>
<rect x="150.42" y="519.84" width="29.98" height="14.78" fill="rgb(86,74,231)"/>
<rect x="180.4" y="519.84" width="29.98" height="14.78" fill="rgb(124,117,224)"/>
<rect x="210.38" y="519.84" width="29.98" height="14.78" fill="rgb(201,201,210)"/>
<rect x="240.36" y="519.84" width="29.98" height="14.78" fill="rgb(204,204,206)"/>
<rect x="60.48" y="534.62" width="29.98" height="14.78" fill="rgb(197,196,211)"/>
<rect x="90.46" y="534.62" width="29.98" height="14.78" fill="rgb(106,96,227)"/>
<rect x="120.44" y="534.62" width="29.98" height="14.78" fill="rgb(96,86,229)"/>
<rect x="150.42" y="534.62" width="29.98" height="14.78" fill="rgb(88,77,231)"/>
<rect x="180.4" y="534.62" width="29.98" height="14.78" fill="rgb(153,148,219)"/>
<rect x="210.38" y="534.62" width="29.98" height="14.78" fill="rgb(175,173,215)"/>
<rect x="240.36" y="534.62" width="29.98" height="14.78" fill="rgb(204,204,206)"/>
<rect x="60.48" y="549.4" width="29.98" height="14.78" fill="rgb(204,204,206)"/>
<rect x="90.46" y="549.4" width="29.98" height="14.78" fill="rgb(138,131,222)"/>
<rect x="120.44" y="549.4" width="29.98" height="14.78" fill="rgb(112,103,226)"/>
<rect x="150.42" y="549.4" width="29.98" height="14.78" fill="rgb(114,105,226)"/>
<rect x="180.4" y="549.4" width="29.98" height="14.78" fill="rgb(108,99,227)"/>
<rect x="210.38" y="549.4" width="29.98" height="14.78" fill="rgb(175,173,215)"/>
<rect x="240.36" y="549.4" width="29.98" height="14.78" fill="rgb(204,204,206)"/>
<line x1="30.5" y1="475.5" x2="270.34" y2="475.5" stroke="#1a1a1a" stroke-width="1"/>
<line x1="30.5" y1="490.28" x2="270.34" y2="490.28" stroke="#1a1a1a" stroke-width="1"/>
<line x1="30.5" y1="505.06" x2="270.34" y2="505.06" stroke="#1a1a1a" stroke-width="1"/>
<line x1="30.5" y1="519.84" x2="270.34" y2="519.84" stroke="#1a1a1a" stroke-width="1"/>
<line x1="30.5" y1="534.62" x2="270.34" y2="534.62" stroke="#1a1a1a" stroke-width="1"/>
<line x1="30.5" y1="549.4" x2="270.34" y2="549.4" stroke="#1a1a1a" stroke-width="1"/>
<line x1="30.5" y1="564.18" x2="270.34" y2="564.18" stroke="#1a1a1a" stroke-width="1"/>
<line x1="30.5" y1="475.5" x2="30.5" y2="564.18" stroke="#1a1a1a" stroke-width="1"/>
<line x1="60.48" y1="475.5" x2="60.48" y2="564.18" stroke="#1a1a1a" stroke-width="1"/>
<line x1="90.46" y1="475.5" x2="90.46" y2="564.18" stroke="#1a1a1a" stroke-width="1"/>
<line x1="120.44" y1="475.5" x2="120.44" y2="564.18" stroke="#1a1a1a" stroke-width="1"/>
<line x1="150.42" y1="475.5" x2="150.42" y2="564.18" stroke="#1a1a1a" stroke-width="1"/>
<line x1="180.4" y1="475.5" x2="180.4" y2="564.18" stroke="#1a1a1a" stroke-width="1"/>
<line x1="210.38" y1="475.5" x2="210.38" y2="564.18" stroke="#1a1a1a" stroke-width="1"/>
<line x1="240.36" y1="475.5" x2="240.36" y2="564.18" stroke="#1a1a1a" stroke-width="1"/>
<line x1="270.34" y1="475.5" x2="270.34" y2="564.18" stroke="#1a1a1a" stroke-width="1"/>
<text x="45.49" y="486.19" font-size="9.1" font-weight="bold" text-anchor="middle" fill="#000">uM</text>
<text x="75.47" y="486.19" font-size="9.1" font-weight="bold" text-anchor="middle" fill="#000">0.014</text>
<text x="105.45" y="486.19" font-size="9.1" font-weight="bold" text-anchor="middle" fill="#000">0.041</text>
<text x="135.43" y="486.19" font-size="9.1" font-weight="bold" text-anchor="middle" fill="#000">0.12</text>
<text x="165.41" y="486.19" font-size="9.1" font-weight="bold" text-anchor="middle" fill="#000">0.37</text>
<text x="195.39" y="486.19" font-size="9.1" font-weight="bold" text-anchor="middle" fill="#000">1.1</text>
<text x="225.37" y="486.19" font-size="9.1" font-weight="bold" text-anchor="middle" fill="#000">3.3</text>
<text x="255.35" y="486.19" font-size="9.1" font-weight="bold" text-anchor="middle" fill="#000">10</text>
<text x="31.7" y="500.97" font-size="9.1" font-weight="bold" fill="#000">1</text>
<text x="75.47" y="500.97" font-size="9.2" text-anchor="middle" fill="#0a0a0a">0.13</text>
<text x="105.45" y="500.97" font-size="9.2" text-anchor="middle" fill="#0a0a0a">0.09</text>
<text x="135.43" y="500.97" font-size="9.2" text-anchor="middle" fill="#0a0a0a">0.08</text>
<text x="165.41" y="500.97" font-size="9.2" text-anchor="middle" fill="#0a0a0a">0.17</text>
<text x="195.39" y="500.97" font-size="9.2" text-anchor="middle" fill="#0a0a0a">0.29</text>
<text x="225.37" y="500.97" font-size="9.2" text-anchor="middle" fill="#0a0a0a">0.52</text>
<text x="255.35" y="500.97" font-size="9.2" text-anchor="middle" fill="#0a0a0a">1.56</text>
<text x="31.7" y="515.75" font-size="9.1" font-weight="bold" fill="#000">0.5</text>
<text x="75.47" y="515.75" font-size="9.2" text-anchor="middle" fill="#0a0a0a">0.25</text>
<text x="105.45" y="515.75" font-size="9.2" text-anchor="middle" fill="#0a0a0a">0.14</text>
<text x="135.43" y="515.75" font-size="9.2" text-anchor="middle" fill="#0a0a0a">0.11</text>
<text x="165.41" y="515.75" font-size="9.2" text-anchor="middle" fill="#0a0a0a">0.21</text>
<text x="195.39" y="515.75" font-size="9.2" text-anchor="middle" fill="#0a0a0a">0.61</text>
<text x="225.37" y="515.75" font-size="9.2" text-anchor="middle" fill="#0a0a0a">0.68</text>
<text x="255.35" y="515.75" font-size="9.2" text-anchor="middle" fill="#0a0a0a">1.55</text>
<text x="31.7" y="530.53" font-size="9.1" font-weight="bold" fill="#000">0.25</text>
<text x="75.47" y="530.53" font-size="9.2" text-anchor="middle" fill="#0a0a0a">0.56</text>
<text x="105.45" y="530.53" font-size="9.2" text-anchor="middle" fill="#0a0a0a">0.20</text>
<text x="135.43" y="530.53" font-size="9.2" text-anchor="middle" fill="#0a0a0a">0.23</text>
<text x="165.41" y="530.53" font-size="9.2" text-anchor="middle" fill="#0a0a0a">0.18</text>
<text x="195.39" y="530.53" font-size="9.2" text-anchor="middle" fill="#0a0a0a">0.47</text>
<text x="225.37" y="530.53" font-size="9.2" text-anchor="middle" fill="#0a0a0a">1.04</text>
<text x="255.35" y="530.53" font-size="9.2" text-anchor="middle" fill="#0a0a0a">2.05</text>
<text x="31.7" y="545.31" font-size="9.1" font-weight="bold" fill="#000">0.13</text>
<text x="75.47" y="545.31" font-size="9.2" text-anchor="middle" fill="#0a0a0a">1.01</text>
<text x="105.45" y="545.31" font-size="9.2" text-anchor="middle" fill="#0a0a0a">0.33</text>
<text x="135.43" y="545.31" font-size="9.2" text-anchor="middle" fill="#0a0a0a">0.26</text>
<text x="165.41" y="545.31" font-size="9.2" text-anchor="middle" fill="#0a0a0a">0.20</text>
<text x="195.39" y="545.31" font-size="9.2" text-anchor="middle" fill="#0a0a0a">0.68</text>
<text x="225.37" y="545.31" font-size="9.2" text-anchor="middle" fill="#0a0a0a">0.85</text>
<text x="255.35" y="545.31" font-size="9.2" text-anchor="middle" fill="#0a0a0a">3.13</text>
<text x="31.7" y="560.09" font-size="9.1" font-weight="bold" fill="#000">0.063</text>
<text x="75.47" y="560.09" font-size="9.2" text-anchor="middle" fill="#0a0a0a">1.25</text>
<text x="105.45" y="560.09" font-size="9.2" text-anchor="middle" fill="#0a0a0a">0.57</text>
<text x="135.43" y="560.09" font-size="9.2" text-anchor="middle" fill="#0a0a0a">0.38</text>
<text x="165.41" y="560.09" font-size="9.2" text-anchor="middle" fill="#0a0a0a">0.39</text>
<text x="195.39" y="560.09" font-size="9.2" text-anchor="middle" fill="#0a0a0a">0.35</text>
<text x="225.37" y="560.09" font-size="9.2" text-anchor="middle" fill="#0a0a0a">0.85</text>
<text x="255.35" y="560.09" font-size="9.2" text-anchor="middle" fill="#0a0a0a">2.05</text>
<rect x="30.6" y="578.7" width="239.84" height="88.2" fill="#fff"/>
<rect x="60.58" y="593.4" width="29.98" height="14.7" fill="rgb(150,145,219)"/>
<rect x="90.56" y="593.4" width="29.98" height="14.7" fill="rgb(100,90,228)"/>
<rect x="120.54" y="593.4" width="29.98" height="14.7" fill="rgb(88,77,231)"/>
<rect x="150.52" y="593.4" width="29.98" height="14.7" fill="rgb(116,108,225)"/>
<rect x="180.5" y="593.4" width="29.98" height="14.7" fill="rgb(153,148,219)"/>
<rect x="210.48" y="593.4" width="29.98" height="14.7" fill="rgb(193,192,211)"/>
<rect x="240.46" y="593.4" width="29.98" height="14.7" fill="rgb(204,204,206)"/>
<rect x="60.58" y="608.1" width="29.98" height="14.7" fill="rgb(187,186,212)"/>
<rect x="90.56" y="608.1" width="29.98" height="14.7" fill="rgb(114,105,226)"/>
<rect x="120.54" y="608.1" width="29.98" height="14.7" fill="rgb(108,99,227)"/>
<rect x="150.52" y="608.1" width="29.98" height="14.7" fill="rgb(145,139,220)"/>
<rect x="180.5" y="608.1" width="29.98" height="14.7" fill="rgb(142,136,221)"/>
<rect x="210.48" y="608.1" width="29.98" height="14.7" fill="rgb(204,204,206)"/>
<rect x="240.46" y="608.1" width="29.98" height="14.7" fill="rgb(204,204,206)"/>
<rect x="60.58" y="622.8" width="29.98" height="14.7" fill="rgb(204,204,206)"/>
<rect x="90.56" y="622.8" width="29.98" height="14.7" fill="rgb(181,178,214)"/>
<rect x="120.54" y="622.8" width="29.98" height="14.7" fill="rgb(108,99,227)"/>
<rect x="150.52" y="622.8" width="29.98" height="14.7" fill="rgb(123,115,224)"/>
<rect x="180.5" y="622.8" width="29.98" height="14.7" fill="rgb(153,148,219)"/>
<rect x="210.48" y="622.8" width="29.98" height="14.7" fill="rgb(193,192,211)"/>
<rect x="240.46" y="622.8" width="29.98" height="14.7" fill="rgb(204,204,206)"/>
<rect x="60.58" y="637.5" width="29.98" height="14.7" fill="rgb(204,204,206)"/>
<rect x="90.56" y="637.5" width="29.98" height="14.7" fill="rgb(149,143,220)"/>
<rect x="120.54" y="637.5" width="29.98" height="14.7" fill="rgb(123,115,224)"/>
<rect x="150.52" y="637.5" width="29.98" height="14.7" fill="rgb(170,167,216)"/>
<rect x="180.5" y="637.5" width="29.98" height="14.7" fill="rgb(204,204,206)"/>
<rect x="210.48" y="637.5" width="29.98" height="14.7" fill="rgb(204,204,206)"/>
<rect x="240.46" y="637.5" width="29.98" height="14.7" fill="rgb(204,204,206)"/>
<rect x="60.58" y="652.2" width="29.98" height="14.7" fill="rgb(204,204,206)"/>
<rect x="90.56" y="652.2" width="29.98" height="14.7" fill="rgb(155,151,218)"/>
<rect x="120.54" y="652.2" width="29.98" height="14.7" fill="rgb(124,117,224)"/>
<rect x="150.52" y="652.2" width="29.98" height="14.7" fill="rgb(127,120,223)"/>
<rect x="180.5" y="652.2" width="29.98" height="14.7" fill="rgb(204,204,206)"/>
<rect x="210.48" y="652.2" width="29.98" height="14.7" fill="rgb(204,204,206)"/>
<rect x="240.46" y="652.2" width="29.98" height="14.7" fill="rgb(169,165,216)"/>
<line x1="30.6" y1="578.7" x2="270.44" y2="578.7" stroke="#1a1a1a" stroke-width="1"/>
<line x1="30.6" y1="593.4" x2="270.44" y2="593.4" stroke="#1a1a1a" stroke-width="1"/>
<line x1="30.6" y1="608.1" x2="270.44" y2="608.1" stroke="#1a1a1a" stroke-width="1"/>
<line x1="30.6" y1="622.8" x2="270.44" y2="622.8" stroke="#1a1a1a" stroke-width="1"/>
<line x1="30.6" y1="637.5" x2="270.44" y2="637.5" stroke="#1a1a1a" stroke-width="1"/>
<line x1="30.6" y1="652.2" x2="270.44" y2="652.2" stroke="#1a1a1a" stroke-width="1"/>
<line x1="30.6" y1="666.9" x2="270.44" y2="666.9" stroke="#1a1a1a" stroke-width="1"/>
<line x1="30.6" y1="578.7" x2="30.6" y2="666.9" stroke="#1a1a1a" stroke-width="1"/>
<line x1="60.58" y1="578.7" x2="60.58" y2="666.9" stroke="#1a1a1a" stroke-width="1"/>
<line x1="90.56" y1="578.7" x2="90.56" y2="666.9" stroke="#1a1a1a" stroke-width="1"/>
<line x1="120.54" y1="578.7" x2="120.54" y2="666.9" stroke="#1a1a1a" stroke-width="1"/>
<line x1="150.52" y1="578.7" x2="150.52" y2="666.9" stroke="#1a1a1a" stroke-width="1"/>
<line x1="180.5" y1="578.7" x2="180.5" y2="666.9" stroke="#1a1a1a" stroke-width="1"/>
<line x1="210.48" y1="578.7" x2="210.48" y2="666.9" stroke="#1a1a1a" stroke-width="1"/>
<line x1="240.46" y1="578.7" x2="240.46" y2="666.9" stroke="#1a1a1a" stroke-width="1"/>
<line x1="270.44" y1="578.7" x2="270.44" y2="666.9" stroke="#1a1a1a" stroke-width="1"/>
<text x="45.59" y="589.35" font-size="9.1" font-weight="bold" text-anchor="middle" fill="#000">uM</text>
<text x="75.57" y="589.35" font-size="9.1" font-weight="bold" text-anchor="middle" fill="#000">0.014</text>
<text x="105.55" y="589.35" font-size="9.1" font-weight="bold" text-anchor="middle" fill="#000">0.041</text>
<text x="135.53" y="589.35" font-size="9.1" font-weight="bold" text-anchor="middle" fill="#000">0.12</text>
<text x="165.51" y="589.35" font-size="9.1" font-weight="bold" text-anchor="middle" fill="#000">0.37</text>
<text x="195.49" y="589.35" font-size="9.1" font-weight="bold" text-anchor="middle" fill="#000">1.1</text>
<text x="225.47" y="589.35" font-size="9.1" font-weight="bold" text-anchor="middle" fill="#000">3.3</text>
<text x="255.45" y="589.35" font-size="9.1" font-weight="bold" text-anchor="middle" fill="#000">10</text>
<text x="31.8" y="604.05" font-size="9.1" font-weight="bold" fill="#000">1</text>
<text x="75.57" y="604.05" font-size="9.2" text-anchor="middle" fill="#0a0a0a">0.66</text>
<text x="105.55" y="604.05" font-size="9.2" text-anchor="middle" fill="#0a0a0a">0.29</text>
<text x="135.53" y="604.05" font-size="9.2" text-anchor="middle" fill="#0a0a0a">0.20</text>
<text x="165.51" y="604.05" font-size="9.2" text-anchor="middle" fill="#0a0a0a">0.41</text>
<text x="195.49" y="604.05" font-size="9.2" text-anchor="middle" fill="#0a0a0a">0.68</text>
<text x="225.47" y="604.05" font-size="9.2" text-anchor="middle" fill="#0a0a0a">0.98</text>
<text x="255.45" y="604.05" font-size="9.2" text-anchor="middle" fill="#0a0a0a">2.98</text>
<text x="31.8" y="618.75" font-size="9.1" font-weight="bold" fill="#000">0.5</text>
<text x="75.57" y="618.75" font-size="9.2" text-anchor="middle" fill="#0a0a0a">0.94</text>
<text x="105.55" y="618.75" font-size="9.2" text-anchor="middle" fill="#0a0a0a">0.39</text>
<text x="135.53" y="618.75" font-size="9.2" text-anchor="middle" fill="#0a0a0a">0.35</text>
<text x="165.51" y="618.75" font-size="9.2" text-anchor="middle" fill="#0a0a0a">0.62</text>
<text x="195.49" y="618.75" font-size="9.2" text-anchor="middle" fill="#0a0a0a">0.60</text>
<text x="225.47" y="618.75" font-size="9.2" text-anchor="middle" fill="#0a0a0a">1.18</text>
<text x="255.45" y="618.75" font-size="9.2" text-anchor="middle" fill="#0a0a0a">3.59</text>
<text x="31.8" y="633.45" font-size="9.1" font-weight="bold" fill="#000">0.25</text>
<text x="75.57" y="633.45" font-size="9.2" text-anchor="middle" fill="#0a0a0a">1.27</text>
<text x="105.55" y="633.45" font-size="9.2" text-anchor="middle" fill="#0a0a0a">0.89</text>
<text x="135.53" y="633.45" font-size="9.2" text-anchor="middle" fill="#0a0a0a">0.35</text>
<text x="165.51" y="633.45" font-size="9.2" text-anchor="middle" fill="#0a0a0a">0.46</text>
<text x="195.49" y="633.45" font-size="9.2" text-anchor="middle" fill="#0a0a0a">0.68</text>
<text x="225.47" y="633.45" font-size="9.2" text-anchor="middle" fill="#0a0a0a">0.98</text>
<text x="255.45" y="633.45" font-size="9.2" text-anchor="middle" fill="#0a0a0a">3.59</text>
<text x="31.8" y="648.15" font-size="9.1" font-weight="bold" fill="#000">0.13</text>
<text x="75.57" y="648.15" font-size="9.2" text-anchor="middle" fill="#0a0a0a">1.72</text>
<text x="105.55" y="648.15" font-size="9.2" text-anchor="middle" fill="#0a0a0a">0.65</text>
<text x="135.53" y="648.15" font-size="9.2" text-anchor="middle" fill="#0a0a0a">0.46</text>
<text x="165.51" y="648.15" font-size="9.2" text-anchor="middle" fill="#0a0a0a">0.81</text>
<text x="195.49" y="648.15" font-size="9.2" text-anchor="middle" fill="#0a0a0a">1.14</text>
<text x="225.47" y="648.15" font-size="9.2" text-anchor="middle" fill="#0a0a0a">1.81</text>
<text x="255.45" y="648.15" font-size="9.2" text-anchor="middle" fill="#0a0a0a">5.49</text>
<text x="31.8" y="662.85" font-size="9.1" font-weight="bold" fill="#000">0.063</text>
<text x="75.57" y="662.85" font-size="9.2" text-anchor="middle" fill="#0a0a0a">1.75</text>
<text x="105.55" y="662.85" font-size="9.2" text-anchor="middle" fill="#0a0a0a">0.70</text>
<text x="135.53" y="662.85" font-size="9.2" text-anchor="middle" fill="#0a0a0a">0.47</text>
<text x="165.51" y="662.85" font-size="9.2" text-anchor="middle" fill="#0a0a0a">0.49</text>
<text x="195.49" y="662.85" font-size="9.2" text-anchor="middle" fill="#0a0a0a">1.30</text>
<text x="225.47" y="662.85" font-size="9.2" text-anchor="middle" fill="#0a0a0a">1.39</text>
<text x="255.45" y="662.85" font-size="9.2" text-anchor="middle" fill="#0a0a0a">0.80</text>
<text x="153.3" y="697.8" font-size="12.7" font-weight="bold" text-anchor="middle" fill="#000">shp53</text>
<text x="155" y="712.7" font-size="11.3" font-weight="bold" text-anchor="middle" fill="#000">Venetoclax</text>
<rect x="31.3" y="720.1" width="240.56" height="89.1" fill="#fff"/>
<rect x="61.37" y="734.95" width="30.07" height="14.85" fill="rgb(94,83,230)"/>
<rect x="91.44" y="734.95" width="30.07" height="14.85" fill="rgb(82,70,232)"/>
<rect x="121.51" y="734.95" width="30.07" height="14.85" fill="rgb(78,65,233)"/>
<rect x="151.58" y="734.95" width="30.07" height="14.85" fill="rgb(84,73,231)"/>
<rect x="181.65" y="734.95" width="30.07" height="14.85" fill="rgb(107,98,227)"/>
<rect x="211.72" y="734.95" width="30.07" height="14.85" fill="rgb(150,145,219)"/>
<rect x="241.79" y="734.95" width="30.07" height="14.85" fill="rgb(204,204,206)"/>
<rect x="61.37" y="749.8" width="30.07" height="14.85" fill="rgb(103,93,228)"/>
<rect x="91.44" y="749.8" width="30.07" height="14.85" fill="rgb(94,83,230)"/>
<rect x="121.51" y="749.8" width="30.07" height="14.85" fill="rgb(92,81,230)"/>
<rect x="151.58" y="749.8" width="30.07" height="14.85" fill="rgb(103,93,228)"/>
<rect x="181.65" y="749.8" width="30.07" height="14.85" fill="rgb(134,127,222)"/>
<rect x="211.72" y="749.8" width="30.07" height="14.85" fill="rgb(171,168,215)"/>
<rect x="241.79" y="749.8" width="30.07" height="14.85" fill="rgb(204,204,206)"/>
<rect x="61.37" y="764.65" width="30.07" height="14.85" fill="rgb(119,111,225)"/>
<rect x="91.44" y="764.65" width="30.07" height="14.85" fill="rgb(115,106,226)"/>
<rect x="121.51" y="764.65" width="30.07" height="14.85" fill="rgb(111,102,226)"/>
<rect x="151.58" y="764.65" width="30.07" height="14.85" fill="rgb(112,103,226)"/>
<rect x="181.65" y="764.65" width="30.07" height="14.85" fill="rgb(146,140,220)"/>
<rect x="211.72" y="764.65" width="30.07" height="14.85" fill="rgb(178,176,214)"/>
<rect x="241.79" y="764.65" width="30.07" height="14.85" fill="rgb(204,204,206)"/>
<rect x="61.37" y="779.5" width="30.07" height="14.85" fill="rgb(131,124,223)"/>
<rect x="91.44" y="779.5" width="30.07" height="14.85" fill="rgb(139,133,221)"/>
<rect x="121.51" y="779.5" width="30.07" height="14.85" fill="rgb(131,124,223)"/>
<rect x="151.58" y="779.5" width="30.07" height="14.85" fill="rgb(147,142,220)"/>
<rect x="181.65" y="779.5" width="30.07" height="14.85" fill="rgb(131,124,223)"/>
<rect x="211.72" y="779.5" width="30.07" height="14.85" fill="rgb(204,204,206)"/>
<rect x="241.79" y="779.5" width="30.07" height="14.85" fill="rgb(204,204,206)"/>
<rect x="61.37" y="794.35" width="30.07" height="14.85" fill="rgb(134,127,222)"/>
<rect x="91.44" y="794.35" width="30.07" height="14.85" fill="rgb(137,130,222)"/>
<rect x="121.51" y="794.35" width="30.07" height="14.85" fill="rgb(131,124,223)"/>
<rect x="151.58" y="794.35" width="30.07" height="14.85" fill="rgb(131,124,223)"/>
<rect x="181.65" y="794.35" width="30.07" height="14.85" fill="rgb(150,145,219)"/>
<rect x="211.72" y="794.35" width="30.07" height="14.85" fill="rgb(204,204,206)"/>
<rect x="241.79" y="794.35" width="30.07" height="14.85" fill="rgb(204,204,206)"/>
<line x1="31.3" y1="720.1" x2="271.86" y2="720.1" stroke="#1a1a1a" stroke-width="1"/>
<line x1="31.3" y1="734.95" x2="271.86" y2="734.95" stroke="#1a1a1a" stroke-width="1"/>
<line x1="31.3" y1="749.8" x2="271.86" y2="749.8" stroke="#1a1a1a" stroke-width="1"/>
<line x1="31.3" y1="764.65" x2="271.86" y2="764.65" stroke="#1a1a1a" stroke-width="1"/>
<line x1="31.3" y1="779.5" x2="271.86" y2="779.5" stroke="#1a1a1a" stroke-width="1"/>
<line x1="31.3" y1="794.35" x2="271.86" y2="794.35" stroke="#1a1a1a" stroke-width="1"/>
<line x1="31.3" y1="809.2" x2="271.86" y2="809.2" stroke="#1a1a1a" stroke-width="1"/>
<line x1="31.3" y1="720.1" x2="31.3" y2="809.2" stroke="#1a1a1a" stroke-width="1"/>
<line x1="61.37" y1="720.1" x2="61.37" y2="809.2" stroke="#1a1a1a" stroke-width="1"/>
<line x1="91.44" y1="720.1" x2="91.44" y2="809.2" stroke="#1a1a1a" stroke-width="1"/>
<line x1="121.51" y1="720.1" x2="121.51" y2="809.2" stroke="#1a1a1a" stroke-width="1"/>
<line x1="151.58" y1="720.1" x2="151.58" y2="809.2" stroke="#1a1a1a" stroke-width="1"/>
<line x1="181.65" y1="720.1" x2="181.65" y2="809.2" stroke="#1a1a1a" stroke-width="1"/>
<line x1="211.72" y1="720.1" x2="211.72" y2="809.2" stroke="#1a1a1a" stroke-width="1"/>
<line x1="241.79" y1="720.1" x2="241.79" y2="809.2" stroke="#1a1a1a" stroke-width="1"/>
<line x1="271.86" y1="720.1" x2="271.86" y2="809.2" stroke="#1a1a1a" stroke-width="1"/>
<text x="46.34" y="730.82" font-size="9.1" font-weight="bold" text-anchor="middle" fill="#000">uM</text>
<text x="76.41" y="730.82" font-size="9.1" font-weight="bold" text-anchor="middle" fill="#000">0.014</text>
<text x="106.47" y="730.82" font-size="9.1" font-weight="bold" text-anchor="middle" fill="#000">0.041</text>
<text x="136.55" y="730.82" font-size="9.1" font-weight="bold" text-anchor="middle" fill="#000">0.12</text>
<text x="166.62" y="730.82" font-size="9.1" font-weight="bold" text-anchor="middle" fill="#000">0.37</text>
<text x="196.69" y="730.82" font-size="9.1" font-weight="bold" text-anchor="middle" fill="#000">1.1</text>
<text x="226.76" y="730.82" font-size="9.1" font-weight="bold" text-anchor="middle" fill="#000">3.3</text>
<text x="256.82" y="730.82" font-size="9.1" font-weight="bold" text-anchor="middle" fill="#000">10</text>
<text x="32.5" y="745.67" font-size="9.1" font-weight="bold" fill="#000">1</text>
<text x="76.41" y="745.67" font-size="9.2" text-anchor="middle" fill="#0a0a0a">0.24</text>
<text x="106.47" y="745.67" font-size="9.2" text-anchor="middle" fill="#0a0a0a">0.15</text>
<text x="136.55" y="745.67" font-size="9.2" text-anchor="middle" fill="#0a0a0a">0.12</text>
<text x="166.62" y="745.67" font-size="9.2" text-anchor="middle" fill="#0a0a0a">0.17</text>
<text x="196.69" y="745.67" font-size="9.2" text-anchor="middle" fill="#0a0a0a">0.34</text>
<text x="226.76" y="745.67" font-size="9.2" text-anchor="middle" fill="#0a0a0a">0.66</text>
<text x="256.82" y="745.67" font-size="9.2" text-anchor="middle" fill="#0a0a0a">1.65</text>
<text x="32.5" y="760.52" font-size="9.1" font-weight="bold" fill="#000">0.5</text>
<text x="76.41" y="760.52" font-size="9.2" text-anchor="middle" fill="#0a0a0a">0.31</text>
<text x="106.47" y="760.52" font-size="9.2" text-anchor="middle" fill="#0a0a0a">0.24</text>
<text x="136.55" y="760.52" font-size="9.2" text-anchor="middle" fill="#0a0a0a">0.23</text>
<text x="166.62" y="760.52" font-size="9.2" text-anchor="middle" fill="#0a0a0a">0.31</text>
<text x="196.69" y="760.52" font-size="9.2" text-anchor="middle" fill="#0a0a0a">0.54</text>
<text x="226.76" y="760.52" font-size="9.2" text-anchor="middle" fill="#0a0a0a">0.82</text>
<text x="256.82" y="760.52" font-size="9.2" text-anchor="middle" fill="#0a0a0a">1.28</text>
<text x="32.5" y="775.38" font-size="9.1" font-weight="bold" fill="#000">0.25</text>
<text x="76.41" y="775.38" font-size="9.2" text-anchor="middle" fill="#0a0a0a">0.43</text>
<text x="106.47" y="775.38" font-size="9.2" text-anchor="middle" fill="#0a0a0a">0.40</text>
<text x="136.55" y="775.38" font-size="9.2" text-anchor="middle" fill="#0a0a0a">0.37</text>
<text x="166.62" y="775.38" font-size="9.2" text-anchor="middle" fill="#0a0a0a">0.38</text>
<text x="196.69" y="775.38" font-size="9.2" text-anchor="middle" fill="#0a0a0a">0.63</text>
<text x="226.76" y="775.38" font-size="9.2" text-anchor="middle" fill="#0a0a0a">0.87</text>
<text x="256.82" y="775.38" font-size="9.2" text-anchor="middle" fill="#0a0a0a">1.65</text>
<text x="32.5" y="790.23" font-size="9.1" font-weight="bold" fill="#000">0.13</text>
<text x="76.41" y="790.23" font-size="9.2" text-anchor="middle" fill="#0a0a0a">0.52</text>
<text x="106.47" y="790.23" font-size="9.2" text-anchor="middle" fill="#0a0a0a">0.58</text>
<text x="136.55" y="790.23" font-size="9.2" text-anchor="middle" fill="#0a0a0a">0.52</text>
<text x="166.62" y="790.23" font-size="9.2" text-anchor="middle" fill="#0a0a0a">0.64</text>
<text x="196.69" y="790.23" font-size="9.2" text-anchor="middle" fill="#0a0a0a">0.52</text>
<text x="226.76" y="790.23" font-size="9.2" text-anchor="middle" fill="#0a0a0a">1.17</text>
<text x="256.82" y="790.23" font-size="9.2" text-anchor="middle" fill="#0a0a0a">2.65</text>
<text x="32.5" y="805.07" font-size="9.1" font-weight="bold" fill="#000">0.063</text>
<text x="76.41" y="805.07" font-size="9.2" text-anchor="middle" fill="#0a0a0a">0.54</text>
<text x="106.47" y="805.07" font-size="9.2" text-anchor="middle" fill="#0a0a0a">0.56</text>
<text x="136.55" y="805.07" font-size="9.2" text-anchor="middle" fill="#0a0a0a">0.52</text>
<text x="166.62" y="805.07" font-size="9.2" text-anchor="middle" fill="#0a0a0a">0.52</text>
<text x="196.69" y="805.07" font-size="9.2" text-anchor="middle" fill="#0a0a0a">0.66</text>
<text x="226.76" y="805.07" font-size="9.2" text-anchor="middle" fill="#0a0a0a">1.39</text>
<text x="256.82" y="805.07" font-size="9.2" text-anchor="middle" fill="#0a0a0a">2.33</text>
<rect x="31.4" y="823.7" width="240.56" height="88.68" fill="#fff"/>
<rect x="61.47" y="838.48" width="30.07" height="14.78" fill="rgb(204,204,206)"/>
<rect x="91.54" y="838.48" width="30.07" height="14.78" fill="rgb(204,204,206)"/>
<rect x="121.61" y="838.48" width="30.07" height="14.78" fill="rgb(204,204,206)"/>
<rect x="151.68" y="838.48" width="30.07" height="14.78" fill="rgb(194,193,211)"/>
<rect x="181.75" y="838.48" width="30.07" height="14.78" fill="rgb(204,204,206)"/>
<rect x="211.82" y="838.48" width="30.07" height="14.78" fill="rgb(204,204,206)"/>
<rect x="241.89" y="838.48" width="30.07" height="14.78" fill="rgb(204,204,206)"/>
<rect x="61.47" y="853.26" width="30.07" height="14.78" fill="rgb(204,204,206)"/>
<rect x="91.54" y="853.26" width="30.07" height="14.78" fill="rgb(204,204,206)"/>
<rect x="121.61" y="853.26" width="30.07" height="14.78" fill="rgb(186,184,213)"/>
<rect x="151.68" y="853.26" width="30.07" height="14.78" fill="rgb(163,159,217)"/>
<rect x="181.75" y="853.26" width="30.07" height="14.78" fill="rgb(178,176,214)"/>
<rect x="211.82" y="853.26" width="30.07" height="14.78" fill="rgb(204,204,206)"/>
<rect x="241.89" y="853.26" width="30.07" height="14.78" fill="rgb(204,204,206)"/>
<rect x="61.47" y="868.04" width="30.07" height="14.78" fill="rgb(204,204,206)"/>
<rect x="91.54" y="868.04" width="30.07" height="14.78" fill="rgb(204,204,206)"/>
<rect x="121.61" y="868.04" width="30.07" height="14.78" fill="rgb(189,187,212)"/>
<rect x="151.68" y="868.04" width="30.07" height="14.78" fill="rgb(150,145,219)"/>
<rect x="181.75" y="868.04" width="30.07" height="14.78" fill="rgb(179,177,214)"/>
<rect x="211.82" y="868.04" width="30.07" height="14.78" fill="rgb(204,204,206)"/>
<rect x="241.89" y="868.04" width="30.07" height="14.78" fill="rgb(204,204,206)"/>
<rect x="61.47" y="882.82" width="30.07" height="14.78" fill="rgb(204,204,206)"/>
<rect x="91.54" y="882.82" width="30.07" height="14.78" fill="rgb(204,204,206)"/>
<rect x="121.61" y="882.82" width="30.07" height="14.78" fill="rgb(204,204,206)"/>
<rect x="151.68" y="882.82" width="30.07" height="14.78" fill="rgb(146,140,220)"/>
<rect x="181.75" y="882.82" width="30.07" height="14.78" fill="rgb(181,178,214)"/>
<rect x="211.82" y="882.82" width="30.07" height="14.78" fill="rgb(204,204,206)"/>
<rect x="241.89" y="882.82" width="30.07" height="14.78" fill="rgb(204,204,206)"/>
<rect x="61.47" y="897.6" width="30.07" height="14.78" fill="rgb(204,204,206)"/>
<rect x="91.54" y="897.6" width="30.07" height="14.78" fill="rgb(198,198,210)"/>
<rect x="121.61" y="897.6" width="30.07" height="14.78" fill="rgb(175,173,215)"/>
<rect x="151.68" y="897.6" width="30.07" height="14.78" fill="rgb(139,133,221)"/>
<rect x="181.75" y="897.6" width="30.07" height="14.78" fill="rgb(159,155,218)"/>
<rect x="211.82" y="897.6" width="30.07" height="14.78" fill="rgb(204,204,206)"/>
<rect x="241.89" y="897.6" width="30.07" height="14.78" fill="rgb(204,204,206)"/>
<line x1="31.4" y1="823.7" x2="271.96" y2="823.7" stroke="#1a1a1a" stroke-width="1"/>
<line x1="31.4" y1="838.48" x2="271.96" y2="838.48" stroke="#1a1a1a" stroke-width="1"/>
<line x1="31.4" y1="853.26" x2="271.96" y2="853.26" stroke="#1a1a1a" stroke-width="1"/>
<line x1="31.4" y1="868.04" x2="271.96" y2="868.04" stroke="#1a1a1a" stroke-width="1"/>
<line x1="31.4" y1="882.82" x2="271.96" y2="882.82" stroke="#1a1a1a" stroke-width="1"/>
<line x1="31.4" y1="897.6" x2="271.96" y2="897.6" stroke="#1a1a1a" stroke-width="1"/>
<line x1="31.4" y1="912.38" x2="271.96" y2="912.38" stroke="#1a1a1a" stroke-width="1"/>
<line x1="31.4" y1="823.7" x2="31.4" y2="912.38" stroke="#1a1a1a" stroke-width="1"/>
<line x1="61.47" y1="823.7" x2="61.47" y2="912.38" stroke="#1a1a1a" stroke-width="1"/>
<line x1="91.54" y1="823.7" x2="91.54" y2="912.38" stroke="#1a1a1a" stroke-width="1"/>
<line x1="121.61" y1="823.7" x2="121.61" y2="912.38" stroke="#1a1a1a" stroke-width="1"/>
<line x1="151.68" y1="823.7" x2="151.68" y2="912.38" stroke="#1a1a1a" stroke-width="1"/>
<line x1="181.75" y1="823.7" x2="181.75" y2="912.38" stroke="#1a1a1a" stroke-width="1"/>
<line x1="211.82" y1="823.7" x2="211.82" y2="912.38" stroke="#1a1a1a" stroke-width="1"/>
<line x1="241.89" y1="823.7" x2="241.89" y2="912.38" stroke="#1a1a1a" stroke-width="1"/>
<line x1="271.96" y1="823.7" x2="271.96" y2="912.38" stroke="#1a1a1a" stroke-width="1"/>
<text x="46.44" y="834.39" font-size="9.1" font-weight="bold" text-anchor="middle" fill="#000">uM</text>
<text x="76.5" y="834.39" font-size="9.1" font-weight="bold" text-anchor="middle" fill="#000">0.014</text>
<text x="106.57" y="834.39" font-size="9.1" font-weight="bold" text-anchor="middle" fill="#000">0.041</text>
<text x="136.65" y="834.39" font-size="9.1" font-weight="bold" text-anchor="middle" fill="#000">0.12</text>
<text x="166.72" y="834.39" font-size="9.1" font-weight="bold" text-anchor="middle" fill="#000">0.37</text>
<text x="196.78" y="834.39" font-size="9.1" font-weight="bold" text-anchor="middle" fill="#000">1.1</text>
<text x="226.86" y="834.39" font-size="9.1" font-weight="bold" text-anchor="middle" fill="#000">3.3</text>
<text x="256.93" y="834.39" font-size="9.1" font-weight="bold" text-anchor="middle" fill="#000">10</text>
<text x="32.6" y="849.17" font-size="9.1" font-weight="bold" fill="#000">1</text>
<text x="76.5" y="849.17" font-size="9.2" text-anchor="middle" fill="#0a0a0a">1.80</text>
<text x="106.57" y="849.17" font-size="9.2" text-anchor="middle" fill="#0a0a0a">1.63</text>
<text x="136.65" y="849.17" font-size="9.2" text-anchor="middle" fill="#0a0a0a">1.24</text>
<text x="166.72" y="849.17" font-size="9.2" text-anchor="middle" fill="#0a0a0a">0.99</text>
<text x="196.78" y="849.17" font-size="9.2" text-anchor="middle" fill="#0a0a0a">1.08</text>
<text x="226.86" y="849.17" font-size="9.2" text-anchor="middle" fill="#0a0a0a">1.34</text>
<text x="256.93" y="849.17" font-size="9.2" text-anchor="middle" fill="#0a0a0a">1.82</text>
<text x="32.6" y="863.95" font-size="9.1" font-weight="bold" fill="#000">0.5</text>
<text x="76.5" y="863.95" font-size="9.2" text-anchor="middle" fill="#0a0a0a">1.45</text>
<text x="106.57" y="863.95" font-size="9.2" text-anchor="middle" fill="#0a0a0a">1.36</text>
<text x="136.65" y="863.95" font-size="9.2" text-anchor="middle" fill="#0a0a0a">0.93</text>
<text x="166.72" y="863.95" font-size="9.2" text-anchor="middle" fill="#0a0a0a">0.76</text>
<text x="196.78" y="863.95" font-size="9.2" text-anchor="middle" fill="#0a0a0a">0.87</text>
<text x="226.86" y="863.95" font-size="9.2" text-anchor="middle" fill="#0a0a0a">1.19</text>
<text x="256.93" y="863.95" font-size="9.2" text-anchor="middle" fill="#0a0a0a">2.08</text>
<text x="32.6" y="878.73" font-size="9.1" font-weight="bold" fill="#000">0.25</text>
<text x="76.5" y="878.73" font-size="9.2" text-anchor="middle" fill="#0a0a0a">1.21</text>
<text x="106.57" y="878.73" font-size="9.2" text-anchor="middle" fill="#0a0a0a">1.43</text>
<text x="136.65" y="878.73" font-size="9.2" text-anchor="middle" fill="#0a0a0a">0.95</text>
<text x="166.72" y="878.73" font-size="9.2" text-anchor="middle" fill="#0a0a0a">0.66</text>
<text x="196.78" y="878.73" font-size="9.2" text-anchor="middle" fill="#0a0a0a">0.88</text>
<text x="226.86" y="878.73" font-size="9.2" text-anchor="middle" fill="#0a0a0a">1.42</text>
<text x="256.93" y="878.73" font-size="9.2" text-anchor="middle" fill="#0a0a0a">2.12</text>
<text x="32.6" y="893.51" font-size="9.1" font-weight="bold" fill="#000">0.13</text>
<text x="76.5" y="893.51" font-size="9.2" text-anchor="middle" fill="#0a0a0a">1.12</text>
<text x="106.57" y="893.51" font-size="9.2" text-anchor="middle" fill="#0a0a0a">1.23</text>
<text x="136.65" y="893.51" font-size="9.2" text-anchor="middle" fill="#0a0a0a">1.11</text>
<text x="166.72" y="893.51" font-size="9.2" text-anchor="middle" fill="#0a0a0a">0.63</text>
<text x="196.78" y="893.51" font-size="9.2" text-anchor="middle" fill="#0a0a0a">0.89</text>
<text x="226.86" y="893.51" font-size="9.2" text-anchor="middle" fill="#0a0a0a">1.52</text>
<text x="256.93" y="893.51" font-size="9.2" text-anchor="middle" fill="#0a0a0a">2.06</text>
<text x="32.6" y="908.29" font-size="9.1" font-weight="bold" fill="#000">0.063</text>
<text x="76.5" y="908.29" font-size="9.2" text-anchor="middle" fill="#0a0a0a">1.19</text>
<text x="106.57" y="908.29" font-size="9.2" text-anchor="middle" fill="#0a0a0a">1.02</text>
<text x="136.65" y="908.29" font-size="9.2" text-anchor="middle" fill="#0a0a0a">0.85</text>
<text x="166.72" y="908.29" font-size="9.2" text-anchor="middle" fill="#0a0a0a">0.58</text>
<text x="196.78" y="908.29" font-size="9.2" text-anchor="middle" fill="#0a0a0a">0.73</text>
<text x="226.86" y="908.29" font-size="9.2" text-anchor="middle" fill="#0a0a0a">1.06</text>
<text x="256.93" y="908.29" font-size="9.2" text-anchor="middle" fill="#0a0a0a">1.88</text>
<text x="24" y="529.4" font-size="10.8" font-weight="bold" text-anchor="middle" fill="#000" transform="rotate(-90 24 529.4)">NTX</text>
<text x="24.5" y="625.2" font-size="10.8" font-weight="bold" text-anchor="middle" fill="#000" transform="rotate(-90 24.5 625.2)">DAC</text>
<text x="24" y="775.7" font-size="10.8" font-weight="bold" text-anchor="middle" fill="#000" transform="rotate(-90 24 775.7)">NTX</text>
<text x="24.5" y="875.7" font-size="10.8" font-weight="bold" text-anchor="middle" fill="#000" transform="rotate(-90 24.5 875.7)">DAC</text>
<defs><linearGradient id="cig" x1="0" x2="1" y1="0" y2="0"><stop offset="0" stop-color="#0000f0"/><stop offset="1" stop-color="#d6d6de"/></linearGradient></defs>
<rect x="152.8" y="920.3" width="72.2" height="18.5" fill="url(#cig)"/>
<text x="75.2" y="934.8" font-size="12.5" font-weight="bold" fill="#000" textLength="55.3" lengthAdjust="spacingAndGlyphs">CI values</text>
<text x="141" y="934.8" font-size="12.5" font-weight="bold" fill="#000">0</text>
<text x="227.9" y="934.8" font-size="12.5" font-weight="bold" fill="#000">1&lt;</text>
<text x="297" y="427.9" font-size="17.8" font-weight="bold" fill="#000">D</text>
<line x1="355" y1="431.1" x2="355" y2="645.8" stroke="#000" stroke-width="2.5"/>
<line x1="353.8" y1="644.6" x2="675.5" y2="644.6" stroke="#000" stroke-width="2.5"/>
<line x1="348" y1="644.6" x2="355" y2="644.6" stroke="#000" stroke-width="2.3"/>
<text x="346.8" y="648.2" font-size="11.5" text-anchor="end" fill="#222">0</text>
<line x1="348" y1="614.3" x2="355" y2="614.3" stroke="#000" stroke-width="2.3"/>
<text x="346.8" y="617.9" font-size="11.5" text-anchor="end" fill="#222">200</text>
<line x1="348" y1="584" x2="355" y2="584" stroke="#000" stroke-width="2.3"/>
<text x="346.8" y="587.6" font-size="11.5" text-anchor="end" fill="#222">400</text>
<line x1="348" y1="553.7" x2="355" y2="553.7" stroke="#000" stroke-width="2.3"/>
<text x="346.8" y="557.3" font-size="11.5" text-anchor="end" fill="#222">600</text>
<line x1="348" y1="523.4" x2="355" y2="523.4" stroke="#000" stroke-width="2.3"/>
<text x="346.8" y="527" font-size="11.5" text-anchor="end" fill="#222">800</text>
<line x1="348" y1="493.1" x2="355" y2="493.1" stroke="#000" stroke-width="2.3"/>
<text x="346.8" y="496.7" font-size="11.5" text-anchor="end" fill="#222">1000</text>
<line x1="348" y1="462.8" x2="355" y2="462.8" stroke="#000" stroke-width="2.3"/>
<text x="346.8" y="466.4" font-size="11.5" text-anchor="end" fill="#222">1200</text>
<line x1="348" y1="432.5" x2="355" y2="432.5" stroke="#000" stroke-width="2.3"/>
<text x="346.8" y="436.1" font-size="11.5" text-anchor="end" fill="#222">1400</text>
<line x1="355" y1="644.6" x2="355" y2="650.8" stroke="#000" stroke-width="2.3"/>
<text x="355.8" y="664.9" font-size="11.5" text-anchor="middle" fill="#222">13</text>
<line x1="384.1" y1="644.6" x2="384.1" y2="650.8" stroke="#000" stroke-width="2.3"/>
<text x="384.9" y="664.9" font-size="11.5" text-anchor="middle" fill="#222">15</text>
<line x1="413.2" y1="644.6" x2="413.2" y2="650.8" stroke="#000" stroke-width="2.3"/>
<text x="414" y="664.9" font-size="11.5" text-anchor="middle" fill="#222">17</text>
<line x1="442.3" y1="644.6" x2="442.3" y2="650.8" stroke="#000" stroke-width="2.3"/>
<text x="443.1" y="664.9" font-size="11.5" text-anchor="middle" fill="#222">19</text>
<line x1="471.4" y1="644.6" x2="471.4" y2="650.8" stroke="#000" stroke-width="2.3"/>
<text x="472.2" y="664.9" font-size="11.5" text-anchor="middle" fill="#222">21</text>
<line x1="500.5" y1="644.6" x2="500.5" y2="650.8" stroke="#000" stroke-width="2.3"/>
<text x="501.3" y="664.9" font-size="11.5" text-anchor="middle" fill="#222">23</text>
<line x1="529.6" y1="644.6" x2="529.6" y2="650.8" stroke="#000" stroke-width="2.3"/>
<text x="530.4" y="664.9" font-size="11.5" text-anchor="middle" fill="#222">25</text>
<line x1="558.7" y1="644.6" x2="558.7" y2="650.8" stroke="#000" stroke-width="2.3"/>
<text x="559.5" y="664.9" font-size="11.5" text-anchor="middle" fill="#222">27</text>
<line x1="587.8" y1="644.6" x2="587.8" y2="650.8" stroke="#000" stroke-width="2.3"/>
<text x="588.6" y="664.9" font-size="11.5" text-anchor="middle" fill="#222">29</text>
<line x1="616.9" y1="644.6" x2="616.9" y2="650.8" stroke="#000" stroke-width="2.3"/>
<text x="617.7" y="664.9" font-size="11.5" text-anchor="middle" fill="#222">31</text>
<line x1="646" y1="644.6" x2="646" y2="650.8" stroke="#000" stroke-width="2.3"/>
<text x="646.8" y="664.9" font-size="11.5" text-anchor="middle" fill="#222">33</text>
<line x1="675.1" y1="644.6" x2="675.1" y2="650.8" stroke="#000" stroke-width="2.3"/>
<text x="675.9" y="664.9" font-size="11.5" text-anchor="middle" fill="#222">35</text>
<text x="515" y="684.3" font-size="12.4" text-anchor="middle" fill="#222" textLength="153.6" lengthAdjust="spacingAndGlyphs">Days post tumor inoculation</text>
<text x="313.2" y="538.6" font-size="12.4" text-anchor="middle" fill="#222" transform="rotate(-90 313.2 538.6)">Tumor volume (mm<tspan font-size="8.8" dy="-4.8">3</tspan><tspan dy="4.8">)</tspan></text>
<line x1="398.65" y1="629.15" x2="398.65" y2="638.24" stroke="#8c7a45" stroke-width="1" stroke-opacity="0.75"/>
<line x1="395.15" y1="629.15" x2="402.15" y2="629.15" stroke="#8c7a45" stroke-width="1" stroke-opacity="0.75"/>
<line x1="395.15" y1="638.24" x2="402.15" y2="638.24" stroke="#8c7a45" stroke-width="1" stroke-opacity="0.75"/>
<line x1="456.85" y1="624.6" x2="456.85" y2="641.27" stroke="#8c7a45" stroke-width="1" stroke-opacity="0.75"/>
<line x1="453.35" y1="624.6" x2="460.35" y2="624.6" stroke="#8c7a45" stroke-width="1" stroke-opacity="0.75"/>
<line x1="453.35" y1="641.27" x2="460.35" y2="641.27" stroke="#8c7a45" stroke-width="1" stroke-opacity="0.75"/>
<line x1="500.5" y1="609.91" x2="500.5" y2="638.69" stroke="#8c7a45" stroke-width="1" stroke-opacity="0.75"/>
<line x1="497" y1="609.91" x2="504" y2="609.91" stroke="#8c7a45" stroke-width="1" stroke-opacity="0.75"/>
<line x1="497" y1="638.69" x2="504" y2="638.69" stroke="#8c7a45" stroke-width="1" stroke-opacity="0.75"/>
<line x1="558.7" y1="602.18" x2="558.7" y2="632.48" stroke="#8c7a45" stroke-width="1" stroke-opacity="0.75"/>
<line x1="555.2" y1="602.18" x2="562.2" y2="602.18" stroke="#8c7a45" stroke-width="1" stroke-opacity="0.75"/>
<line x1="555.2" y1="632.48" x2="562.2" y2="632.48" stroke="#8c7a45" stroke-width="1" stroke-opacity="0.75"/>
<line x1="602.35" y1="551.28" x2="602.35" y2="630.06" stroke="#8c7a45" stroke-width="1" stroke-opacity="0.75"/>
<line x1="598.85" y1="551.28" x2="605.85" y2="551.28" stroke="#8c7a45" stroke-width="1" stroke-opacity="0.75"/>
<line x1="598.85" y1="630.06" x2="605.85" y2="630.06" stroke="#8c7a45" stroke-width="1" stroke-opacity="0.75"/>
<line x1="660.55" y1="519.01" x2="660.55" y2="619.75" stroke="#8c7a45" stroke-width="1" stroke-opacity="0.75"/>
<line x1="657.05" y1="519.01" x2="664.05" y2="519.01" stroke="#8c7a45" stroke-width="1" stroke-opacity="0.75"/>
<line x1="657.05" y1="619.75" x2="664.05" y2="619.75" stroke="#8c7a45" stroke-width="1" stroke-opacity="0.75"/>
<line x1="398.65" y1="630.97" x2="398.65" y2="637.02" stroke="#f4a6f0" stroke-width="1" stroke-opacity="0.75"/>
<line x1="395.15" y1="630.97" x2="402.15" y2="630.97" stroke="#f4a6f0" stroke-width="1" stroke-opacity="0.75"/>
<line x1="395.15" y1="637.02" x2="402.15" y2="637.02" stroke="#f4a6f0" stroke-width="1" stroke-opacity="0.75"/>
<line x1="456.85" y1="633.69" x2="456.85" y2="641.27" stroke="#f4a6f0" stroke-width="1" stroke-opacity="0.75"/>
<line x1="453.35" y1="633.69" x2="460.35" y2="633.69" stroke="#f4a6f0" stroke-width="1" stroke-opacity="0.75"/>
<line x1="453.35" y1="641.27" x2="460.35" y2="641.27" stroke="#f4a6f0" stroke-width="1" stroke-opacity="0.75"/>
<line x1="500.5" y1="633.24" x2="500.5" y2="642.33" stroke="#f4a6f0" stroke-width="1" stroke-opacity="0.75"/>
<line x1="497" y1="633.24" x2="504" y2="633.24" stroke="#f4a6f0" stroke-width="1" stroke-opacity="0.75"/>
<line x1="497" y1="642.33" x2="504" y2="642.33" stroke="#f4a6f0" stroke-width="1" stroke-opacity="0.75"/>
<line x1="558.7" y1="626.57" x2="558.7" y2="640.21" stroke="#f4a6f0" stroke-width="1" stroke-opacity="0.75"/>
<line x1="555.2" y1="626.57" x2="562.2" y2="626.57" stroke="#f4a6f0" stroke-width="1" stroke-opacity="0.75"/>
<line x1="555.2" y1="640.21" x2="562.2" y2="640.21" stroke="#f4a6f0" stroke-width="1" stroke-opacity="0.75"/>
<line x1="602.35" y1="618.39" x2="602.35" y2="639.6" stroke="#f4a6f0" stroke-width="1" stroke-opacity="0.75"/>
<line x1="598.85" y1="618.39" x2="605.85" y2="618.39" stroke="#f4a6f0" stroke-width="1" stroke-opacity="0.75"/>
<line x1="598.85" y1="639.6" x2="605.85" y2="639.6" stroke="#f4a6f0" stroke-width="1" stroke-opacity="0.75"/>
<line x1="660.55" y1="598.09" x2="660.55" y2="635.96" stroke="#f4a6f0" stroke-width="1" stroke-opacity="0.75"/>
<line x1="657.05" y1="598.09" x2="664.05" y2="598.09" stroke="#f4a6f0" stroke-width="1" stroke-opacity="0.75"/>
<line x1="657.05" y1="635.96" x2="664.05" y2="635.96" stroke="#f4a6f0" stroke-width="1" stroke-opacity="0.75"/>
<line x1="398.65" y1="611.72" x2="398.65" y2="623.84" stroke="#f5a050" stroke-width="1" stroke-opacity="0.75"/>
<line x1="395.15" y1="611.72" x2="402.15" y2="611.72" stroke="#f5a050" stroke-width="1" stroke-opacity="0.75"/>
<line x1="395.15" y1="623.84" x2="402.15" y2="623.84" stroke="#f5a050" stroke-width="1" stroke-opacity="0.75"/>
<line x1="456.85" y1="607.94" x2="456.85" y2="614" stroke="#f5a050" stroke-width="1" stroke-opacity="0.75"/>
<line x1="453.35" y1="607.94" x2="460.35" y2="607.94" stroke="#f5a050" stroke-width="1" stroke-opacity="0.75"/>
<line x1="453.35" y1="614" x2="460.35" y2="614" stroke="#f5a050" stroke-width="1" stroke-opacity="0.75"/>
<line x1="500.5" y1="591.58" x2="500.5" y2="609.75" stroke="#f5a050" stroke-width="1" stroke-opacity="0.75"/>
<line x1="497" y1="591.58" x2="504" y2="591.58" stroke="#f5a050" stroke-width="1" stroke-opacity="0.75"/>
<line x1="497" y1="609.75" x2="504" y2="609.75" stroke="#f5a050" stroke-width="1" stroke-opacity="0.75"/>
<line x1="558.7" y1="557.03" x2="558.7" y2="602.48" stroke="#f5a050" stroke-width="1" stroke-opacity="0.75"/>
<line x1="555.2" y1="557.03" x2="562.2" y2="557.03" stroke="#f5a050" stroke-width="1" stroke-opacity="0.75"/>
<line x1="555.2" y1="602.48" x2="562.2" y2="602.48" stroke="#f5a050" stroke-width="1" stroke-opacity="0.75"/>
<line x1="602.35" y1="514.46" x2="602.35" y2="575.06" stroke="#f5a050" stroke-width="1" stroke-opacity="0.75"/>
<line x1="598.85" y1="514.46" x2="605.85" y2="514.46" stroke="#f5a050" stroke-width="1" stroke-opacity="0.75"/>
<line x1="598.85" y1="575.06" x2="605.85" y2="575.06" stroke="#f5a050" stroke-width="1" stroke-opacity="0.75"/>
<line x1="660.55" y1="478.25" x2="660.55" y2="523.7" stroke="#f5a050" stroke-width="1" stroke-opacity="0.75"/>
<line x1="657.05" y1="478.25" x2="664.05" y2="478.25" stroke="#f5a050" stroke-width="1" stroke-opacity="0.75"/>
<line x1="657.05" y1="523.7" x2="664.05" y2="523.7" stroke="#f5a050" stroke-width="1" stroke-opacity="0.75"/>
<line x1="398.65" y1="640.36" x2="398.65" y2="643.39" stroke="#7010a8" stroke-width="1" stroke-opacity="0.75"/>
<line x1="395.15" y1="640.36" x2="402.15" y2="640.36" stroke="#7010a8" stroke-width="1" stroke-opacity="0.75"/>
<line x1="395.15" y1="643.39" x2="402.15" y2="643.39" stroke="#7010a8" stroke-width="1" stroke-opacity="0.75"/>
<line x1="398.65" y1="632.63" x2="398.65" y2="640.21" stroke="#1a1aff" stroke-width="1" stroke-opacity="0.75"/>
<line x1="395.15" y1="632.63" x2="402.15" y2="632.63" stroke="#1a1aff" stroke-width="1" stroke-opacity="0.75"/>
<line x1="395.15" y1="640.21" x2="402.15" y2="640.21" stroke="#1a1aff" stroke-width="1" stroke-opacity="0.75"/>
<line x1="456.85" y1="640.66" x2="456.85" y2="643.09" stroke="#1a1aff" stroke-width="1" stroke-opacity="0.75"/>
<line x1="453.35" y1="640.66" x2="460.35" y2="640.66" stroke="#1a1aff" stroke-width="1" stroke-opacity="0.75"/>
<line x1="453.35" y1="643.09" x2="460.35" y2="643.09" stroke="#1a1aff" stroke-width="1" stroke-opacity="0.75"/>
<line x1="398.65" y1="634.75" x2="398.65" y2="640.81" stroke="#1cf01c" stroke-width="1" stroke-opacity="0.75"/>
<line x1="395.15" y1="634.75" x2="402.15" y2="634.75" stroke="#1cf01c" stroke-width="1" stroke-opacity="0.75"/>
<line x1="395.15" y1="640.81" x2="402.15" y2="640.81" stroke="#1cf01c" stroke-width="1" stroke-opacity="0.75"/>
<line x1="456.85" y1="642.48" x2="456.85" y2="643.99" stroke="#1cf01c" stroke-width="1" stroke-opacity="0.75"/>
<line x1="453.35" y1="642.48" x2="460.35" y2="642.48" stroke="#1cf01c" stroke-width="1" stroke-opacity="0.75"/>
<line x1="453.35" y1="643.99" x2="460.35" y2="643.99" stroke="#1cf01c" stroke-width="1" stroke-opacity="0.75"/>
<line x1="398.65" y1="624.9" x2="398.65" y2="629.45" stroke="#ff1010" stroke-width="1" stroke-opacity="0.75"/>
<line x1="395.15" y1="624.9" x2="402.15" y2="624.9" stroke="#ff1010" stroke-width="1" stroke-opacity="0.75"/>
<line x1="395.15" y1="629.45" x2="402.15" y2="629.45" stroke="#ff1010" stroke-width="1" stroke-opacity="0.75"/>
<line x1="456.85" y1="637.02" x2="456.85" y2="641.57" stroke="#ff1010" stroke-width="1" stroke-opacity="0.75"/>
<line x1="453.35" y1="637.02" x2="460.35" y2="637.02" stroke="#ff1010" stroke-width="1" stroke-opacity="0.75"/>
<line x1="453.35" y1="641.57" x2="460.35" y2="641.57" stroke="#ff1010" stroke-width="1" stroke-opacity="0.75"/>
<line x1="500.5" y1="642.02" x2="500.5" y2="643.54" stroke="#ff1010" stroke-width="1" stroke-opacity="0.75"/>
<line x1="497" y1="642.02" x2="504" y2="642.02" stroke="#ff1010" stroke-width="1" stroke-opacity="0.75"/>
<line x1="497" y1="643.54" x2="504" y2="643.54" stroke="#ff1010" stroke-width="1" stroke-opacity="0.75"/>
<line x1="398.65" y1="610.06" x2="398.65" y2="623.69" stroke="#000000" stroke-width="1" stroke-opacity="0.8"/>
<line x1="395.15" y1="610.06" x2="402.15" y2="610.06" stroke="#000000" stroke-width="1" stroke-opacity="0.8"/>
<line x1="395.15" y1="623.69" x2="402.15" y2="623.69" stroke="#000000" stroke-width="1" stroke-opacity="0.8"/>
<line x1="456.85" y1="585.36" x2="456.85" y2="608.69" stroke="#000000" stroke-width="1" stroke-opacity="0.8"/>
<line x1="453.35" y1="585.36" x2="460.35" y2="585.36" stroke="#000000" stroke-width="1" stroke-opacity="0.8"/>
<line x1="453.35" y1="608.69" x2="460.35" y2="608.69" stroke="#000000" stroke-width="1" stroke-opacity="0.8"/>
<line x1="500.5" y1="570.21" x2="500.5" y2="598.09" stroke="#000000" stroke-width="1" stroke-opacity="0.8"/>
<line x1="497" y1="570.21" x2="504" y2="570.21" stroke="#000000" stroke-width="1" stroke-opacity="0.8"/>
<line x1="497" y1="598.09" x2="504" y2="598.09" stroke="#000000" stroke-width="1" stroke-opacity="0.8"/>
<line x1="558.7" y1="543.7" x2="558.7" y2="581.27" stroke="#000000" stroke-width="1" stroke-opacity="0.8"/>
<line x1="555.2" y1="543.7" x2="562.2" y2="543.7" stroke="#000000" stroke-width="1" stroke-opacity="0.8"/>
<line x1="555.2" y1="581.27" x2="562.2" y2="581.27" stroke="#000000" stroke-width="1" stroke-opacity="0.8"/>
<line x1="602.35" y1="512.49" x2="602.35" y2="562.49" stroke="#000000" stroke-width="1" stroke-opacity="0.8"/>
<line x1="598.85" y1="512.49" x2="605.85" y2="512.49" stroke="#000000" stroke-width="1" stroke-opacity="0.8"/>
<line x1="598.85" y1="562.49" x2="605.85" y2="562.49" stroke="#000000" stroke-width="1" stroke-opacity="0.8"/>
<line x1="660.55" y1="451.59" x2="660.55" y2="516.73" stroke="#000000" stroke-width="1" stroke-opacity="0.8"/>
<line x1="657.05" y1="451.59" x2="664.05" y2="451.59" stroke="#000000" stroke-width="1" stroke-opacity="0.8"/>
<line x1="657.05" y1="516.73" x2="664.05" y2="516.73" stroke="#000000" stroke-width="1" stroke-opacity="0.8"/>
<line x1="355.3" y1="617.8" x2="355.3" y2="636" stroke="#333" stroke-width="1.2"/>
<line x1="351.4" y1="618.2" x2="359.2" y2="618.2" stroke="#ff2020" stroke-width="1.3"/>
<line x1="351.4" y1="619.6" x2="359.2" y2="619.6" stroke="#8020b0" stroke-width="1.3"/>
<line x1="351.4" y1="621.6" x2="359.2" y2="621.6" stroke="#20e020" stroke-width="1.3"/>
<line x1="351.4" y1="623" x2="359.2" y2="623" stroke="#f4a6f0" stroke-width="1.3"/>
<line x1="351.4" y1="630.4" x2="359.2" y2="630.4" stroke="#20e020" stroke-width="1.3"/>
<line x1="351.4" y1="632.2" x2="359.2" y2="632.2" stroke="#3030ff" stroke-width="1.3"/>
<line x1="351.4" y1="633.6" x2="359.2" y2="633.6" stroke="#8020b0" stroke-width="1.3"/>
<line x1="351.4" y1="635.4" x2="359.2" y2="635.4" stroke="#ff2020" stroke-width="1.3"/>
<polyline points="355,626.42 398.65,635.21 456.85,635.21 500.5,629.6 558.7,617.33 602.35,611.88 660.55,589.45" fill="none" stroke="#8c7a45" stroke-width="1.85" stroke-linejoin="round"/>
<line x1="352" y1="623.42" x2="358" y2="629.42" stroke="#8c7a45" stroke-width="1.6"/>
<line x1="352" y1="629.42" x2="358" y2="623.42" stroke="#8c7a45" stroke-width="1.6"/>
<line x1="352" y1="626.42" x2="358" y2="626.42" stroke="#8c7a45" stroke-width="1"/>
<line x1="395.65" y1="632.21" x2="401.65" y2="638.21" stroke="#8c7a45" stroke-width="1.6"/>
<line x1="395.65" y1="638.21" x2="401.65" y2="632.21" stroke="#8c7a45" stroke-width="1.6"/>
<line x1="395.65" y1="635.21" x2="401.65" y2="635.21" stroke="#8c7a45" stroke-width="1"/>
<line x1="453.85" y1="632.21" x2="459.85" y2="638.21" stroke="#8c7a45" stroke-width="1.6"/>
<line x1="453.85" y1="638.21" x2="459.85" y2="632.21" stroke="#8c7a45" stroke-width="1.6"/>
<line x1="453.85" y1="635.21" x2="459.85" y2="635.21" stroke="#8c7a45" stroke-width="1"/>
<line x1="497.5" y1="626.6" x2="503.5" y2="632.6" stroke="#8c7a45" stroke-width="1.6"/>
<line x1="497.5" y1="632.6" x2="503.5" y2="626.6" stroke="#8c7a45" stroke-width="1.6"/>
<line x1="497.5" y1="629.6" x2="503.5" y2="629.6" stroke="#8c7a45" stroke-width="1"/>
<line x1="555.7" y1="614.33" x2="561.7" y2="620.33" stroke="#8c7a45" stroke-width="1.6"/>
<line x1="555.7" y1="620.33" x2="561.7" y2="614.33" stroke="#8c7a45" stroke-width="1.6"/>
<line x1="555.7" y1="617.33" x2="561.7" y2="617.33" stroke="#8c7a45" stroke-width="1"/>
<line x1="599.35" y1="608.88" x2="605.35" y2="614.88" stroke="#8c7a45" stroke-width="1.6"/>
<line x1="599.35" y1="614.88" x2="605.35" y2="608.88" stroke="#8c7a45" stroke-width="1.6"/>
<line x1="599.35" y1="611.88" x2="605.35" y2="611.88" stroke="#8c7a45" stroke-width="1"/>
<line x1="657.55" y1="586.45" x2="663.55" y2="592.45" stroke="#8c7a45" stroke-width="1.6"/>
<line x1="657.55" y1="592.45" x2="663.55" y2="586.45" stroke="#8c7a45" stroke-width="1.6"/>
<line x1="657.55" y1="589.45" x2="663.55" y2="589.45" stroke="#8c7a45" stroke-width="1"/>
<polyline points="355,626.42 398.65,634 456.85,637.48 500.5,637.78 558.7,634.15 602.35,630.51 660.55,620.81" fill="none" stroke="#f4a6f0" stroke-width="1.85" stroke-linejoin="round"/>
<circle cx="355" cy="626.42" r="2.7" fill="#f4a6f0"/>
<circle cx="398.65" cy="634" r="2.7" fill="#f4a6f0"/>
<circle cx="456.85" cy="637.48" r="2.7" fill="#f4a6f0"/>
<circle cx="500.5" cy="637.78" r="2.7" fill="#f4a6f0"/>
<circle cx="558.7" cy="634.15" r="2.7" fill="#f4a6f0"/>
<circle cx="602.35" cy="630.51" r="2.7" fill="#f4a6f0"/>
<circle cx="660.55" cy="620.81" r="2.7" fill="#f4a6f0"/>
<polyline points="355,626.42 398.65,617.78 456.85,610.97 500.5,600.66 558.7,579.76 602.35,544.76 660.55,500.98" fill="none" stroke="#f5a050" stroke-width="1.85" stroke-linejoin="round"/>
<circle cx="355" cy="626.42" r="2.7" fill="#f5a050"/>
<circle cx="398.65" cy="617.78" r="2.7" fill="#f5a050"/>
<circle cx="456.85" cy="610.97" r="2.7" fill="#f5a050"/>
<circle cx="500.5" cy="600.66" r="2.7" fill="#f5a050"/>
<circle cx="558.7" cy="579.76" r="2.7" fill="#f5a050"/>
<circle cx="602.35" cy="544.76" r="2.7" fill="#f5a050"/>
<circle cx="660.55" cy="500.98" r="2.7" fill="#f5a050"/>
<polyline points="355,626.42 398.65,641.87 456.85,643.99 500.5,644.3 558.7,644.45 602.35,644.45 660.55,644.45" fill="none" stroke="#7010a8" stroke-width="1.85" stroke-linejoin="round"/>
<polygon points="355,623.42 358,626.42 355,629.42 352,626.42" fill="#7010a8"/>
<polygon points="398.65,638.87 401.65,641.87 398.65,644.87 395.65,641.87" fill="#7010a8"/>
<polygon points="456.85,640.99 459.85,643.99 456.85,646.99 453.85,643.99" fill="#7010a8"/>
<polygon points="500.5,641.3 503.5,644.3 500.5,647.3 497.5,644.3" fill="#7010a8"/>
<polygon points="558.7,641.45 561.7,644.45 558.7,647.45 555.7,644.45" fill="#7010a8"/>
<polygon points="602.35,641.45 605.35,644.45 602.35,647.45 599.35,644.45" fill="#7010a8"/>
<polygon points="660.55,641.45 663.55,644.45 660.55,647.45 657.55,644.45" fill="#7010a8"/>
<polyline points="355,626.42 398.65,636.42 456.85,641.87 500.5,643.84 558.7,644.15 602.35,644.3 660.55,644.45" fill="none" stroke="#1a1aff" stroke-width="1.85" stroke-linejoin="round"/>
<polygon points="355,629.62 351.8,624.18 358.2,624.18" fill="#1a1aff"/>
<polygon points="398.65,639.62 395.45,634.18 401.85,634.18" fill="#1a1aff"/>
<polygon points="456.85,645.07 453.65,639.63 460.05,639.63" fill="#1a1aff"/>
<polygon points="500.5,647.04 497.3,641.6 503.7,641.6" fill="#1a1aff"/>
<polygon points="558.7,647.35 555.5,641.91 561.9,641.91" fill="#1a1aff"/>
<polygon points="602.35,647.5 599.15,642.06 605.55,642.06" fill="#1a1aff"/>
<polygon points="660.55,647.65 657.35,642.21 663.75,642.21" fill="#1a1aff"/>
<polyline points="355,626.42 398.65,637.78 456.85,643.24 500.5,644.15 558.7,644.3 602.35,644.45 660.55,644.45" fill="none" stroke="#1cf01c" stroke-width="1.85" stroke-linejoin="round"/>
<polygon points="355,623.22 351.8,628.66 358.2,628.66" fill="#1cf01c"/>
<polygon points="398.65,634.58 395.45,640.02 401.85,640.02" fill="#1cf01c"/>
<polygon points="456.85,640.04 453.65,645.48 460.05,645.48" fill="#1cf01c"/>
<polygon points="500.5,640.95 497.3,646.39 503.7,646.39" fill="#1cf01c"/>
<polygon points="558.7,641.1 555.5,646.54 561.9,646.54" fill="#1cf01c"/>
<polygon points="602.35,641.25 599.15,646.69 605.55,646.69" fill="#1cf01c"/>
<polygon points="660.55,641.25 657.35,646.69 663.75,646.69" fill="#1cf01c"/>
<polyline points="355,626.42 398.65,627.18 456.85,639.3 500.5,642.78 558.7,643.69 602.35,644.15 660.55,644.3" fill="none" stroke="#ff1010" stroke-width="1.85" stroke-linejoin="round"/>
<rect x="352.2" y="623.62" width="5.6" height="5.6" fill="#ff1010"/>
<rect x="395.85" y="624.38" width="5.6" height="5.6" fill="#ff1010"/>
<rect x="454.05" y="636.5" width="5.6" height="5.6" fill="#ff1010"/>
<rect x="497.7" y="639.98" width="5.6" height="5.6" fill="#ff1010"/>
<rect x="555.9" y="640.89" width="5.6" height="5.6" fill="#ff1010"/>
<rect x="599.55" y="641.35" width="5.6" height="5.6" fill="#ff1010"/>
<rect x="657.75" y="641.5" width="5.6" height="5.6" fill="#ff1010"/>
<polyline points="355,626.42 398.65,616.88 456.85,597.03 500.5,584.15 558.7,562.49 602.35,537.49 660.55,484.16" fill="none" stroke="#000000" stroke-width="1.85" stroke-linejoin="round"/>
<circle cx="355" cy="626.42" r="2.7" fill="#000000"/>
<circle cx="398.65" cy="616.88" r="2.7" fill="#000000"/>
<circle cx="456.85" cy="597.03" r="2.7" fill="#000000"/>
<circle cx="500.5" cy="584.15" r="2.7" fill="#000000"/>
<circle cx="558.7" cy="562.49" r="2.7" fill="#000000"/>
<circle cx="602.35" cy="537.49" r="2.7" fill="#000000"/>
<circle cx="660.55" cy="484.16" r="2.7" fill="#000000"/>
<line x1="367" y1="438" x2="384" y2="438" stroke="#000000" stroke-width="1.9"/>
<circle cx="375.8" cy="438" r="2.29" fill="#000000"/>
<text x="393.3" y="442.2" font-size="9.9" fill="#222" textLength="32.6" lengthAdjust="spacingAndGlyphs">Vehicle</text>
<line x1="367" y1="452.67" x2="384" y2="452.67" stroke="#ff1010" stroke-width="1.9"/>
<rect x="373.42" y="450.29" width="4.76" height="4.76" fill="#ff1010"/>
<text x="393.3" y="456.87" font-size="9.9" fill="#222" textLength="38.3" lengthAdjust="spacingAndGlyphs">NTX(2.0)</text>
<line x1="367" y1="467.34" x2="384" y2="467.34" stroke="#1cf01c" stroke-width="1.9"/>
<polygon points="375.8,464.62 373.08,469.24 378.52,469.24" fill="#1cf01c"/>
<text x="393.3" y="471.54" font-size="9.9" fill="#222" textLength="87.4" lengthAdjust="spacingAndGlyphs">NTX(0.5) + VCX(50)</text>
<line x1="367" y1="482.01" x2="384" y2="482.01" stroke="#1a1aff" stroke-width="1.9"/>
<polygon points="375.8,484.73 373.08,480.11 378.52,480.11" fill="#1a1aff"/>
<text x="393.3" y="486.21" font-size="9.9" fill="#222" textLength="87.4" lengthAdjust="spacingAndGlyphs">NTX(1.0) + VCX(50)</text>
<line x1="367" y1="496.68" x2="384" y2="496.68" stroke="#7010a8" stroke-width="1.9"/>
<polygon points="375.8,494.13 378.35,496.68 375.8,499.23 373.25,496.68" fill="#7010a8"/>
<text x="393.3" y="500.88" font-size="9.9" fill="#222" textLength="87.4" lengthAdjust="spacingAndGlyphs">NTX(2.0) + VCX(50)</text>
<line x1="367" y1="511.35" x2="384" y2="511.35" stroke="#f4a6f0" stroke-width="1.9"/>
<circle cx="375.8" cy="511.35" r="2.29" fill="#f4a6f0"/>
<text x="393.3" y="515.55" font-size="9.9" fill="#222" textLength="88.6" lengthAdjust="spacingAndGlyphs">AZA(2.5) + VCX(50)</text>
<line x1="367" y1="526.02" x2="384" y2="526.02" stroke="#f5a050" stroke-width="1.9"/>
<circle cx="375.8" cy="526.02" r="2.29" fill="#f5a050"/>
<text x="393.3" y="530.22" font-size="9.9" fill="#222" textLength="40" lengthAdjust="spacingAndGlyphs">AZA(5.0)</text>
<line x1="367" y1="540.69" x2="384" y2="540.69" stroke="#8c7a45" stroke-width="1.9"/>
<line x1="373.25" y1="538.14" x2="378.35" y2="543.24" stroke="#8c7a45" stroke-width="1.6"/>
<line x1="373.25" y1="543.24" x2="378.35" y2="538.14" stroke="#8c7a45" stroke-width="1.6"/>
<line x1="373.25" y1="540.69" x2="378.35" y2="540.69" stroke="#8c7a45" stroke-width="1"/>
<text x="393.3" y="544.89" font-size="9.9" fill="#222" textLength="36.7" lengthAdjust="spacingAndGlyphs">VCX(50)</text>
<text x="314.3" y="703.8" font-size="17.3" font-weight="bold" fill="#000">E</text>
<line x1="370.3" y1="714.25" x2="370.3" y2="900.3" stroke="#000" stroke-width="2.6"/>
<line x1="369" y1="899" x2="677.8" y2="899" stroke="#000" stroke-width="2.6"/>
<line x1="362.3" y1="899" x2="370.3" y2="899" stroke="#000" stroke-width="2.6"/>
<text x="360" y="903.6" font-size="13" text-anchor="end" fill="#222">0</text>
<line x1="362.3" y1="853.14" x2="370.3" y2="853.14" stroke="#000" stroke-width="2.6"/>
<text x="360" y="857.74" font-size="13" text-anchor="end" fill="#222">25</text>
<line x1="362.3" y1="807.27" x2="370.3" y2="807.27" stroke="#000" stroke-width="2.6"/>
<text x="360" y="811.88" font-size="13" text-anchor="end" fill="#222">50</text>
<line x1="362.3" y1="761.41" x2="370.3" y2="761.41" stroke="#000" stroke-width="2.6"/>
<text x="360" y="766.01" font-size="13" text-anchor="end" fill="#222">75</text>
<line x1="362.3" y1="715.55" x2="370.3" y2="715.55" stroke="#000" stroke-width="2.6"/>
<text x="360" y="720.15" font-size="13" text-anchor="end" fill="#222">100</text>
<line x1="370.3" y1="899" x2="370.3" y2="907" stroke="#000" stroke-width="2.6"/>
<text x="370.3" y="922.7" font-size="12.5" text-anchor="middle" fill="#222">0</text>
<line x1="414.2" y1="899" x2="414.2" y2="907" stroke="#000" stroke-width="2.6"/>
<text x="414.2" y="922.7" font-size="12.5" text-anchor="middle" fill="#222">10</text>
<line x1="458.1" y1="899" x2="458.1" y2="907" stroke="#000" stroke-width="2.6"/>
<text x="458.1" y="922.7" font-size="12.5" text-anchor="middle" fill="#222">20</text>
<line x1="502" y1="899" x2="502" y2="907" stroke="#000" stroke-width="2.6"/>
<text x="502" y="922.7" font-size="12.5" text-anchor="middle" fill="#222">30</text>
<line x1="545.9" y1="899" x2="545.9" y2="907" stroke="#000" stroke-width="2.6"/>
<text x="545.9" y="922.7" font-size="12.5" text-anchor="middle" fill="#222">40</text>
<line x1="589.8" y1="899" x2="589.8" y2="907" stroke="#000" stroke-width="2.6"/>
<text x="589.8" y="922.7" font-size="12.5" text-anchor="middle" fill="#222">50</text>
<line x1="633.7" y1="899" x2="633.7" y2="907" stroke="#000" stroke-width="2.6"/>
<text x="633.7" y="922.7" font-size="12.5" text-anchor="middle" fill="#222">60</text>
<line x1="677.6" y1="899" x2="677.6" y2="907" stroke="#000" stroke-width="2.6"/>
<text x="677.6" y="922.7" font-size="12.5" text-anchor="middle" fill="#222">70</text>
<text x="524" y="943.8" font-size="13.4" text-anchor="middle" fill="#222" textLength="82" lengthAdjust="spacingAndGlyphs">Days elapsed</text>
<text x="326" y="808" font-size="13" text-anchor="middle" fill="#222" transform="rotate(-90 326 808)" textLength="124" lengthAdjust="spacingAndGlyphs">Probability of survival</text>
<polyline points="370.3,715.55 462.49,715.55 462.49,738.48 541.51,738.48 541.51,761.41 559.07,761.41 559.07,784.34 563.46,784.34 563.46,807.27 567.85,807.27 567.85,853.14 576.63,853.14 576.63,876.07 585.41,876.07 585.41,899" fill="none" stroke="#22b022" stroke-width="2.0" stroke-linejoin="miter" stroke-linecap="square"/>
<polyline points="370.3,715.55 532.73,715.55 532.73,738.48 559.07,738.48 559.07,761.41 576.63,761.41 576.63,784.34 589.8,784.34 589.8,876.07 620.53,876.07 620.53,899" fill="none" stroke="#1a1aff" stroke-width="2.0" stroke-linejoin="miter" stroke-linecap="square"/>
<polyline points="370.3,715.55 563.46,715.55 563.46,738.48 620.53,738.48 620.53,784.34 629.31,784.34 629.31,807.27 633.7,807.27 633.7,830.21 646.87,830.21" fill="none" stroke="#ff1010" stroke-width="2.0" stroke-linejoin="miter" stroke-linecap="square"/>
<polyline points="370.3,715.55 572.24,715.55 572.24,738.48 576.63,738.48 576.63,761.41 589.8,761.41 589.8,784.34 620.53,784.34 620.53,807.27 624.92,807.27 624.92,830.21 629.31,830.21 629.31,853.14" fill="none" stroke="#9a10e0" stroke-width="2.0" stroke-linejoin="miter" stroke-linecap="square"/>
<polyline points="370.3,715.55 559.07,715.55 559.07,738.48 567.85,738.48 567.85,807.27 576.63,807.27 576.63,830.21 607.36,830.21 607.36,853.14 638.09,853.14 638.09,899" fill="none" stroke="#e09cf0" stroke-width="2.0" stroke-linejoin="miter" stroke-linecap="square"/>
<polyline points="370.3,715.55 502,715.55 502,738.48 523.95,738.48 523.95,784.34 528.34,784.34 528.34,807.27 559.07,807.27 559.07,899" fill="none" stroke="#000000" stroke-width="2.0" stroke-linejoin="miter" stroke-linecap="square"/>
<line x1="462.49" y1="733.98" x2="462.49" y2="738.48" stroke="#000" stroke-width="1.6"/>
<line x1="541.51" y1="756.91" x2="541.51" y2="761.41" stroke="#000" stroke-width="1.6"/>
<line x1="559.07" y1="779.84" x2="559.07" y2="784.34" stroke="#000" stroke-width="1.6"/>
<line x1="563.46" y1="802.77" x2="563.46" y2="807.27" stroke="#000" stroke-width="1.6"/>
<line x1="567.85" y1="848.64" x2="567.85" y2="853.14" stroke="#000" stroke-width="1.6"/>
<line x1="576.63" y1="871.57" x2="576.63" y2="876.07" stroke="#000" stroke-width="1.6"/>
<line x1="532.73" y1="733.98" x2="532.73" y2="738.48" stroke="#000" stroke-width="1.6"/>
<line x1="559.07" y1="756.91" x2="559.07" y2="761.41" stroke="#000" stroke-width="1.6"/>
<line x1="576.63" y1="779.84" x2="576.63" y2="784.34" stroke="#000" stroke-width="1.6"/>
<line x1="589.8" y1="871.57" x2="589.8" y2="876.07" stroke="#000" stroke-width="1.6"/>
<line x1="563.46" y1="733.98" x2="563.46" y2="738.48" stroke="#000" stroke-width="1.6"/>
<line x1="620.53" y1="779.84" x2="620.53" y2="784.34" stroke="#000" stroke-width="1.6"/>
<line x1="629.31" y1="802.77" x2="629.31" y2="807.27" stroke="#000" stroke-width="1.6"/>
<line x1="633.7" y1="825.71" x2="633.7" y2="830.21" stroke="#000" stroke-width="1.6"/>
<line x1="646.87" y1="825.71" x2="646.87" y2="830.21" stroke="#000" stroke-width="1.6"/>
<line x1="572.24" y1="733.98" x2="572.24" y2="738.48" stroke="#000" stroke-width="1.6"/>
<line x1="576.63" y1="756.91" x2="576.63" y2="761.41" stroke="#000" stroke-width="1.6"/>
<line x1="589.8" y1="779.84" x2="589.8" y2="784.34" stroke="#000" stroke-width="1.6"/>
<line x1="620.53" y1="802.77" x2="620.53" y2="807.27" stroke="#000" stroke-width="1.6"/>
<line x1="624.92" y1="825.71" x2="624.92" y2="830.21" stroke="#000" stroke-width="1.6"/>
<line x1="629.31" y1="848.64" x2="629.31" y2="853.14" stroke="#000" stroke-width="1.6"/>
<line x1="559.07" y1="733.98" x2="559.07" y2="738.48" stroke="#000" stroke-width="1.6"/>
<line x1="567.85" y1="802.77" x2="567.85" y2="807.27" stroke="#000" stroke-width="1.6"/>
<line x1="576.63" y1="825.71" x2="576.63" y2="830.21" stroke="#000" stroke-width="1.6"/>
<line x1="607.36" y1="848.64" x2="607.36" y2="853.14" stroke="#000" stroke-width="1.6"/>
<line x1="502" y1="733.98" x2="502" y2="738.48" stroke="#000" stroke-width="1.6"/>
<line x1="523.95" y1="779.84" x2="523.95" y2="784.34" stroke="#000" stroke-width="1.6"/>
<line x1="528.34" y1="802.77" x2="528.34" y2="807.27" stroke="#000" stroke-width="1.6"/>
<line x1="374.7" y1="811.9" x2="394.2" y2="811.9" stroke="#000000" stroke-width="2"/>
<line x1="384" y1="806.9" x2="384" y2="811.9" stroke="#000" stroke-width="1.6"/>
<text x="405.3" y="816.8" font-size="11.4" fill="#222">Vehicle</text>
<line x1="374.7" y1="827.5" x2="394.2" y2="827.5" stroke="#e09cf0" stroke-width="2"/>
<line x1="384" y1="822.5" x2="384" y2="827.5" stroke="#000" stroke-width="1.6"/>
<text x="405.3" y="832.4" font-size="11.4" fill="#222">NTX(2.0)</text>
<line x1="374.7" y1="843.1" x2="394.2" y2="843.1" stroke="#9a10e0" stroke-width="2"/>
<line x1="384" y1="838.1" x2="384" y2="843.1" stroke="#000" stroke-width="1.6"/>
<text x="405.3" y="848" font-size="11.4" fill="#222">NTX(0.5)+VCX(100)</text>
<line x1="374.7" y1="858.7" x2="394.2" y2="858.7" stroke="#ff1010" stroke-width="2"/>
<line x1="384" y1="853.7" x2="384" y2="858.7" stroke="#000" stroke-width="1.6"/>
<text x="405.3" y="863.6" font-size="11.4" fill="#222">NTX(1.0)+VCX(100)</text>
<line x1="374.7" y1="874.3" x2="394.2" y2="874.3" stroke="#1a1aff" stroke-width="2"/>
<line x1="384" y1="869.3" x2="384" y2="874.3" stroke="#000" stroke-width="1.6"/>
<text x="405.3" y="879.2" font-size="11.4" fill="#222">AZA(2.5)+VCX(100)</text>
<line x1="374.7" y1="889.9" x2="394.2" y2="889.9" stroke="#22b022" stroke-width="2"/>
<line x1="384" y1="884.9" x2="384" y2="889.9" stroke="#000" stroke-width="1.6"/>
<text x="405.3" y="894.8" font-size="11.4" fill="#222">VCX(100)</text>
<text x="584" y="731.5" font-size="20" fill="#7030a0" textLength="25.5" lengthAdjust="spacingAndGlyphs" stroke-width="0.45" stroke="#7030a0">***</text>
<text x="626.2" y="760.8" font-size="20" fill="#ff1010" textLength="25.7" lengthAdjust="spacingAndGlyphs" stroke-width="0.45" stroke="#ff1010">***</text>
<text x="601.8" y="878" font-size="20" fill="#3030e0" textLength="16.3" lengthAdjust="spacingAndGlyphs" stroke-width="0.45" stroke="#3030e0">**</text>
<text x="642" y="880" font-size="20" fill="#e050e0" textLength="25.1" lengthAdjust="spacingAndGlyphs" stroke-width="0.45" stroke="#e050e0">***</text>
<text x="592.4" y="897" font-size="20" fill="#10a050" stroke-width="0.45" stroke="#10a050">*</text>
</svg></body></html>
